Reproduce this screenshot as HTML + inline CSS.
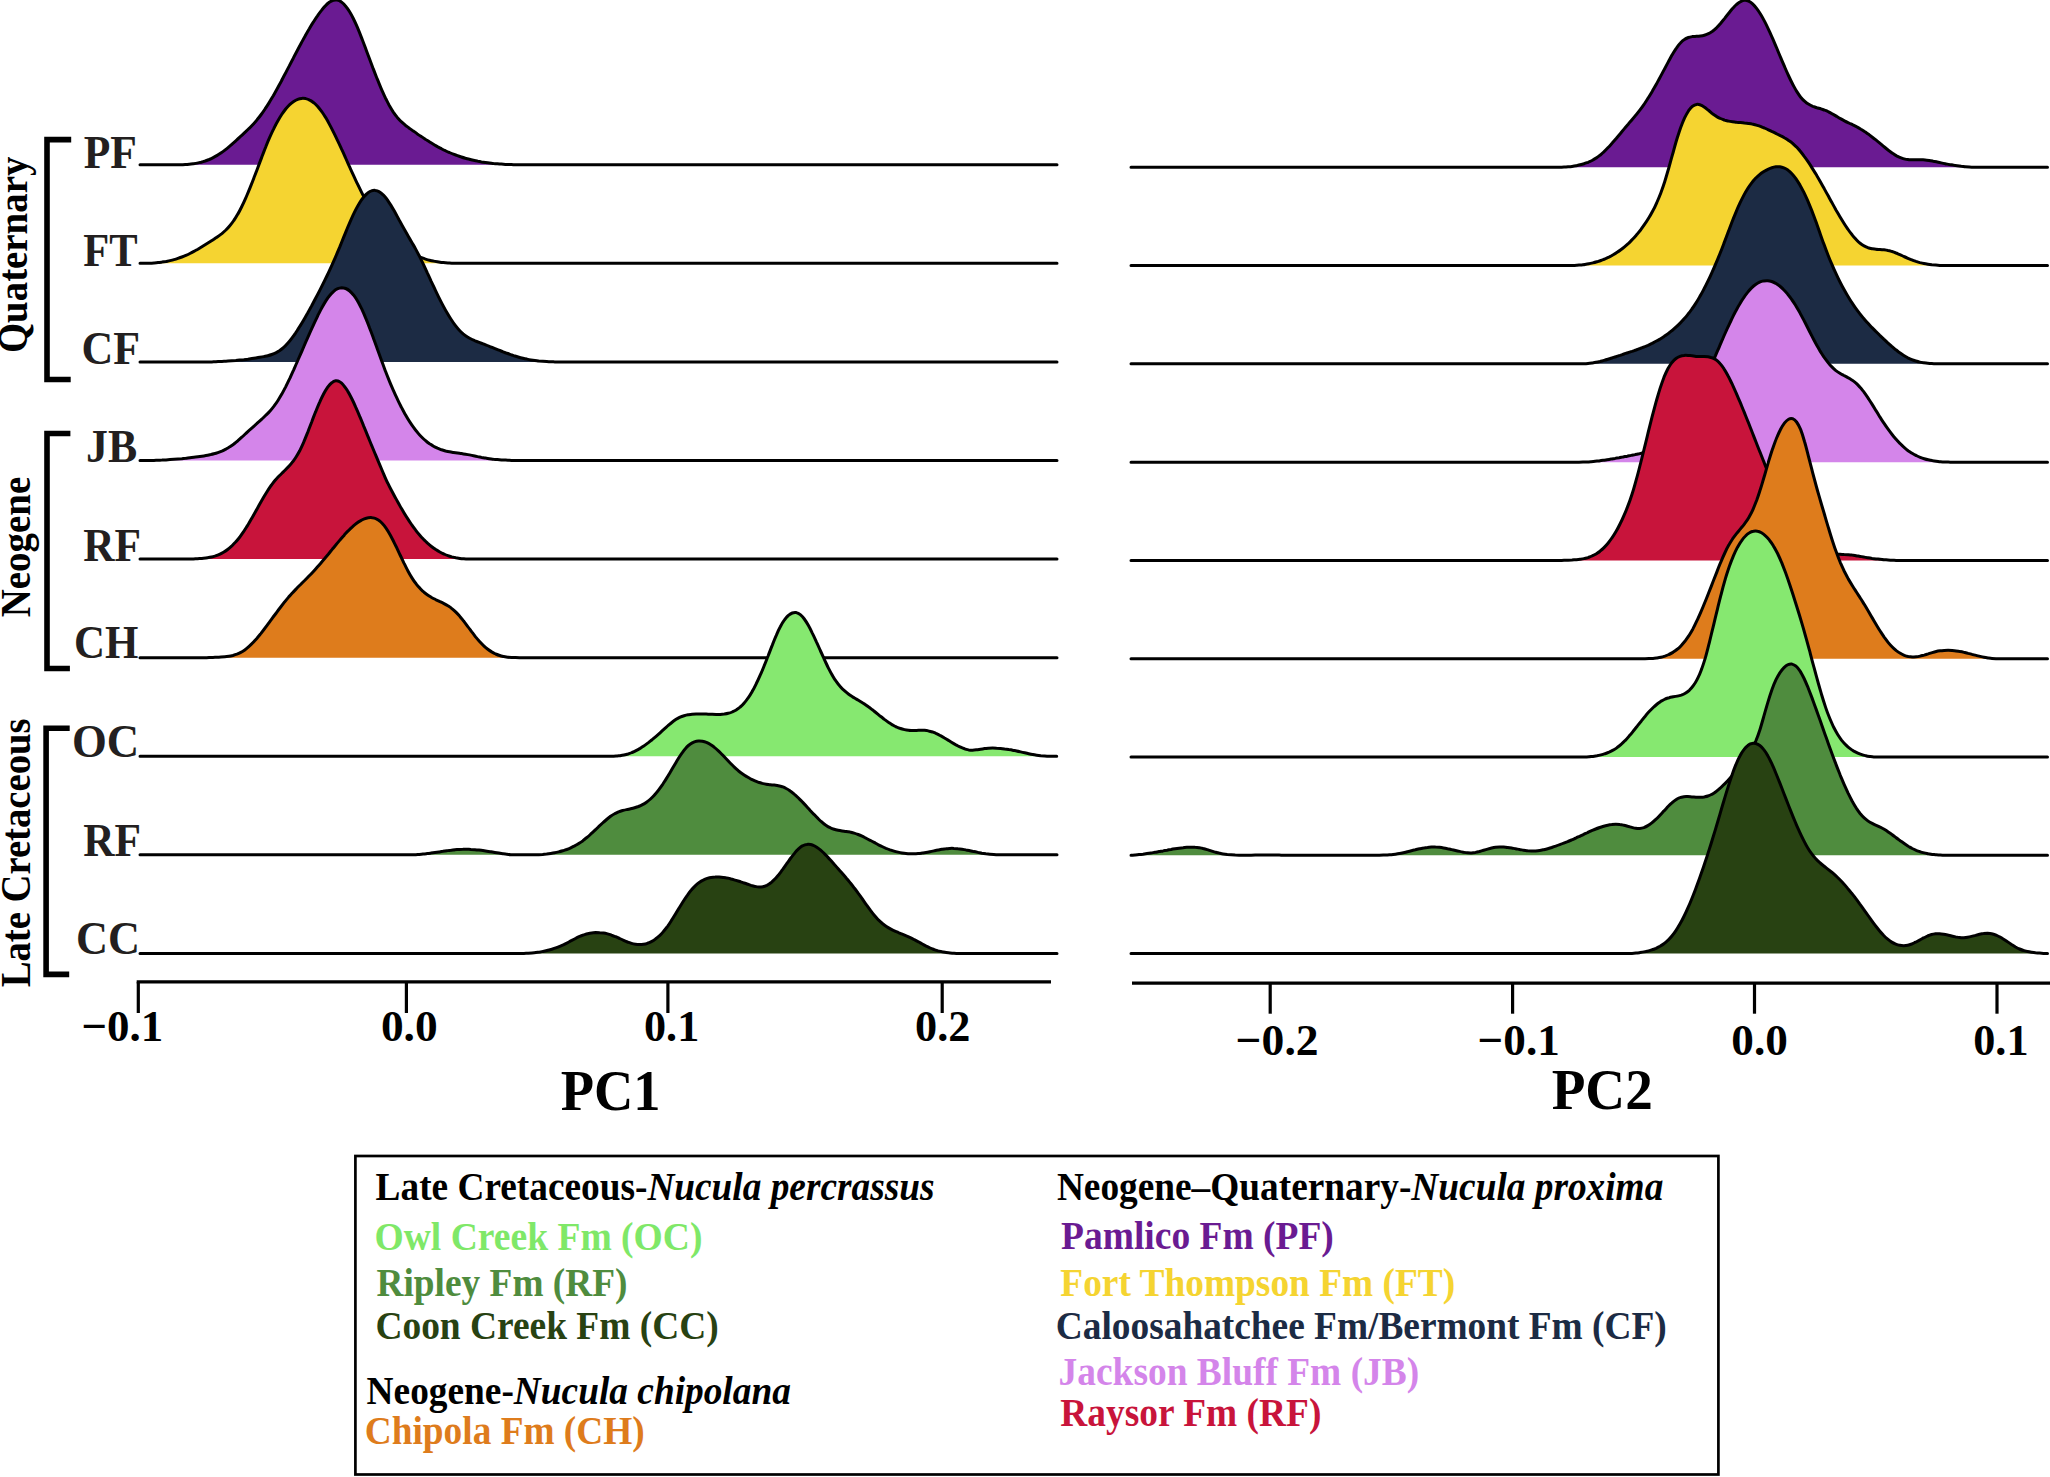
<!DOCTYPE html>
<html lang="en"><head><meta charset="utf-8"><title>Ridgeline plot PC1 / PC2</title>
<style>html,body{margin:0;padding:0;background:#fff}body{width:2050px;height:1477px;overflow:hidden}svg{display:block}</style>
</head><body>
<svg width="2050" height="1477" viewBox="0 0 2050 1477">
<rect width="2050" height="1477" fill="#fff"/>
<g stroke-linecap="round" stroke-linejoin="round">
<path d="M181.2 164.8C181.9 164.8 183.9 164.7 185.2 164.6C186.5 164.6 187.9 164.5 189.2 164.3C190.5 164.2 191.9 164 193.2 163.8C194.5 163.6 195.9 163.4 197.2 163.1C198.5 162.8 199.9 162.5 201.2 162.2C202.5 161.8 203.9 161.4 205.2 161C206.5 160.5 207.9 160 209.2 159.5C210.6 158.9 211.9 158.3 213.2 157.6C214.6 156.9 215.9 156.2 217.2 155.4C218.6 154.6 219.9 153.7 221.2 152.8C222.6 151.9 223.9 150.9 225.2 149.9C226.6 148.8 227.9 147.7 229.2 146.6C230.6 145.5 231.9 144.3 233.2 143.2C234.6 142 235.9 140.8 237.2 139.5C238.6 138.3 239.9 137.1 241.2 135.8C242.6 134.6 243.9 133.3 245.2 132.1C246.6 130.8 247.9 129.6 249.2 128.3C250.6 127 251.9 125.6 253.2 124.2C254.6 122.8 255.9 121.3 257.2 119.6C258.6 118 259.9 116.3 261.2 114.5C262.6 112.6 263.9 110.7 265.2 108.7C266.6 106.7 267.9 104.6 269.3 102.4C270.6 100.3 271.9 98 273.3 95.7C274.6 93.4 275.9 91 277.3 88.6C278.6 86.2 279.9 83.7 281.3 81.2C282.6 78.7 283.9 76.1 285.3 73.6C286.6 71 287.9 68.5 289.3 65.9C290.6 63.3 291.9 60.7 293.3 58.2C294.6 55.6 295.9 53.1 297.3 50.5C298.6 48 299.9 45.5 301.3 43C302.6 40.6 303.9 38.1 305.3 35.7C306.6 33.4 307.9 31 309.3 28.8C310.6 26.5 311.9 24.3 313.3 22.2C314.6 20.1 315.9 18 317.3 16.1C318.6 14.2 319.9 12.3 321.3 10.6C322.6 8.9 324 7.2 325.3 5.9C326.6 4.5 328 3.3 329.3 2.3C330.6 1.4 332 0.7 333.3 0.3C334.6 -0.1 336 -0.2 337.3 0.1C338.6 0.4 340 1 341.3 1.9C342.6 2.9 344 4.1 345.3 5.7C346.6 7.2 348 9.1 349.3 11.3C350.6 13.4 352 15.8 353.3 18.5C354.6 21.1 356 24.1 357.3 27.2C358.6 30.3 360 33.7 361.3 37.1C362.6 40.5 364 44 365.3 47.6C366.6 51.1 368 54.7 369.3 58.3C370.6 61.9 372 65.5 373.3 68.9C374.6 72.4 376 75.9 377.3 79.2C378.7 82.5 380 85.8 381.3 88.8C382.7 91.9 384 94.9 385.3 97.7C386.7 100.4 388 103.1 389.3 105.5C390.7 107.9 392 110.1 393.3 112.1C394.7 114.1 396 115.8 397.3 117.4C398.7 119 400 120.4 401.3 121.7C402.7 123 404 124.1 405.3 125.2C406.7 126.3 408 127.2 409.3 128.2C410.7 129.2 412 130.1 413.3 131.1C414.7 132 416 132.9 417.3 133.9C418.7 134.8 420 135.7 421.3 136.6C422.7 137.5 424 138.4 425.3 139.3C426.7 140.1 428 141 429.3 141.8C430.7 142.7 432 143.5 433.4 144.3C434.7 145.1 436 145.8 437.4 146.6C438.7 147.3 440 148 441.4 148.7C442.7 149.4 444 150.1 445.4 150.7C446.7 151.4 448 152 449.4 152.5C450.7 153.1 452 153.7 453.4 154.2C454.7 154.7 456 155.2 457.4 155.7C458.7 156.2 460 156.6 461.4 157C462.7 157.5 464 157.9 465.4 158.3C466.7 158.6 468 159 469.4 159.3C470.7 159.7 472 160 473.4 160.3C474.7 160.6 476 160.9 477.4 161.1C478.7 161.4 480 161.6 481.4 161.9C482.7 162.1 484 162.3 485.4 162.5C486.7 162.7 488 162.9 489.4 163C490.7 163.2 492.1 163.3 493.4 163.5C494.7 163.6 496.1 163.7 497.4 163.8C498.7 163.9 500.1 164 501.4 164.1C502.7 164.2 504.1 164.3 505.4 164.4C506.7 164.4 508.1 164.5 509.4 164.5C510.7 164.6 512.1 164.6 513.4 164.7C514.7 164.7 516.7 164.8 517.4 164.8Z" fill="#6a1b92" stroke="none"/>
<path d="M140 164.8L181.2 164.8C181.9 164.8 183.9 164.7 185.2 164.6C186.5 164.6 187.9 164.5 189.2 164.3C190.5 164.2 191.9 164 193.2 163.8C194.5 163.6 195.9 163.4 197.2 163.1C198.5 162.8 199.9 162.5 201.2 162.2C202.5 161.8 203.9 161.4 205.2 161C206.5 160.5 207.9 160 209.2 159.5C210.6 158.9 211.9 158.3 213.2 157.6C214.6 156.9 215.9 156.2 217.2 155.4C218.6 154.6 219.9 153.7 221.2 152.8C222.6 151.9 223.9 150.9 225.2 149.9C226.6 148.8 227.9 147.7 229.2 146.6C230.6 145.5 231.9 144.3 233.2 143.2C234.6 142 235.9 140.8 237.2 139.5C238.6 138.3 239.9 137.1 241.2 135.8C242.6 134.6 243.9 133.3 245.2 132.1C246.6 130.8 247.9 129.6 249.2 128.3C250.6 127 251.9 125.6 253.2 124.2C254.6 122.8 255.9 121.3 257.2 119.6C258.6 118 259.9 116.3 261.2 114.5C262.6 112.6 263.9 110.7 265.2 108.7C266.6 106.7 267.9 104.6 269.3 102.4C270.6 100.3 271.9 98 273.3 95.7C274.6 93.4 275.9 91 277.3 88.6C278.6 86.2 279.9 83.7 281.3 81.2C282.6 78.7 283.9 76.1 285.3 73.6C286.6 71 287.9 68.5 289.3 65.9C290.6 63.3 291.9 60.7 293.3 58.2C294.6 55.6 295.9 53.1 297.3 50.5C298.6 48 299.9 45.5 301.3 43C302.6 40.6 303.9 38.1 305.3 35.7C306.6 33.4 307.9 31 309.3 28.8C310.6 26.5 311.9 24.3 313.3 22.2C314.6 20.1 315.9 18 317.3 16.1C318.6 14.2 319.9 12.3 321.3 10.6C322.6 8.9 324 7.2 325.3 5.9C326.6 4.5 328 3.3 329.3 2.3C330.6 1.4 332 0.7 333.3 0.3C334.6 -0.1 336 -0.2 337.3 0.1C338.6 0.4 340 1 341.3 1.9C342.6 2.9 344 4.1 345.3 5.7C346.6 7.2 348 9.1 349.3 11.3C350.6 13.4 352 15.8 353.3 18.5C354.6 21.1 356 24.1 357.3 27.2C358.6 30.3 360 33.7 361.3 37.1C362.6 40.5 364 44 365.3 47.6C366.6 51.1 368 54.7 369.3 58.3C370.6 61.9 372 65.5 373.3 68.9C374.6 72.4 376 75.9 377.3 79.2C378.7 82.5 380 85.8 381.3 88.8C382.7 91.9 384 94.9 385.3 97.7C386.7 100.4 388 103.1 389.3 105.5C390.7 107.9 392 110.1 393.3 112.1C394.7 114.1 396 115.8 397.3 117.4C398.7 119 400 120.4 401.3 121.7C402.7 123 404 124.1 405.3 125.2C406.7 126.3 408 127.2 409.3 128.2C410.7 129.2 412 130.1 413.3 131.1C414.7 132 416 132.9 417.3 133.9C418.7 134.8 420 135.7 421.3 136.6C422.7 137.5 424 138.4 425.3 139.3C426.7 140.1 428 141 429.3 141.8C430.7 142.7 432 143.5 433.4 144.3C434.7 145.1 436 145.8 437.4 146.6C438.7 147.3 440 148 441.4 148.7C442.7 149.4 444 150.1 445.4 150.7C446.7 151.4 448 152 449.4 152.5C450.7 153.1 452 153.7 453.4 154.2C454.7 154.7 456 155.2 457.4 155.7C458.7 156.2 460 156.6 461.4 157C462.7 157.5 464 157.9 465.4 158.3C466.7 158.6 468 159 469.4 159.3C470.7 159.7 472 160 473.4 160.3C474.7 160.6 476 160.9 477.4 161.1C478.7 161.4 480 161.6 481.4 161.9C482.7 162.1 484 162.3 485.4 162.5C486.7 162.7 488 162.9 489.4 163C490.7 163.2 492.1 163.3 493.4 163.5C494.7 163.6 496.1 163.7 497.4 163.8C498.7 163.9 500.1 164 501.4 164.1C502.7 164.2 504.1 164.3 505.4 164.4C506.7 164.4 508.1 164.5 509.4 164.5C510.7 164.6 512.1 164.6 513.4 164.7C514.7 164.7 516.7 164.8 517.4 164.8L1057 164.8" fill="none" stroke="#000" stroke-width="3.0"/>
<path d="M150 263.2C150.7 263.2 152.7 263.1 154 263C155.3 262.9 156.7 262.8 158 262.6C159.3 262.5 160.6 262.3 162 262.1C163.3 261.9 164.6 261.7 166 261.5C167.3 261.2 168.6 261 170 260.6C171.3 260.3 172.6 260 174 259.6C175.3 259.3 176.6 258.9 177.9 258.4C179.3 258 180.6 257.5 181.9 257C183.3 256.5 184.6 256 185.9 255.4C187.3 254.8 188.6 254.2 189.9 253.5C191.3 252.8 192.6 252.1 193.9 251.4C195.2 250.7 196.6 249.9 197.9 249.2C199.2 248.4 200.6 247.6 201.9 246.8C203.2 246 204.6 245.1 205.9 244.3C207.2 243.5 208.6 242.6 209.9 241.8C211.2 240.9 212.5 240.1 213.9 239.2C215.2 238.3 216.5 237.5 217.9 236.5C219.2 235.6 220.5 234.6 221.9 233.6C223.2 232.5 224.5 231.3 225.9 230C227.2 228.7 228.5 227.3 229.8 225.7C231.2 224.1 232.5 222.4 233.8 220.5C235.2 218.6 236.5 216.4 237.8 214.1C239.2 211.8 240.5 209.2 241.8 206.5C243.2 203.8 244.5 200.9 245.8 197.9C247.1 194.8 248.5 191.6 249.8 188.4C251.1 185.1 252.5 181.7 253.8 178.2C255.1 174.8 256.5 171.3 257.8 167.7C259.1 164.2 260.5 160.6 261.8 157.1C263.1 153.6 264.4 150.1 265.8 146.8C267.1 143.5 268.4 140.3 269.8 137.2C271.1 134.2 272.4 131.3 273.8 128.6C275.1 125.9 276.4 123.4 277.8 121C279.1 118.7 280.4 116.5 281.7 114.5C283.1 112.5 284.4 110.7 285.7 109C287.1 107.4 288.4 105.9 289.7 104.7C291.1 103.4 292.4 102.3 293.7 101.4C295.1 100.5 296.4 99.8 297.7 99.3C299 98.8 300.4 98.5 301.7 98.4C303 98.3 304.4 98.4 305.7 98.6C307 98.9 308.4 99.4 309.7 100.1C311 100.7 312.3 101.6 313.7 102.7C315 103.8 316.3 105 317.7 106.5C319 108 320.3 109.7 321.7 111.5C323 113.4 324.3 115.4 325.7 117.6C327 119.8 328.3 122.2 329.6 124.6C331 127.1 332.3 129.7 333.6 132.3C335 135 336.3 137.8 337.6 140.6C339 143.4 340.3 146.3 341.6 149.2C343 152.1 344.3 155.1 345.6 158C346.9 161 348.3 164 349.6 166.9C350.9 169.8 352.3 172.8 353.6 175.7C354.9 178.6 356.3 181.4 357.6 184.2C358.9 186.9 360.3 189.7 361.6 192.3C362.9 194.9 364.2 197.5 365.6 200C366.9 202.5 368.2 204.9 369.6 207.2C370.9 209.5 372.2 211.7 373.6 213.9C374.9 216 376.2 218 377.6 220C378.9 221.9 380.2 223.8 381.5 225.6C382.9 227.4 384.2 229.1 385.5 230.7C386.9 232.3 388.2 233.8 389.5 235.3C390.9 236.7 392.2 238.1 393.5 239.4C394.9 240.7 396.2 242 397.5 243.1C398.8 244.3 400.2 245.4 401.5 246.5C402.8 247.5 404.2 248.5 405.5 249.4C406.8 250.3 408.2 251.2 409.5 251.9C410.8 252.7 412.2 253.5 413.5 254.2C414.8 254.9 416.1 255.5 417.5 256.1C418.8 256.7 420.1 257.2 421.5 257.7C422.8 258.2 424.1 258.7 425.5 259.1C426.8 259.5 428.1 259.9 429.5 260.2C430.8 260.6 432.1 260.9 433.4 261.1C434.8 261.4 436.1 261.6 437.4 261.8C438.8 262 440.1 262.2 441.4 262.4C442.8 262.5 444.1 262.7 445.4 262.8C446.8 262.9 448.1 263 449.4 263C450.7 263.1 452.1 263.2 453.4 263.2C454.7 263.2 456.7 263.2 457.4 263.2Z" fill="#f5d431" stroke="none"/>
<path d="M140 263.2L150 263.2C150.7 263.2 152.7 263.1 154 263C155.3 262.9 156.7 262.8 158 262.6C159.3 262.5 160.6 262.3 162 262.1C163.3 261.9 164.6 261.7 166 261.5C167.3 261.2 168.6 261 170 260.6C171.3 260.3 172.6 260 174 259.6C175.3 259.3 176.6 258.9 177.9 258.4C179.3 258 180.6 257.5 181.9 257C183.3 256.5 184.6 256 185.9 255.4C187.3 254.8 188.6 254.2 189.9 253.5C191.3 252.8 192.6 252.1 193.9 251.4C195.2 250.7 196.6 249.9 197.9 249.2C199.2 248.4 200.6 247.6 201.9 246.8C203.2 246 204.6 245.1 205.9 244.3C207.2 243.5 208.6 242.6 209.9 241.8C211.2 240.9 212.5 240.1 213.9 239.2C215.2 238.3 216.5 237.5 217.9 236.5C219.2 235.6 220.5 234.6 221.9 233.6C223.2 232.5 224.5 231.3 225.9 230C227.2 228.7 228.5 227.3 229.8 225.7C231.2 224.1 232.5 222.4 233.8 220.5C235.2 218.6 236.5 216.4 237.8 214.1C239.2 211.8 240.5 209.2 241.8 206.5C243.2 203.8 244.5 200.9 245.8 197.9C247.1 194.8 248.5 191.6 249.8 188.4C251.1 185.1 252.5 181.7 253.8 178.2C255.1 174.8 256.5 171.3 257.8 167.7C259.1 164.2 260.5 160.6 261.8 157.1C263.1 153.6 264.4 150.1 265.8 146.8C267.1 143.5 268.4 140.3 269.8 137.2C271.1 134.2 272.4 131.3 273.8 128.6C275.1 125.9 276.4 123.4 277.8 121C279.1 118.7 280.4 116.5 281.7 114.5C283.1 112.5 284.4 110.7 285.7 109C287.1 107.4 288.4 105.9 289.7 104.7C291.1 103.4 292.4 102.3 293.7 101.4C295.1 100.5 296.4 99.8 297.7 99.3C299 98.8 300.4 98.5 301.7 98.4C303 98.3 304.4 98.4 305.7 98.6C307 98.9 308.4 99.4 309.7 100.1C311 100.7 312.3 101.6 313.7 102.7C315 103.8 316.3 105 317.7 106.5C319 108 320.3 109.7 321.7 111.5C323 113.4 324.3 115.4 325.7 117.6C327 119.8 328.3 122.2 329.6 124.6C331 127.1 332.3 129.7 333.6 132.3C335 135 336.3 137.8 337.6 140.6C339 143.4 340.3 146.3 341.6 149.2C343 152.1 344.3 155.1 345.6 158C346.9 161 348.3 164 349.6 166.9C350.9 169.8 352.3 172.8 353.6 175.7C354.9 178.6 356.3 181.4 357.6 184.2C358.9 186.9 360.3 189.7 361.6 192.3C362.9 194.9 364.2 197.5 365.6 200C366.9 202.5 368.2 204.9 369.6 207.2C370.9 209.5 372.2 211.7 373.6 213.9C374.9 216 376.2 218 377.6 220C378.9 221.9 380.2 223.8 381.5 225.6C382.9 227.4 384.2 229.1 385.5 230.7C386.9 232.3 388.2 233.8 389.5 235.3C390.9 236.7 392.2 238.1 393.5 239.4C394.9 240.7 396.2 242 397.5 243.1C398.8 244.3 400.2 245.4 401.5 246.5C402.8 247.5 404.2 248.5 405.5 249.4C406.8 250.3 408.2 251.2 409.5 251.9C410.8 252.7 412.2 253.5 413.5 254.2C414.8 254.9 416.1 255.5 417.5 256.1C418.8 256.7 420.1 257.2 421.5 257.7C422.8 258.2 424.1 258.7 425.5 259.1C426.8 259.5 428.1 259.9 429.5 260.2C430.8 260.6 432.1 260.9 433.4 261.1C434.8 261.4 436.1 261.6 437.4 261.8C438.8 262 440.1 262.2 441.4 262.4C442.8 262.5 444.1 262.7 445.4 262.8C446.8 262.9 448.1 263 449.4 263C450.7 263.1 452.1 263.2 453.4 263.2C454.7 263.2 456.7 263.2 457.4 263.2L1057 263.2" fill="none" stroke="#000" stroke-width="3.0"/>
<path d="M212 361.9C212.7 361.9 214.7 361.7 216 361.7C217.3 361.6 218.6 361.6 220 361.5C221.3 361.4 222.6 361.4 224 361.3C225.3 361.2 226.6 361.2 227.9 361.1C229.3 361 230.6 360.9 231.9 360.8C233.3 360.7 234.6 360.6 235.9 360.5C237.2 360.3 238.6 360.2 239.9 360.1C241.2 360 242.6 359.8 243.9 359.7C245.2 359.5 246.5 359.3 247.9 359.2C249.2 359 250.5 358.8 251.9 358.6C253.2 358.4 254.5 358.2 255.8 358C257.2 357.8 258.5 357.6 259.8 357.3C261.2 357.1 262.5 356.9 263.8 356.6C265.1 356.3 266.5 356.1 267.8 355.7C269.1 355.4 270.5 355 271.8 354.5C273.1 354 274.4 353.5 275.8 352.8C277.1 352.2 278.4 351.4 279.8 350.5C281.1 349.5 282.4 348.5 283.7 347.3C285.1 346.1 286.4 344.7 287.7 343.2C289.1 341.7 290.4 340.1 291.7 338.3C293 336.6 294.4 334.7 295.7 332.8C297 330.8 298.4 328.8 299.7 326.6C301 324.5 302.4 322.3 303.7 320C305 317.7 306.3 315.3 307.7 313C309 310.6 310.3 308.1 311.7 305.7C313 303.2 314.3 300.7 315.6 298.2C317 295.7 318.3 293.2 319.6 290.6C321 288 322.3 285.4 323.6 282.7C324.9 280 326.3 277.3 327.6 274.5C328.9 271.7 330.3 268.9 331.6 265.9C332.9 263 334.2 260 335.6 256.9C336.9 253.8 338.2 250.6 339.6 247.4C340.9 244.2 342.2 240.8 343.5 237.6C344.9 234.3 346.2 231 347.5 227.8C348.9 224.7 350.2 221.5 351.5 218.6C352.8 215.7 354.2 212.8 355.5 210.2C356.8 207.6 358.2 205.2 359.5 203C360.8 200.9 362.1 199 363.5 197.3C364.8 195.7 366.1 194.3 367.5 193.2C368.8 192.1 370.1 191.3 371.4 190.9C372.8 190.4 374.1 190.2 375.4 190.4C376.8 190.5 378.1 191.1 379.4 191.9C380.7 192.6 382.1 193.8 383.4 195.1C384.7 196.5 386.1 198.1 387.4 199.9C388.7 201.8 390 203.9 391.4 206.1C392.7 208.2 394 210.6 395.4 213C396.7 215.4 398 217.9 399.3 220.3C400.7 222.7 402 225.2 403.3 227.6C404.7 230 406 232.3 407.3 234.6C408.6 237 410 239.2 411.3 241.5C412.6 243.8 414 246 415.3 248.4C416.6 250.9 417.9 253.3 419.3 255.9C420.6 258.6 421.9 261.3 423.3 264.1C424.6 266.9 425.9 269.7 427.2 272.6C428.6 275.5 429.9 278.4 431.2 281.3C432.6 284.2 433.9 287.1 435.2 289.9C436.5 292.7 437.9 295.4 439.2 298.1C440.5 300.8 441.9 303.4 443.2 305.9C444.5 308.4 445.8 310.8 447.2 313C448.5 315.3 449.8 317.5 451.2 319.5C452.5 321.5 453.8 323.5 455.1 325.2C456.5 327 457.8 328.6 459.1 330C460.5 331.5 461.8 332.7 463.1 333.9C464.4 335 465.8 335.9 467.1 336.8C468.4 337.6 469.8 338.3 471.1 339C472.4 339.7 473.8 340.2 475.1 340.8C476.4 341.3 477.7 341.8 479.1 342.3C480.4 342.8 481.7 343.3 483.1 343.8C484.4 344.3 485.7 344.9 487 345.4C488.4 345.9 489.7 346.5 491 347C492.4 347.5 493.7 348.1 495 348.6C496.3 349.2 497.7 349.7 499 350.2C500.3 350.7 501.7 351.3 503 351.8C504.3 352.3 505.6 352.8 507 353.3C508.3 353.7 509.6 354.2 511 354.7C512.3 355.1 513.6 355.6 514.9 356C516.3 356.4 517.6 356.8 518.9 357.2C520.3 357.6 521.6 357.9 522.9 358.2C524.2 358.6 525.6 358.9 526.9 359.1C528.2 359.4 529.6 359.7 530.9 359.9C532.2 360.1 533.5 360.3 534.9 360.5C536.2 360.7 537.5 360.8 538.9 361C540.2 361.1 541.5 361.2 542.8 361.3C544.2 361.4 545.5 361.5 546.8 361.6C548.2 361.7 549.5 361.7 550.8 361.8C552.1 361.8 554.1 361.9 554.8 361.9Z" fill="#1c2b44" stroke="none"/>
<path d="M140 361.9L212 361.9C212.7 361.9 214.7 361.7 216 361.7C217.3 361.6 218.6 361.6 220 361.5C221.3 361.4 222.6 361.4 224 361.3C225.3 361.2 226.6 361.2 227.9 361.1C229.3 361 230.6 360.9 231.9 360.8C233.3 360.7 234.6 360.6 235.9 360.5C237.2 360.3 238.6 360.2 239.9 360.1C241.2 360 242.6 359.8 243.9 359.7C245.2 359.5 246.5 359.3 247.9 359.2C249.2 359 250.5 358.8 251.9 358.6C253.2 358.4 254.5 358.2 255.8 358C257.2 357.8 258.5 357.6 259.8 357.3C261.2 357.1 262.5 356.9 263.8 356.6C265.1 356.3 266.5 356.1 267.8 355.7C269.1 355.4 270.5 355 271.8 354.5C273.1 354 274.4 353.5 275.8 352.8C277.1 352.2 278.4 351.4 279.8 350.5C281.1 349.5 282.4 348.5 283.7 347.3C285.1 346.1 286.4 344.7 287.7 343.2C289.1 341.7 290.4 340.1 291.7 338.3C293 336.6 294.4 334.7 295.7 332.8C297 330.8 298.4 328.8 299.7 326.6C301 324.5 302.4 322.3 303.7 320C305 317.7 306.3 315.3 307.7 313C309 310.6 310.3 308.1 311.7 305.7C313 303.2 314.3 300.7 315.6 298.2C317 295.7 318.3 293.2 319.6 290.6C321 288 322.3 285.4 323.6 282.7C324.9 280 326.3 277.3 327.6 274.5C328.9 271.7 330.3 268.9 331.6 265.9C332.9 263 334.2 260 335.6 256.9C336.9 253.8 338.2 250.6 339.6 247.4C340.9 244.2 342.2 240.8 343.5 237.6C344.9 234.3 346.2 231 347.5 227.8C348.9 224.7 350.2 221.5 351.5 218.6C352.8 215.7 354.2 212.8 355.5 210.2C356.8 207.6 358.2 205.2 359.5 203C360.8 200.9 362.1 199 363.5 197.3C364.8 195.7 366.1 194.3 367.5 193.2C368.8 192.1 370.1 191.3 371.4 190.9C372.8 190.4 374.1 190.2 375.4 190.4C376.8 190.5 378.1 191.1 379.4 191.9C380.7 192.6 382.1 193.8 383.4 195.1C384.7 196.5 386.1 198.1 387.4 199.9C388.7 201.8 390 203.9 391.4 206.1C392.7 208.2 394 210.6 395.4 213C396.7 215.4 398 217.9 399.3 220.3C400.7 222.7 402 225.2 403.3 227.6C404.7 230 406 232.3 407.3 234.6C408.6 237 410 239.2 411.3 241.5C412.6 243.8 414 246 415.3 248.4C416.6 250.9 417.9 253.3 419.3 255.9C420.6 258.6 421.9 261.3 423.3 264.1C424.6 266.9 425.9 269.7 427.2 272.6C428.6 275.5 429.9 278.4 431.2 281.3C432.6 284.2 433.9 287.1 435.2 289.9C436.5 292.7 437.9 295.4 439.2 298.1C440.5 300.8 441.9 303.4 443.2 305.9C444.5 308.4 445.8 310.8 447.2 313C448.5 315.3 449.8 317.5 451.2 319.5C452.5 321.5 453.8 323.5 455.1 325.2C456.5 327 457.8 328.6 459.1 330C460.5 331.5 461.8 332.7 463.1 333.9C464.4 335 465.8 335.9 467.1 336.8C468.4 337.6 469.8 338.3 471.1 339C472.4 339.7 473.8 340.2 475.1 340.8C476.4 341.3 477.7 341.8 479.1 342.3C480.4 342.8 481.7 343.3 483.1 343.8C484.4 344.3 485.7 344.9 487 345.4C488.4 345.9 489.7 346.5 491 347C492.4 347.5 493.7 348.1 495 348.6C496.3 349.2 497.7 349.7 499 350.2C500.3 350.7 501.7 351.3 503 351.8C504.3 352.3 505.6 352.8 507 353.3C508.3 353.7 509.6 354.2 511 354.7C512.3 355.1 513.6 355.6 514.9 356C516.3 356.4 517.6 356.8 518.9 357.2C520.3 357.6 521.6 357.9 522.9 358.2C524.2 358.6 525.6 358.9 526.9 359.1C528.2 359.4 529.6 359.7 530.9 359.9C532.2 360.1 533.5 360.3 534.9 360.5C536.2 360.7 537.5 360.8 538.9 361C540.2 361.1 541.5 361.2 542.8 361.3C544.2 361.4 545.5 361.5 546.8 361.6C548.2 361.7 549.5 361.7 550.8 361.8C552.1 361.8 554.1 361.9 554.8 361.9L1057 361.9" fill="none" stroke="#000" stroke-width="3.0"/>
<path d="M150 460.6C150.7 460.6 152.7 460.4 154 460.4C155.3 460.3 156.7 460.3 158 460.2C159.3 460.2 160.6 460.1 162 460.1C163.3 460 164.6 459.9 166 459.9C167.3 459.8 168.6 459.7 170 459.6C171.3 459.5 172.6 459.4 174 459.3C175.3 459.2 176.6 459.1 178 459C179.3 458.9 180.6 458.8 181.9 458.7C183.3 458.5 184.6 458.4 185.9 458.3C187.3 458.1 188.6 458 189.9 457.8C191.3 457.7 192.6 457.5 193.9 457.3C195.3 457.2 196.6 457 197.9 456.8C199.3 456.6 200.6 456.4 201.9 456.2C203.2 456 204.6 455.8 205.9 455.6C207.2 455.4 208.6 455.1 209.9 454.8C211.2 454.5 212.6 454.2 213.9 453.8C215.2 453.5 216.6 453.1 217.9 452.6C219.2 452.1 220.6 451.6 221.9 451.1C223.2 450.5 224.5 449.8 225.9 449.1C227.2 448.4 228.5 447.6 229.9 446.8C231.2 445.9 232.5 445 233.9 444C235.2 442.9 236.5 441.8 237.9 440.7C239.2 439.6 240.5 438.4 241.8 437.2C243.2 436 244.5 434.7 245.8 433.5C247.2 432.3 248.5 431.1 249.8 429.8C251.2 428.6 252.5 427.5 253.8 426.3C255.2 425.1 256.5 423.9 257.8 422.7C259.2 421.5 260.5 420.3 261.8 419.1C263.1 417.9 264.5 416.7 265.8 415.3C267.1 414 268.5 412.7 269.8 411.2C271.1 409.7 272.5 408.1 273.8 406.4C275.1 404.6 276.5 402.7 277.8 400.7C279.1 398.6 280.5 396.4 281.8 394.1C283.1 391.7 284.4 389.2 285.8 386.6C287.1 384 288.4 381.2 289.8 378.4C291.1 375.5 292.4 372.5 293.8 369.6C295.1 366.6 296.4 363.6 297.8 360.5C299.1 357.5 300.4 354.4 301.8 351.3C303.1 348.3 304.4 345.2 305.7 342.2C307.1 339.1 308.4 336.1 309.7 333.1C311.1 330.1 312.4 327.1 313.7 324.3C315.1 321.4 316.4 318.5 317.7 315.8C319.1 313.1 320.4 310.4 321.7 308C323.1 305.5 324.4 303.2 325.7 301.1C327 299 328.4 297.1 329.7 295.5C331 293.8 332.4 292.4 333.7 291.3C335 290.1 336.4 289.3 337.7 288.7C339 288.1 340.4 287.8 341.7 287.7C343 287.7 344.3 288 345.7 288.5C347 289 348.3 289.8 349.7 291C351 292.1 352.3 293.5 353.7 295.2C355 296.9 356.3 298.9 357.7 301.2C359 303.5 360.3 306.1 361.7 308.9C363 311.7 364.3 314.7 365.6 317.9C367 321.1 368.3 324.5 369.6 328C371 331.4 372.3 335.1 373.6 338.7C375 342.3 376.3 346 377.6 349.7C379 353.4 380.3 357.1 381.6 360.8C383 364.4 384.3 368 385.6 371.5C386.9 374.9 388.3 378.3 389.6 381.6C390.9 384.8 392.3 387.9 393.6 390.9C394.9 394 396.3 396.9 397.6 399.6C398.9 402.4 400.3 405.1 401.6 407.7C402.9 410.2 404.3 412.6 405.6 415C406.9 417.3 408.2 419.5 409.6 421.6C410.9 423.6 412.2 425.6 413.6 427.4C414.9 429.3 416.2 431 417.6 432.6C418.9 434.2 420.2 435.6 421.6 437C422.9 438.3 424.2 439.5 425.6 440.6C426.9 441.8 428.2 442.8 429.5 443.7C430.9 444.6 432.2 445.5 433.5 446.2C434.9 447 436.2 447.6 437.5 448.2C438.9 448.8 440.2 449.3 441.5 449.8C442.9 450.2 444.2 450.6 445.5 451C446.8 451.3 448.2 451.6 449.5 451.8C450.8 452.1 452.2 452.3 453.5 452.5C454.8 452.7 456.2 452.9 457.5 453.1C458.8 453.3 460.2 453.4 461.5 453.6C462.8 453.8 464.2 454 465.5 454.2C466.8 454.4 468.1 454.6 469.5 454.9C470.8 455.2 472.1 455.5 473.5 455.7C474.8 456 476.1 456.3 477.5 456.6C478.8 456.9 480.1 457.1 481.5 457.4C482.8 457.6 484.1 457.9 485.5 458.1C486.8 458.3 488.1 458.5 489.4 458.7C490.8 458.9 492.1 459 493.4 459.2C494.8 459.3 496.1 459.5 497.4 459.6C498.8 459.7 500.1 459.8 501.4 459.9C502.8 460 504.1 460.1 505.4 460.1C506.8 460.2 508.1 460.3 509.4 460.3C510.7 460.4 512.1 460.4 513.4 460.5C514.7 460.5 516.7 460.6 517.4 460.6Z" fill="#d485ea" stroke="none"/>
<path d="M140 460.6L150 460.6C150.7 460.6 152.7 460.4 154 460.4C155.3 460.3 156.7 460.3 158 460.2C159.3 460.2 160.6 460.1 162 460.1C163.3 460 164.6 459.9 166 459.9C167.3 459.8 168.6 459.7 170 459.6C171.3 459.5 172.6 459.4 174 459.3C175.3 459.2 176.6 459.1 178 459C179.3 458.9 180.6 458.8 181.9 458.7C183.3 458.5 184.6 458.4 185.9 458.3C187.3 458.1 188.6 458 189.9 457.8C191.3 457.7 192.6 457.5 193.9 457.3C195.3 457.2 196.6 457 197.9 456.8C199.3 456.6 200.6 456.4 201.9 456.2C203.2 456 204.6 455.8 205.9 455.6C207.2 455.4 208.6 455.1 209.9 454.8C211.2 454.5 212.6 454.2 213.9 453.8C215.2 453.5 216.6 453.1 217.9 452.6C219.2 452.1 220.6 451.6 221.9 451.1C223.2 450.5 224.5 449.8 225.9 449.1C227.2 448.4 228.5 447.6 229.9 446.8C231.2 445.9 232.5 445 233.9 444C235.2 442.9 236.5 441.8 237.9 440.7C239.2 439.6 240.5 438.4 241.8 437.2C243.2 436 244.5 434.7 245.8 433.5C247.2 432.3 248.5 431.1 249.8 429.8C251.2 428.6 252.5 427.5 253.8 426.3C255.2 425.1 256.5 423.9 257.8 422.7C259.2 421.5 260.5 420.3 261.8 419.1C263.1 417.9 264.5 416.7 265.8 415.3C267.1 414 268.5 412.7 269.8 411.2C271.1 409.7 272.5 408.1 273.8 406.4C275.1 404.6 276.5 402.7 277.8 400.7C279.1 398.6 280.5 396.4 281.8 394.1C283.1 391.7 284.4 389.2 285.8 386.6C287.1 384 288.4 381.2 289.8 378.4C291.1 375.5 292.4 372.5 293.8 369.6C295.1 366.6 296.4 363.6 297.8 360.5C299.1 357.5 300.4 354.4 301.8 351.3C303.1 348.3 304.4 345.2 305.7 342.2C307.1 339.1 308.4 336.1 309.7 333.1C311.1 330.1 312.4 327.1 313.7 324.3C315.1 321.4 316.4 318.5 317.7 315.8C319.1 313.1 320.4 310.4 321.7 308C323.1 305.5 324.4 303.2 325.7 301.1C327 299 328.4 297.1 329.7 295.5C331 293.8 332.4 292.4 333.7 291.3C335 290.1 336.4 289.3 337.7 288.7C339 288.1 340.4 287.8 341.7 287.7C343 287.7 344.3 288 345.7 288.5C347 289 348.3 289.8 349.7 291C351 292.1 352.3 293.5 353.7 295.2C355 296.9 356.3 298.9 357.7 301.2C359 303.5 360.3 306.1 361.7 308.9C363 311.7 364.3 314.7 365.6 317.9C367 321.1 368.3 324.5 369.6 328C371 331.4 372.3 335.1 373.6 338.7C375 342.3 376.3 346 377.6 349.7C379 353.4 380.3 357.1 381.6 360.8C383 364.4 384.3 368 385.6 371.5C386.9 374.9 388.3 378.3 389.6 381.6C390.9 384.8 392.3 387.9 393.6 390.9C394.9 394 396.3 396.9 397.6 399.6C398.9 402.4 400.3 405.1 401.6 407.7C402.9 410.2 404.3 412.6 405.6 415C406.9 417.3 408.2 419.5 409.6 421.6C410.9 423.6 412.2 425.6 413.6 427.4C414.9 429.3 416.2 431 417.6 432.6C418.9 434.2 420.2 435.6 421.6 437C422.9 438.3 424.2 439.5 425.6 440.6C426.9 441.8 428.2 442.8 429.5 443.7C430.9 444.6 432.2 445.5 433.5 446.2C434.9 447 436.2 447.6 437.5 448.2C438.9 448.8 440.2 449.3 441.5 449.8C442.9 450.2 444.2 450.6 445.5 451C446.8 451.3 448.2 451.6 449.5 451.8C450.8 452.1 452.2 452.3 453.5 452.5C454.8 452.7 456.2 452.9 457.5 453.1C458.8 453.3 460.2 453.4 461.5 453.6C462.8 453.8 464.2 454 465.5 454.2C466.8 454.4 468.1 454.6 469.5 454.9C470.8 455.2 472.1 455.5 473.5 455.7C474.8 456 476.1 456.3 477.5 456.6C478.8 456.9 480.1 457.1 481.5 457.4C482.8 457.6 484.1 457.9 485.5 458.1C486.8 458.3 488.1 458.5 489.4 458.7C490.8 458.9 492.1 459 493.4 459.2C494.8 459.3 496.1 459.5 497.4 459.6C498.8 459.7 500.1 459.8 501.4 459.9C502.8 460 504.1 460.1 505.4 460.1C506.8 460.2 508.1 460.3 509.4 460.3C510.7 460.4 512.1 460.4 513.4 460.5C514.7 460.5 516.7 460.6 517.4 460.6L1057 460.6" fill="none" stroke="#000" stroke-width="3.0"/>
<path d="M187.5 559.1C188.2 559.1 190.2 559 191.5 559C192.8 558.9 194.2 558.9 195.5 558.8C196.8 558.7 198.2 558.7 199.5 558.6C200.9 558.5 202.2 558.4 203.5 558.2C204.9 558.1 206.2 558 207.5 557.7C208.9 557.5 210.2 557.3 211.5 557C212.9 556.7 214.2 556.3 215.5 555.9C216.9 555.4 218.2 554.9 219.5 554.3C220.9 553.7 222.2 553 223.5 552.2C224.9 551.4 226.2 550.6 227.6 549.5C228.9 548.5 230.2 547.4 231.6 546.2C232.9 544.9 234.2 543.6 235.6 542.1C236.9 540.6 238.2 539 239.6 537.3C240.9 535.5 242.2 533.7 243.6 531.7C244.9 529.7 246.2 527.6 247.6 525.4C248.9 523.2 250.3 520.9 251.6 518.6C252.9 516.3 254.3 513.9 255.6 511.5C256.9 509.1 258.3 506.7 259.6 504.3C260.9 502 262.3 499.6 263.6 497.3C264.9 495.1 266.3 492.9 267.6 490.8C268.9 488.7 270.3 486.7 271.6 484.8C273 483 274.3 481.3 275.6 479.7C277 478.2 278.3 476.8 279.6 475.5C281 474.1 282.3 472.9 283.6 471.6C285 470.3 286.3 469.1 287.6 467.6C289 466.2 290.3 464.8 291.6 463.1C293 461.5 294.3 459.7 295.6 457.7C297 455.6 298.3 453.4 299.7 450.8C301 448.2 302.3 445.3 303.7 442.2C305 439.1 306.3 435.8 307.7 432.4C309 429 310.3 425.5 311.7 422C313 418.5 314.3 415 315.7 411.7C317 408.4 318.3 405.1 319.7 402.1C321 399.1 322.4 396.3 323.7 393.8C325 391.3 326.4 389.1 327.7 387.2C329 385.4 330.4 383.8 331.7 382.8C333 381.7 334.4 381 335.7 380.8C337 380.7 338.4 381 339.7 381.8C341 382.5 342.4 383.8 343.7 385.4C345 386.9 346.4 388.9 347.7 391.1C349.1 393.3 350.4 395.9 351.7 398.5C353.1 401.2 354.4 404.1 355.7 407.1C357.1 410.1 358.4 413.2 359.7 416.4C361.1 419.5 362.4 422.8 363.7 426.1C365.1 429.3 366.4 432.7 367.7 435.9C369.1 439.2 370.4 442.6 371.8 445.8C373.1 449 374.4 452.2 375.8 455.4C377.1 458.6 378.4 461.6 379.8 464.8C381.1 467.9 382.4 471.2 383.8 474.3C385.1 477.4 386.4 480.5 387.8 483.2C389.1 486 390.4 488.5 391.8 491C393.1 493.5 394.4 496 395.8 498.4C397.1 500.8 398.5 503.2 399.8 505.6C401.1 507.9 402.5 510.2 403.8 512.5C405.1 514.7 406.5 516.9 407.8 518.9C409.1 521 410.5 523 411.8 524.9C413.1 526.8 414.5 528.6 415.8 530.3C417.1 532.1 418.5 533.7 419.8 535.2C421.2 536.8 422.5 538.2 423.8 539.6C425.2 540.9 426.5 542.2 427.8 543.4C429.2 544.6 430.5 545.7 431.8 546.7C433.2 547.8 434.5 548.7 435.8 549.6C437.2 550.5 438.5 551.3 439.8 552C441.2 552.8 442.5 553.4 443.9 554C445.2 554.6 446.5 555.2 447.9 555.6C449.2 556.1 450.5 556.5 451.9 556.9C453.2 557.2 454.5 557.5 455.9 557.8C457.2 558 458.5 558.2 459.9 558.4C461.2 558.6 462.5 558.7 463.9 558.8C465.2 558.9 466.5 558.9 467.9 559C469.2 559 470.6 559 471.9 559.1C473.2 559.1 474.6 559.1 475.9 559.1C477.2 559.1 479.2 559.1 479.9 559.1Z" fill="#c8143b" stroke="none"/>
<path d="M140 559.1L187.5 559.1C188.2 559.1 190.2 559 191.5 559C192.8 558.9 194.2 558.9 195.5 558.8C196.8 558.7 198.2 558.7 199.5 558.6C200.9 558.5 202.2 558.4 203.5 558.2C204.9 558.1 206.2 558 207.5 557.7C208.9 557.5 210.2 557.3 211.5 557C212.9 556.7 214.2 556.3 215.5 555.9C216.9 555.4 218.2 554.9 219.5 554.3C220.9 553.7 222.2 553 223.5 552.2C224.9 551.4 226.2 550.6 227.6 549.5C228.9 548.5 230.2 547.4 231.6 546.2C232.9 544.9 234.2 543.6 235.6 542.1C236.9 540.6 238.2 539 239.6 537.3C240.9 535.5 242.2 533.7 243.6 531.7C244.9 529.7 246.2 527.6 247.6 525.4C248.9 523.2 250.3 520.9 251.6 518.6C252.9 516.3 254.3 513.9 255.6 511.5C256.9 509.1 258.3 506.7 259.6 504.3C260.9 502 262.3 499.6 263.6 497.3C264.9 495.1 266.3 492.9 267.6 490.8C268.9 488.7 270.3 486.7 271.6 484.8C273 483 274.3 481.3 275.6 479.7C277 478.2 278.3 476.8 279.6 475.5C281 474.1 282.3 472.9 283.6 471.6C285 470.3 286.3 469.1 287.6 467.6C289 466.2 290.3 464.8 291.6 463.1C293 461.5 294.3 459.7 295.6 457.7C297 455.6 298.3 453.4 299.7 450.8C301 448.2 302.3 445.3 303.7 442.2C305 439.1 306.3 435.8 307.7 432.4C309 429 310.3 425.5 311.7 422C313 418.5 314.3 415 315.7 411.7C317 408.4 318.3 405.1 319.7 402.1C321 399.1 322.4 396.3 323.7 393.8C325 391.3 326.4 389.1 327.7 387.2C329 385.4 330.4 383.8 331.7 382.8C333 381.7 334.4 381 335.7 380.8C337 380.7 338.4 381 339.7 381.8C341 382.5 342.4 383.8 343.7 385.4C345 386.9 346.4 388.9 347.7 391.1C349.1 393.3 350.4 395.9 351.7 398.5C353.1 401.2 354.4 404.1 355.7 407.1C357.1 410.1 358.4 413.2 359.7 416.4C361.1 419.5 362.4 422.8 363.7 426.1C365.1 429.3 366.4 432.7 367.7 435.9C369.1 439.2 370.4 442.6 371.8 445.8C373.1 449 374.4 452.2 375.8 455.4C377.1 458.6 378.4 461.6 379.8 464.8C381.1 467.9 382.4 471.2 383.8 474.3C385.1 477.4 386.4 480.5 387.8 483.2C389.1 486 390.4 488.5 391.8 491C393.1 493.5 394.4 496 395.8 498.4C397.1 500.8 398.5 503.2 399.8 505.6C401.1 507.9 402.5 510.2 403.8 512.5C405.1 514.7 406.5 516.9 407.8 518.9C409.1 521 410.5 523 411.8 524.9C413.1 526.8 414.5 528.6 415.8 530.3C417.1 532.1 418.5 533.7 419.8 535.2C421.2 536.8 422.5 538.2 423.8 539.6C425.2 540.9 426.5 542.2 427.8 543.4C429.2 544.6 430.5 545.7 431.8 546.7C433.2 547.8 434.5 548.7 435.8 549.6C437.2 550.5 438.5 551.3 439.8 552C441.2 552.8 442.5 553.4 443.9 554C445.2 554.6 446.5 555.2 447.9 555.6C449.2 556.1 450.5 556.5 451.9 556.9C453.2 557.2 454.5 557.5 455.9 557.8C457.2 558 458.5 558.2 459.9 558.4C461.2 558.6 462.5 558.7 463.9 558.8C465.2 558.9 466.5 558.9 467.9 559C469.2 559 470.6 559 471.9 559.1C473.2 559.1 474.6 559.1 475.9 559.1C477.2 559.1 479.2 559.1 479.9 559.1L1057 559.1" fill="none" stroke="#000" stroke-width="3.0"/>
<path d="M205 657.7C205.7 657.7 207.7 657.6 209 657.5C210.3 657.5 211.6 657.5 213 657.4C214.3 657.4 215.6 657.3 216.9 657.3C218.3 657.2 219.6 657.2 220.9 657.1C222.3 657 223.6 656.9 224.9 656.8C226.2 656.7 227.6 656.5 228.9 656.3C230.2 656.1 231.6 655.8 232.9 655.5C234.2 655.1 235.5 654.7 236.9 654.2C238.2 653.7 239.5 653.1 240.8 652.4C242.2 651.7 243.5 650.8 244.8 649.9C246.2 648.9 247.5 647.8 248.8 646.6C250.1 645.5 251.5 644.2 252.8 642.8C254.1 641.4 255.4 639.9 256.8 638.4C258.1 636.9 259.4 635.3 260.8 633.6C262.1 631.9 263.4 630.2 264.7 628.5C266.1 626.8 267.4 625 268.7 623.2C270 621.4 271.4 619.6 272.7 617.7C274 615.9 275.4 614.1 276.7 612.3C278 610.5 279.3 608.8 280.7 607C282 605.3 283.3 603.6 284.6 601.9C286 600.3 287.3 598.7 288.6 597.1C290 595.6 291.3 594.1 292.6 592.7C293.9 591.3 295.3 589.9 296.6 588.5C297.9 587.1 299.3 585.8 300.6 584.5C301.9 583.1 303.2 581.8 304.6 580.5C305.9 579.2 307.2 577.9 308.5 576.5C309.9 575.1 311.2 573.8 312.5 572.4C313.9 570.9 315.2 569.5 316.5 568C317.8 566.5 319.2 565 320.5 563.5C321.8 561.9 323.1 560.4 324.5 558.8C325.8 557.2 327.1 555.6 328.5 554C329.8 552.4 331.1 550.7 332.4 549.1C333.8 547.5 335.1 545.8 336.4 544.2C337.8 542.6 339.1 541 340.4 539.5C341.7 537.9 343.1 536.4 344.4 534.9C345.7 533.5 347 532 348.4 530.7C349.7 529.3 351 528 352.4 526.8C353.7 525.7 355 524.5 356.3 523.5C357.7 522.5 359 521.6 360.3 520.9C361.6 520.1 363 519.4 364.3 518.9C365.6 518.4 367 518 368.3 517.8C369.6 517.6 370.9 517.5 372.3 517.7C373.6 517.8 374.9 518.1 376.2 518.8C377.6 519.4 378.9 520.2 380.2 521.4C381.6 522.5 382.9 524 384.2 525.7C385.5 527.4 386.9 529.4 388.2 531.6C389.5 533.8 390.9 536.2 392.2 538.7C393.5 541.2 394.8 544 396.2 546.7C397.5 549.4 398.8 552.3 400.1 555C401.5 557.8 402.8 560.7 404.1 563.4C405.5 566.1 406.8 568.8 408.1 571.2C409.4 573.7 410.8 576 412.1 578.1C413.4 580.2 414.7 582.1 416.1 583.8C417.4 585.5 418.7 587 420.1 588.4C421.4 589.8 422.7 591.1 424 592.2C425.4 593.3 426.7 594.3 428 595.2C429.3 596.1 430.7 596.9 432 597.7C433.3 598.4 434.7 599.1 436 599.8C437.3 600.4 438.6 601 440 601.7C441.3 602.3 442.6 602.9 444 603.6C445.3 604.3 446.6 605 447.9 605.8C449.3 606.7 450.6 607.5 451.9 608.6C453.2 609.6 454.6 610.8 455.9 612.1C457.2 613.4 458.6 614.8 459.9 616.4C461.2 617.9 462.5 619.6 463.9 621.3C465.2 623 466.5 624.8 467.8 626.6C469.2 628.3 470.5 630.2 471.8 631.9C473.2 633.6 474.5 635.4 475.8 637.1C477.1 638.7 478.5 640.3 479.8 641.8C481.1 643.2 482.4 644.6 483.8 645.8C485.1 647 486.4 648.1 487.8 649.2C489.1 650.2 490.4 651.1 491.7 651.9C493.1 652.7 494.4 653.4 495.7 654C497.1 654.6 498.4 655.1 499.7 655.5C501 656 502.4 656.3 503.7 656.6C505 656.8 506.3 657 507.7 657.2C509 657.3 510.3 657.4 511.7 657.5C513 657.6 514.3 657.6 515.6 657.6C517 657.7 518.3 657.7 519.6 657.7C520.9 657.7 522.9 657.7 523.6 657.7Z" fill="#de7c1c" stroke="none"/>
<path d="M140 657.7L205 657.7C205.7 657.7 207.7 657.6 209 657.5C210.3 657.5 211.6 657.5 213 657.4C214.3 657.4 215.6 657.3 216.9 657.3C218.3 657.2 219.6 657.2 220.9 657.1C222.3 657 223.6 656.9 224.9 656.8C226.2 656.7 227.6 656.5 228.9 656.3C230.2 656.1 231.6 655.8 232.9 655.5C234.2 655.1 235.5 654.7 236.9 654.2C238.2 653.7 239.5 653.1 240.8 652.4C242.2 651.7 243.5 650.8 244.8 649.9C246.2 648.9 247.5 647.8 248.8 646.6C250.1 645.5 251.5 644.2 252.8 642.8C254.1 641.4 255.4 639.9 256.8 638.4C258.1 636.9 259.4 635.3 260.8 633.6C262.1 631.9 263.4 630.2 264.7 628.5C266.1 626.8 267.4 625 268.7 623.2C270 621.4 271.4 619.6 272.7 617.7C274 615.9 275.4 614.1 276.7 612.3C278 610.5 279.3 608.8 280.7 607C282 605.3 283.3 603.6 284.6 601.9C286 600.3 287.3 598.7 288.6 597.1C290 595.6 291.3 594.1 292.6 592.7C293.9 591.3 295.3 589.9 296.6 588.5C297.9 587.1 299.3 585.8 300.6 584.5C301.9 583.1 303.2 581.8 304.6 580.5C305.9 579.2 307.2 577.9 308.5 576.5C309.9 575.1 311.2 573.8 312.5 572.4C313.9 570.9 315.2 569.5 316.5 568C317.8 566.5 319.2 565 320.5 563.5C321.8 561.9 323.1 560.4 324.5 558.8C325.8 557.2 327.1 555.6 328.5 554C329.8 552.4 331.1 550.7 332.4 549.1C333.8 547.5 335.1 545.8 336.4 544.2C337.8 542.6 339.1 541 340.4 539.5C341.7 537.9 343.1 536.4 344.4 534.9C345.7 533.5 347 532 348.4 530.7C349.7 529.3 351 528 352.4 526.8C353.7 525.7 355 524.5 356.3 523.5C357.7 522.5 359 521.6 360.3 520.9C361.6 520.1 363 519.4 364.3 518.9C365.6 518.4 367 518 368.3 517.8C369.6 517.6 370.9 517.5 372.3 517.7C373.6 517.8 374.9 518.1 376.2 518.8C377.6 519.4 378.9 520.2 380.2 521.4C381.6 522.5 382.9 524 384.2 525.7C385.5 527.4 386.9 529.4 388.2 531.6C389.5 533.8 390.9 536.2 392.2 538.7C393.5 541.2 394.8 544 396.2 546.7C397.5 549.4 398.8 552.3 400.1 555C401.5 557.8 402.8 560.7 404.1 563.4C405.5 566.1 406.8 568.8 408.1 571.2C409.4 573.7 410.8 576 412.1 578.1C413.4 580.2 414.7 582.1 416.1 583.8C417.4 585.5 418.7 587 420.1 588.4C421.4 589.8 422.7 591.1 424 592.2C425.4 593.3 426.7 594.3 428 595.2C429.3 596.1 430.7 596.9 432 597.7C433.3 598.4 434.7 599.1 436 599.8C437.3 600.4 438.6 601 440 601.7C441.3 602.3 442.6 602.9 444 603.6C445.3 604.3 446.6 605 447.9 605.8C449.3 606.7 450.6 607.5 451.9 608.6C453.2 609.6 454.6 610.8 455.9 612.1C457.2 613.4 458.6 614.8 459.9 616.4C461.2 617.9 462.5 619.6 463.9 621.3C465.2 623 466.5 624.8 467.8 626.6C469.2 628.3 470.5 630.2 471.8 631.9C473.2 633.6 474.5 635.4 475.8 637.1C477.1 638.7 478.5 640.3 479.8 641.8C481.1 643.2 482.4 644.6 483.8 645.8C485.1 647 486.4 648.1 487.8 649.2C489.1 650.2 490.4 651.1 491.7 651.9C493.1 652.7 494.4 653.4 495.7 654C497.1 654.6 498.4 655.1 499.7 655.5C501 656 502.4 656.3 503.7 656.6C505 656.8 506.3 657 507.7 657.2C509 657.3 510.3 657.4 511.7 657.5C513 657.6 514.3 657.6 515.6 657.6C517 657.7 518.3 657.7 519.6 657.7C520.9 657.7 522.9 657.7 523.6 657.7L1057 657.7" fill="none" stroke="#000" stroke-width="3.0"/>
<path d="M604 756.3C604.7 756.3 606.7 756.3 608 756.3C609.3 756.3 610.7 756.3 612 756.2C613.3 756.2 614.7 756.1 616 756C617.4 756 618.7 755.8 620 755.7C621.4 755.5 622.7 755.3 624 755C625.4 754.7 626.7 754.4 628 754C629.4 753.5 630.7 753.1 632 752.5C633.4 751.9 634.7 751.3 636 750.6C637.4 749.9 638.7 749.2 640.1 748.4C641.4 747.6 642.7 746.7 644.1 745.8C645.4 744.9 646.7 743.9 648.1 742.9C649.4 741.9 650.7 740.8 652.1 739.7C653.4 738.6 654.7 737.5 656.1 736.3C657.4 735.2 658.8 734 660.1 732.8C661.4 731.6 662.8 730.3 664.1 729.1C665.4 727.9 666.8 726.7 668.1 725.5C669.4 724.4 670.8 723.2 672.1 722.2C673.4 721.2 674.8 720.2 676.1 719.3C677.4 718.5 678.8 717.8 680.1 717.1C681.5 716.5 682.8 716.1 684.1 715.7C685.5 715.3 686.8 715 688.1 714.8C689.5 714.6 690.8 714.4 692.1 714.3C693.5 714.2 694.8 714.1 696.1 714C697.5 714 698.8 714 700.1 714C701.5 714 702.8 714 704.2 714C705.5 714.1 706.8 714.1 708.2 714.2C709.5 714.2 710.8 714.3 712.2 714.3C713.5 714.4 714.8 714.4 716.2 714.4C717.5 714.4 718.8 714.4 720.2 714.4C721.5 714.3 722.9 714.2 724.2 714.1C725.5 713.9 726.9 713.7 728.2 713.3C729.5 713 730.9 712.6 732.2 712C733.5 711.4 734.9 710.8 736.2 710C737.5 709.1 738.9 708.2 740.2 707C741.5 705.9 742.9 704.6 744.2 703C745.6 701.5 746.9 699.8 748.2 697.8C749.6 695.9 750.9 693.7 752.2 691.4C753.6 689.1 754.9 686.5 756.2 683.8C757.6 681.1 758.9 678.2 760.2 675.2C761.6 672.2 762.9 669 764.2 665.7C765.6 662.4 766.9 658.9 768.3 655.5C769.6 652.1 770.9 648.5 772.3 645.1C773.6 641.7 774.9 638.3 776.3 635.3C777.6 632.2 778.9 629.3 780.3 626.8C781.6 624.3 782.9 622 784.3 620.2C785.6 618.3 786.9 616.7 788.3 615.5C789.6 614.3 791 613.5 792.3 613C793.6 612.5 795 612.4 796.3 612.6C797.6 612.9 799 613.6 800.3 614.6C801.6 615.7 803 617.2 804.3 619C805.6 620.8 807 623 808.3 625.3C809.7 627.7 811 630.4 812.3 633.1C813.7 635.8 815 638.7 816.3 641.6C817.7 644.5 819 647.5 820.3 650.5C821.7 653.5 823 656.5 824.3 659.4C825.7 662.3 827 665.2 828.3 667.8C829.7 670.5 831 673.1 832.4 675.4C833.7 677.7 835 679.8 836.4 681.6C837.7 683.5 839 685.2 840.4 686.7C841.7 688.2 843 689.5 844.4 690.7C845.7 691.9 847 693 848.4 694C849.7 695 851 695.8 852.4 696.7C853.7 697.6 855.1 698.3 856.4 699.1C857.7 699.9 859.1 700.7 860.4 701.5C861.7 702.3 863.1 703.1 864.4 703.9C865.7 704.8 867.1 705.8 868.4 706.8C869.7 707.7 871.1 708.8 872.4 709.8C873.8 710.9 875.1 712 876.4 713C877.8 714.1 879.1 715.2 880.4 716.3C881.8 717.3 883.1 718.4 884.4 719.4C885.8 720.4 887.1 721.4 888.4 722.3C889.8 723.2 891.1 724.1 892.4 724.9C893.8 725.6 895.1 726.4 896.5 727C897.8 727.6 899.1 728.1 900.5 728.5C901.8 729 903.1 729.3 904.5 729.6C905.8 729.9 907.1 730.1 908.5 730.2C909.8 730.4 911.1 730.4 912.5 730.5C913.8 730.5 915.1 730.5 916.5 730.4C917.8 730.4 919.2 730.3 920.5 730.3C921.8 730.3 923.2 730.2 924.5 730.3C925.8 730.4 927.2 730.6 928.5 730.9C929.8 731.1 931.2 731.5 932.5 732C933.8 732.5 935.2 733 936.5 733.7C937.8 734.3 939.2 735 940.5 735.7C941.9 736.4 943.2 737.2 944.5 738C945.9 738.8 947.2 739.6 948.5 740.4C949.9 741.2 951.2 742.1 952.5 742.9C953.9 743.6 955.2 744.4 956.5 745.2C957.9 745.9 959.2 746.6 960.6 747.2C961.9 747.8 963.2 748.4 964.6 748.8C965.9 749.3 967.2 749.6 968.6 749.9C969.9 750.1 971.2 750.2 972.6 750.2C973.9 750.2 975.2 750 976.6 749.8C977.9 749.7 979.2 749.4 980.6 749.2C981.9 749 983.3 748.8 984.6 748.6C985.9 748.4 987.3 748.3 988.6 748.2C989.9 748.1 991.3 748.1 992.6 748.1C993.9 748.1 995.3 748.1 996.6 748.2C997.9 748.2 999.3 748.3 1000.6 748.4C1001.9 748.5 1003.3 748.7 1004.6 748.9C1006 749 1007.3 749.2 1008.6 749.5C1010 749.7 1011.3 749.9 1012.6 750.2C1014 750.5 1015.3 750.7 1016.6 751C1018 751.3 1019.3 751.6 1020.6 751.9C1022 752.2 1023.3 752.5 1024.7 752.8C1026 753.1 1027.3 753.4 1028.7 753.7C1030 754 1031.3 754.3 1032.7 754.5C1034 754.8 1035.3 755 1036.7 755.2C1038 755.4 1039.3 755.6 1040.7 755.8C1042 755.9 1043.3 756 1044.7 756.1C1046 756.2 1047.4 756.3 1048.7 756.3C1050 756.3 1051.4 756.3 1052.7 756.3C1054 756.3 1056 756.3 1056.7 756.3Z" fill="#86e870" stroke="none"/>
<path d="M140 756.3L604 756.3C604.7 756.3 606.7 756.3 608 756.3C609.3 756.3 610.7 756.3 612 756.2C613.3 756.2 614.7 756.1 616 756C617.4 756 618.7 755.8 620 755.7C621.4 755.5 622.7 755.3 624 755C625.4 754.7 626.7 754.4 628 754C629.4 753.5 630.7 753.1 632 752.5C633.4 751.9 634.7 751.3 636 750.6C637.4 749.9 638.7 749.2 640.1 748.4C641.4 747.6 642.7 746.7 644.1 745.8C645.4 744.9 646.7 743.9 648.1 742.9C649.4 741.9 650.7 740.8 652.1 739.7C653.4 738.6 654.7 737.5 656.1 736.3C657.4 735.2 658.8 734 660.1 732.8C661.4 731.6 662.8 730.3 664.1 729.1C665.4 727.9 666.8 726.7 668.1 725.5C669.4 724.4 670.8 723.2 672.1 722.2C673.4 721.2 674.8 720.2 676.1 719.3C677.4 718.5 678.8 717.8 680.1 717.1C681.5 716.5 682.8 716.1 684.1 715.7C685.5 715.3 686.8 715 688.1 714.8C689.5 714.6 690.8 714.4 692.1 714.3C693.5 714.2 694.8 714.1 696.1 714C697.5 714 698.8 714 700.1 714C701.5 714 702.8 714 704.2 714C705.5 714.1 706.8 714.1 708.2 714.2C709.5 714.2 710.8 714.3 712.2 714.3C713.5 714.4 714.8 714.4 716.2 714.4C717.5 714.4 718.8 714.4 720.2 714.4C721.5 714.3 722.9 714.2 724.2 714.1C725.5 713.9 726.9 713.7 728.2 713.3C729.5 713 730.9 712.6 732.2 712C733.5 711.4 734.9 710.8 736.2 710C737.5 709.1 738.9 708.2 740.2 707C741.5 705.9 742.9 704.6 744.2 703C745.6 701.5 746.9 699.8 748.2 697.8C749.6 695.9 750.9 693.7 752.2 691.4C753.6 689.1 754.9 686.5 756.2 683.8C757.6 681.1 758.9 678.2 760.2 675.2C761.6 672.2 762.9 669 764.2 665.7C765.6 662.4 766.9 658.9 768.3 655.5C769.6 652.1 770.9 648.5 772.3 645.1C773.6 641.7 774.9 638.3 776.3 635.3C777.6 632.2 778.9 629.3 780.3 626.8C781.6 624.3 782.9 622 784.3 620.2C785.6 618.3 786.9 616.7 788.3 615.5C789.6 614.3 791 613.5 792.3 613C793.6 612.5 795 612.4 796.3 612.6C797.6 612.9 799 613.6 800.3 614.6C801.6 615.7 803 617.2 804.3 619C805.6 620.8 807 623 808.3 625.3C809.7 627.7 811 630.4 812.3 633.1C813.7 635.8 815 638.7 816.3 641.6C817.7 644.5 819 647.5 820.3 650.5C821.7 653.5 823 656.5 824.3 659.4C825.7 662.3 827 665.2 828.3 667.8C829.7 670.5 831 673.1 832.4 675.4C833.7 677.7 835 679.8 836.4 681.6C837.7 683.5 839 685.2 840.4 686.7C841.7 688.2 843 689.5 844.4 690.7C845.7 691.9 847 693 848.4 694C849.7 695 851 695.8 852.4 696.7C853.7 697.6 855.1 698.3 856.4 699.1C857.7 699.9 859.1 700.7 860.4 701.5C861.7 702.3 863.1 703.1 864.4 703.9C865.7 704.8 867.1 705.8 868.4 706.8C869.7 707.7 871.1 708.8 872.4 709.8C873.8 710.9 875.1 712 876.4 713C877.8 714.1 879.1 715.2 880.4 716.3C881.8 717.3 883.1 718.4 884.4 719.4C885.8 720.4 887.1 721.4 888.4 722.3C889.8 723.2 891.1 724.1 892.4 724.9C893.8 725.6 895.1 726.4 896.5 727C897.8 727.6 899.1 728.1 900.5 728.5C901.8 729 903.1 729.3 904.5 729.6C905.8 729.9 907.1 730.1 908.5 730.2C909.8 730.4 911.1 730.4 912.5 730.5C913.8 730.5 915.1 730.5 916.5 730.4C917.8 730.4 919.2 730.3 920.5 730.3C921.8 730.3 923.2 730.2 924.5 730.3C925.8 730.4 927.2 730.6 928.5 730.9C929.8 731.1 931.2 731.5 932.5 732C933.8 732.5 935.2 733 936.5 733.7C937.8 734.3 939.2 735 940.5 735.7C941.9 736.4 943.2 737.2 944.5 738C945.9 738.8 947.2 739.6 948.5 740.4C949.9 741.2 951.2 742.1 952.5 742.9C953.9 743.6 955.2 744.4 956.5 745.2C957.9 745.9 959.2 746.6 960.6 747.2C961.9 747.8 963.2 748.4 964.6 748.8C965.9 749.3 967.2 749.6 968.6 749.9C969.9 750.1 971.2 750.2 972.6 750.2C973.9 750.2 975.2 750 976.6 749.8C977.9 749.7 979.2 749.4 980.6 749.2C981.9 749 983.3 748.8 984.6 748.6C985.9 748.4 987.3 748.3 988.6 748.2C989.9 748.1 991.3 748.1 992.6 748.1C993.9 748.1 995.3 748.1 996.6 748.2C997.9 748.2 999.3 748.3 1000.6 748.4C1001.9 748.5 1003.3 748.7 1004.6 748.9C1006 749 1007.3 749.2 1008.6 749.5C1010 749.7 1011.3 749.9 1012.6 750.2C1014 750.5 1015.3 750.7 1016.6 751C1018 751.3 1019.3 751.6 1020.6 751.9C1022 752.2 1023.3 752.5 1024.7 752.8C1026 753.1 1027.3 753.4 1028.7 753.7C1030 754 1031.3 754.3 1032.7 754.5C1034 754.8 1035.3 755 1036.7 755.2C1038 755.4 1039.3 755.6 1040.7 755.8C1042 755.9 1043.3 756 1044.7 756.1C1046 756.2 1047.4 756.3 1048.7 756.3C1050 756.3 1051.4 756.3 1052.7 756.3C1054 756.3 1056 756.3 1056.7 756.3" fill="none" stroke="#000" stroke-width="3.0"/>
<path d="M415 854.8C415.7 854.8 417.7 854.6 419 854.5C420.3 854.4 421.7 854.3 423 854.1C424.3 854 425.6 853.8 427 853.6C428.3 853.5 429.6 853.3 431 853.1C432.3 852.9 433.6 852.7 435 852.5C436.3 852.3 437.6 852.1 439 851.9C440.3 851.7 441.6 851.4 442.9 851.3C444.3 851.1 445.6 850.9 446.9 850.7C448.3 850.5 449.6 850.3 450.9 850.2C452.3 850 453.6 849.9 454.9 849.7C456.2 849.6 457.6 849.5 458.9 849.4C460.2 849.3 461.6 849.3 462.9 849.3C464.2 849.2 465.6 849.2 466.9 849.2C468.2 849.3 469.6 849.3 470.9 849.4C472.2 849.5 473.5 849.6 474.9 849.7C476.2 849.8 477.5 850 478.9 850.1C480.2 850.3 481.5 850.5 482.9 850.6C484.2 850.8 485.5 851 486.9 851.2C488.2 851.4 489.5 851.6 490.8 851.8C492.2 852.1 493.5 852.3 494.8 852.5C496.2 852.7 497.5 852.9 498.8 853.1C500.2 853.3 501.5 853.5 502.8 853.7C504.2 853.9 505.5 854.1 506.8 854.2C508.1 854.4 509.5 854.6 510.8 854.7C512.1 854.8 513.5 854.8 514.8 854.8C516.1 854.8 517.5 854.8 518.8 854.8C520.1 854.8 521.4 854.8 522.8 854.8C524.1 854.8 525.4 854.8 526.8 854.8C528.1 854.8 529.4 854.8 530.8 854.8C532.1 854.8 533.4 854.8 534.8 854.8C536.1 854.8 537.4 854.8 538.7 854.7C540.1 854.6 541.4 854.5 542.7 854.4C544.1 854.2 545.4 854.1 546.7 854C548.1 853.8 549.4 853.6 550.7 853.4C552.1 853.2 553.4 853 554.7 852.7C556 852.5 557.4 852.2 558.7 851.9C560 851.6 561.4 851.2 562.7 850.8C564 850.4 565.4 849.9 566.7 849.5C568 849 569.4 848.4 570.7 847.8C572 847.2 573.3 846.6 574.7 845.9C576 845.2 577.3 844.4 578.7 843.6C580 842.7 581.3 841.8 582.7 840.9C584 839.9 585.3 838.9 586.6 837.7C588 836.6 589.3 835.5 590.6 834.2C592 833 593.3 831.8 594.6 830.5C596 829.3 597.3 828 598.6 826.7C600 825.4 601.3 824.2 602.6 823C603.9 821.8 605.3 820.6 606.6 819.5C607.9 818.4 609.3 817.3 610.6 816.3C611.9 815.4 613.3 814.5 614.6 813.8C615.9 813 617.3 812.4 618.6 811.8C619.9 811.3 621.2 810.9 622.6 810.5C623.9 810.2 625.2 809.9 626.6 809.6C627.9 809.3 629.2 809.1 630.6 808.8C631.9 808.5 633.2 808.2 634.6 807.8C635.9 807.4 637.2 807 638.5 806.5C639.9 805.9 641.2 805.3 642.5 804.6C643.9 803.9 645.2 803.1 646.5 802.2C647.9 801.2 649.2 800.2 650.5 799C651.8 797.8 653.2 796.5 654.5 795C655.8 793.5 657.2 791.9 658.5 790.1C659.8 788.4 661.2 786.5 662.5 784.6C663.8 782.6 665.2 780.5 666.5 778.4C667.8 776.3 669.1 774.1 670.5 771.8C671.8 769.6 673.1 767.3 674.5 765C675.8 762.8 677.1 760.5 678.5 758.3C679.8 756.2 681.1 754.1 682.5 752.3C683.8 750.5 685.1 748.8 686.4 747.4C687.8 746 689.1 744.9 690.4 744C691.8 743 693.1 742.4 694.4 741.9C695.8 741.4 697.1 741.1 698.4 741C699.8 740.9 701.1 741 702.4 741.2C703.7 741.5 705.1 741.9 706.4 742.4C707.7 743 709.1 743.7 710.4 744.5C711.7 745.4 713.1 746.3 714.4 747.4C715.7 748.4 717 749.6 718.4 750.9C719.7 752.1 721 753.5 722.4 754.8C723.7 756.2 725 757.6 726.4 759C727.7 760.4 729 761.8 730.4 763.2C731.7 764.5 733 765.9 734.3 767.1C735.7 768.4 737 769.6 738.3 770.7C739.7 771.8 741 772.8 742.3 773.7C743.7 774.7 745 775.6 746.3 776.4C747.7 777.2 749 778 750.3 778.7C751.6 779.4 753 780 754.3 780.6C755.6 781.2 757 781.7 758.3 782.2C759.6 782.6 761 783 762.3 783.4C763.6 783.7 765 784 766.3 784.2C767.6 784.4 768.9 784.5 770.3 784.7C771.6 784.9 772.9 785 774.3 785.1C775.6 785.3 776.9 785.4 778.3 785.7C779.6 786 780.9 786.3 782.2 786.7C783.6 787.2 784.9 787.8 786.2 788.5C787.6 789.2 788.9 790 790.2 791C791.6 791.9 792.9 793 794.2 794.1C795.6 795.2 796.9 796.5 798.2 797.8C799.5 799.1 800.9 800.4 802.2 801.8C803.5 803.2 804.9 804.6 806.2 806C807.5 807.5 808.9 808.9 810.2 810.4C811.5 811.8 812.9 813.3 814.2 814.6C815.5 816 816.8 817.4 818.2 818.7C819.5 820 820.8 821.2 822.2 822.3C823.5 823.5 824.8 824.5 826.2 825.4C827.5 826.3 828.8 827.1 830.2 827.7C831.5 828.4 832.8 828.9 834.1 829.3C835.5 829.7 836.8 830 838.1 830.3C839.5 830.6 840.8 830.8 842.1 831C843.5 831.2 844.8 831.3 846.1 831.5C847.4 831.7 848.8 831.9 850.1 832.1C851.4 832.4 852.8 832.7 854.1 833.1C855.4 833.5 856.8 834 858.1 834.5C859.4 835 860.8 835.6 862.1 836.2C863.4 836.8 864.7 837.5 866.1 838.2C867.4 838.9 868.7 839.6 870.1 840.3C871.4 841 872.7 841.7 874.1 842.4C875.4 843.1 876.7 843.9 878.1 844.6C879.4 845.2 880.7 845.9 882 846.5C883.4 847.2 884.7 847.8 886 848.3C887.4 848.8 888.7 849.3 890 849.8C891.4 850.3 892.7 850.7 894 851.1C895.4 851.5 896.7 851.8 898 852.1C899.3 852.4 900.7 852.7 902 852.9C903.3 853.1 904.7 853.3 906 853.4C907.3 853.6 908.7 853.7 910 853.7C911.3 853.8 912.6 853.8 914 853.8C915.3 853.7 916.6 853.7 918 853.6C919.3 853.5 920.6 853.3 922 853.1C923.3 853 924.6 852.7 926 852.5C927.3 852.3 928.6 852 929.9 851.7C931.3 851.5 932.6 851.2 933.9 850.9C935.3 850.6 936.6 850.3 937.9 850.1C939.3 849.8 940.6 849.5 941.9 849.3C943.3 849.1 944.6 848.9 945.9 848.8C947.2 848.6 948.6 848.5 949.9 848.4C951.2 848.3 952.6 848.3 953.9 848.4C955.2 848.4 956.6 848.5 957.9 848.7C959.2 848.8 960.6 849 961.9 849.2C963.2 849.4 964.5 849.6 965.9 849.9C967.2 850.1 968.5 850.4 969.9 850.7C971.2 851 972.5 851.3 973.9 851.6C975.2 851.8 976.5 852.1 977.8 852.4C979.2 852.7 980.5 852.9 981.8 853.2C983.2 853.4 984.5 853.6 985.8 853.8C987.2 853.9 988.5 854.1 989.8 854.2C991.2 854.3 992.5 854.4 993.8 854.5C995.1 854.6 996.5 854.7 997.8 854.7C999.1 854.8 1001.1 854.8 1001.8 854.8Z" fill="#4f8c3e" stroke="none"/>
<path d="M140 854.8L415 854.8C415.7 854.8 417.7 854.6 419 854.5C420.3 854.4 421.7 854.3 423 854.1C424.3 854 425.6 853.8 427 853.6C428.3 853.5 429.6 853.3 431 853.1C432.3 852.9 433.6 852.7 435 852.5C436.3 852.3 437.6 852.1 439 851.9C440.3 851.7 441.6 851.4 442.9 851.3C444.3 851.1 445.6 850.9 446.9 850.7C448.3 850.5 449.6 850.3 450.9 850.2C452.3 850 453.6 849.9 454.9 849.7C456.2 849.6 457.6 849.5 458.9 849.4C460.2 849.3 461.6 849.3 462.9 849.3C464.2 849.2 465.6 849.2 466.9 849.2C468.2 849.3 469.6 849.3 470.9 849.4C472.2 849.5 473.5 849.6 474.9 849.7C476.2 849.8 477.5 850 478.9 850.1C480.2 850.3 481.5 850.5 482.9 850.6C484.2 850.8 485.5 851 486.9 851.2C488.2 851.4 489.5 851.6 490.8 851.8C492.2 852.1 493.5 852.3 494.8 852.5C496.2 852.7 497.5 852.9 498.8 853.1C500.2 853.3 501.5 853.5 502.8 853.7C504.2 853.9 505.5 854.1 506.8 854.2C508.1 854.4 509.5 854.6 510.8 854.7C512.1 854.8 513.5 854.8 514.8 854.8C516.1 854.8 517.5 854.8 518.8 854.8C520.1 854.8 521.4 854.8 522.8 854.8C524.1 854.8 525.4 854.8 526.8 854.8C528.1 854.8 529.4 854.8 530.8 854.8C532.1 854.8 533.4 854.8 534.8 854.8C536.1 854.8 537.4 854.8 538.7 854.7C540.1 854.6 541.4 854.5 542.7 854.4C544.1 854.2 545.4 854.1 546.7 854C548.1 853.8 549.4 853.6 550.7 853.4C552.1 853.2 553.4 853 554.7 852.7C556 852.5 557.4 852.2 558.7 851.9C560 851.6 561.4 851.2 562.7 850.8C564 850.4 565.4 849.9 566.7 849.5C568 849 569.4 848.4 570.7 847.8C572 847.2 573.3 846.6 574.7 845.9C576 845.2 577.3 844.4 578.7 843.6C580 842.7 581.3 841.8 582.7 840.9C584 839.9 585.3 838.9 586.6 837.7C588 836.6 589.3 835.5 590.6 834.2C592 833 593.3 831.8 594.6 830.5C596 829.3 597.3 828 598.6 826.7C600 825.4 601.3 824.2 602.6 823C603.9 821.8 605.3 820.6 606.6 819.5C607.9 818.4 609.3 817.3 610.6 816.3C611.9 815.4 613.3 814.5 614.6 813.8C615.9 813 617.3 812.4 618.6 811.8C619.9 811.3 621.2 810.9 622.6 810.5C623.9 810.2 625.2 809.9 626.6 809.6C627.9 809.3 629.2 809.1 630.6 808.8C631.9 808.5 633.2 808.2 634.6 807.8C635.9 807.4 637.2 807 638.5 806.5C639.9 805.9 641.2 805.3 642.5 804.6C643.9 803.9 645.2 803.1 646.5 802.2C647.9 801.2 649.2 800.2 650.5 799C651.8 797.8 653.2 796.5 654.5 795C655.8 793.5 657.2 791.9 658.5 790.1C659.8 788.4 661.2 786.5 662.5 784.6C663.8 782.6 665.2 780.5 666.5 778.4C667.8 776.3 669.1 774.1 670.5 771.8C671.8 769.6 673.1 767.3 674.5 765C675.8 762.8 677.1 760.5 678.5 758.3C679.8 756.2 681.1 754.1 682.5 752.3C683.8 750.5 685.1 748.8 686.4 747.4C687.8 746 689.1 744.9 690.4 744C691.8 743 693.1 742.4 694.4 741.9C695.8 741.4 697.1 741.1 698.4 741C699.8 740.9 701.1 741 702.4 741.2C703.7 741.5 705.1 741.9 706.4 742.4C707.7 743 709.1 743.7 710.4 744.5C711.7 745.4 713.1 746.3 714.4 747.4C715.7 748.4 717 749.6 718.4 750.9C719.7 752.1 721 753.5 722.4 754.8C723.7 756.2 725 757.6 726.4 759C727.7 760.4 729 761.8 730.4 763.2C731.7 764.5 733 765.9 734.3 767.1C735.7 768.4 737 769.6 738.3 770.7C739.7 771.8 741 772.8 742.3 773.7C743.7 774.7 745 775.6 746.3 776.4C747.7 777.2 749 778 750.3 778.7C751.6 779.4 753 780 754.3 780.6C755.6 781.2 757 781.7 758.3 782.2C759.6 782.6 761 783 762.3 783.4C763.6 783.7 765 784 766.3 784.2C767.6 784.4 768.9 784.5 770.3 784.7C771.6 784.9 772.9 785 774.3 785.1C775.6 785.3 776.9 785.4 778.3 785.7C779.6 786 780.9 786.3 782.2 786.7C783.6 787.2 784.9 787.8 786.2 788.5C787.6 789.2 788.9 790 790.2 791C791.6 791.9 792.9 793 794.2 794.1C795.6 795.2 796.9 796.5 798.2 797.8C799.5 799.1 800.9 800.4 802.2 801.8C803.5 803.2 804.9 804.6 806.2 806C807.5 807.5 808.9 808.9 810.2 810.4C811.5 811.8 812.9 813.3 814.2 814.6C815.5 816 816.8 817.4 818.2 818.7C819.5 820 820.8 821.2 822.2 822.3C823.5 823.5 824.8 824.5 826.2 825.4C827.5 826.3 828.8 827.1 830.2 827.7C831.5 828.4 832.8 828.9 834.1 829.3C835.5 829.7 836.8 830 838.1 830.3C839.5 830.6 840.8 830.8 842.1 831C843.5 831.2 844.8 831.3 846.1 831.5C847.4 831.7 848.8 831.9 850.1 832.1C851.4 832.4 852.8 832.7 854.1 833.1C855.4 833.5 856.8 834 858.1 834.5C859.4 835 860.8 835.6 862.1 836.2C863.4 836.8 864.7 837.5 866.1 838.2C867.4 838.9 868.7 839.6 870.1 840.3C871.4 841 872.7 841.7 874.1 842.4C875.4 843.1 876.7 843.9 878.1 844.6C879.4 845.2 880.7 845.9 882 846.5C883.4 847.2 884.7 847.8 886 848.3C887.4 848.8 888.7 849.3 890 849.8C891.4 850.3 892.7 850.7 894 851.1C895.4 851.5 896.7 851.8 898 852.1C899.3 852.4 900.7 852.7 902 852.9C903.3 853.1 904.7 853.3 906 853.4C907.3 853.6 908.7 853.7 910 853.7C911.3 853.8 912.6 853.8 914 853.8C915.3 853.7 916.6 853.7 918 853.6C919.3 853.5 920.6 853.3 922 853.1C923.3 853 924.6 852.7 926 852.5C927.3 852.3 928.6 852 929.9 851.7C931.3 851.5 932.6 851.2 933.9 850.9C935.3 850.6 936.6 850.3 937.9 850.1C939.3 849.8 940.6 849.5 941.9 849.3C943.3 849.1 944.6 848.9 945.9 848.8C947.2 848.6 948.6 848.5 949.9 848.4C951.2 848.3 952.6 848.3 953.9 848.4C955.2 848.4 956.6 848.5 957.9 848.7C959.2 848.8 960.6 849 961.9 849.2C963.2 849.4 964.5 849.6 965.9 849.9C967.2 850.1 968.5 850.4 969.9 850.7C971.2 851 972.5 851.3 973.9 851.6C975.2 851.8 976.5 852.1 977.8 852.4C979.2 852.7 980.5 852.9 981.8 853.2C983.2 853.4 984.5 853.6 985.8 853.8C987.2 853.9 988.5 854.1 989.8 854.2C991.2 854.3 992.5 854.4 993.8 854.5C995.1 854.6 996.5 854.7 997.8 854.7C999.1 854.8 1001.1 854.8 1001.8 854.8L1057 854.8" fill="none" stroke="#000" stroke-width="3.0"/>
<path d="M520 953.4C520.7 953.4 522.7 953.4 524 953.4C525.3 953.3 526.6 953.3 528 953.2C529.3 953.1 530.6 953 531.9 952.9C533.3 952.8 534.6 952.7 535.9 952.5C537.3 952.4 538.6 952.2 539.9 952C541.2 951.7 542.6 951.5 543.9 951.2C545.2 951 546.6 950.7 547.9 950.3C549.2 950 550.5 949.6 551.9 949.2C553.2 948.8 554.5 948.4 555.8 947.9C557.2 947.4 558.5 946.9 559.8 946.3C561.2 945.8 562.5 945.2 563.8 944.6C565.1 943.9 566.5 943.2 567.8 942.6C569.1 941.9 570.4 941.1 571.8 940.4C573.1 939.7 574.4 939 575.8 938.3C577.1 937.6 578.4 937 579.7 936.4C581.1 935.9 582.4 935.4 583.7 934.9C585.1 934.5 586.4 934.1 587.7 933.8C589 933.5 590.4 933.2 591.7 933C593 932.8 594.3 932.7 595.7 932.6C597 932.6 598.3 932.6 599.7 932.7C601 932.7 602.3 932.9 603.6 933.1C605 933.3 606.3 933.6 607.6 933.9C608.9 934.3 610.3 934.7 611.6 935.2C612.9 935.6 614.3 936.2 615.6 936.7C616.9 937.3 618.2 937.9 619.6 938.5C620.9 939.1 622.2 939.7 623.6 940.3C624.9 940.9 626.2 941.5 627.5 942C628.9 942.5 630.2 943 631.5 943.4C632.8 943.8 634.2 944.1 635.5 944.3C636.8 944.5 638.2 944.6 639.5 944.6C640.8 944.6 642.1 944.5 643.5 944.3C644.8 944.1 646.1 943.8 647.4 943.3C648.8 942.9 650.1 942.3 651.4 941.6C652.8 940.9 654.1 940.1 655.4 939.1C656.7 938.2 658.1 937.1 659.4 935.8C660.7 934.6 662.1 933.2 663.4 931.6C664.7 930.1 666 928.4 667.4 926.6C668.7 924.8 670 922.8 671.3 920.7C672.7 918.7 674 916.5 675.3 914.3C676.7 912.2 678 909.9 679.3 907.7C680.6 905.6 682 903.4 683.3 901.3C684.6 899.2 685.9 897.2 687.3 895.3C688.6 893.4 689.9 891.6 691.3 890C692.6 888.4 693.9 887 695.2 885.8C696.6 884.5 697.9 883.4 699.2 882.5C700.6 881.5 701.9 880.7 703.2 880.1C704.5 879.4 705.9 878.8 707.2 878.4C708.5 878 709.8 877.6 711.2 877.4C712.5 877.2 713.8 877 715.2 877C716.5 876.9 717.8 876.9 719.1 877C720.5 877.1 721.8 877.2 723.1 877.4C724.4 877.6 725.8 877.8 727.1 878.1C728.4 878.3 729.8 878.6 731.1 879C732.4 879.3 733.7 879.7 735.1 880.1C736.4 880.5 737.7 880.9 739 881.3C740.4 881.7 741.7 882.2 743 882.6C744.4 883.1 745.7 883.6 747 884C748.3 884.5 749.7 884.9 751 885.4C752.3 885.8 753.7 886.2 755 886.4C756.3 886.7 757.6 887 759 887C760.3 887 761.6 887 762.9 886.7C764.3 886.5 765.6 886 766.9 885.4C768.3 884.7 769.6 883.8 770.9 882.8C772.2 881.7 773.6 880.5 774.9 879.1C776.2 877.7 777.5 876.1 778.9 874.5C780.2 872.8 781.5 871 782.9 869.2C784.2 867.3 785.5 865.4 786.8 863.5C788.2 861.7 789.5 859.7 790.8 858C792.2 856.2 793.5 854.4 794.8 852.9C796.1 851.3 797.5 849.9 798.8 848.7C800.1 847.5 801.4 846.4 802.8 845.7C804.1 845 805.4 844.5 806.8 844.4C808.1 844.2 809.4 844.3 810.7 844.5C812.1 844.8 813.4 845.4 814.7 846C816 846.7 817.4 847.6 818.7 848.6C820 849.6 821.4 850.8 822.7 852C824 853.2 825.3 854.6 826.7 856C828 857.4 829.3 858.9 830.7 860.3C832 861.8 833.3 863.3 834.6 864.8C836 866.3 837.3 867.8 838.6 869.3C839.9 870.8 841.3 872.3 842.6 873.8C843.9 875.3 845.3 876.9 846.6 878.5C847.9 880 849.2 881.6 850.6 883.3C851.9 884.9 853.2 886.6 854.5 888.3C855.9 890 857.2 891.8 858.5 893.6C859.9 895.4 861.2 897.3 862.5 899.2C863.8 901.1 865.2 903 866.5 904.9C867.8 906.7 869.2 908.6 870.5 910.4C871.8 912.1 873.1 913.9 874.5 915.5C875.8 917 877.1 918.5 878.4 919.9C879.8 921.2 881.1 922.4 882.4 923.5C883.8 924.6 885.1 925.6 886.4 926.5C887.7 927.4 889.1 928.2 890.4 928.9C891.7 929.6 893 930.3 894.4 930.9C895.7 931.5 897 932 898.4 932.6C899.7 933.1 901 933.6 902.3 934.2C903.7 934.7 905 935.3 906.3 935.9C907.7 936.5 909 937.1 910.3 937.7C911.6 938.3 913 939 914.3 939.7C915.6 940.3 916.9 941.1 918.3 941.8C919.6 942.5 920.9 943.3 922.3 944C923.6 944.7 924.9 945.4 926.2 946.1C927.6 946.8 928.9 947.4 930.2 948C931.5 948.6 932.9 949.1 934.2 949.6C935.5 950.1 936.9 950.5 938.2 950.9C939.5 951.2 940.8 951.5 942.2 951.8C943.5 952 944.8 952.3 946.2 952.4C947.5 952.6 948.8 952.8 950.1 952.9C951.5 953.1 952.8 953.2 954.1 953.2C955.4 953.3 957.4 953.4 958.1 953.4Z" fill="#284212" stroke="none"/>
<path d="M140 953.4L520 953.4C520.7 953.4 522.7 953.4 524 953.4C525.3 953.3 526.6 953.3 528 953.2C529.3 953.1 530.6 953 531.9 952.9C533.3 952.8 534.6 952.7 535.9 952.5C537.3 952.4 538.6 952.2 539.9 952C541.2 951.7 542.6 951.5 543.9 951.2C545.2 951 546.6 950.7 547.9 950.3C549.2 950 550.5 949.6 551.9 949.2C553.2 948.8 554.5 948.4 555.8 947.9C557.2 947.4 558.5 946.9 559.8 946.3C561.2 945.8 562.5 945.2 563.8 944.6C565.1 943.9 566.5 943.2 567.8 942.6C569.1 941.9 570.4 941.1 571.8 940.4C573.1 939.7 574.4 939 575.8 938.3C577.1 937.6 578.4 937 579.7 936.4C581.1 935.9 582.4 935.4 583.7 934.9C585.1 934.5 586.4 934.1 587.7 933.8C589 933.5 590.4 933.2 591.7 933C593 932.8 594.3 932.7 595.7 932.6C597 932.6 598.3 932.6 599.7 932.7C601 932.7 602.3 932.9 603.6 933.1C605 933.3 606.3 933.6 607.6 933.9C608.9 934.3 610.3 934.7 611.6 935.2C612.9 935.6 614.3 936.2 615.6 936.7C616.9 937.3 618.2 937.9 619.6 938.5C620.9 939.1 622.2 939.7 623.6 940.3C624.9 940.9 626.2 941.5 627.5 942C628.9 942.5 630.2 943 631.5 943.4C632.8 943.8 634.2 944.1 635.5 944.3C636.8 944.5 638.2 944.6 639.5 944.6C640.8 944.6 642.1 944.5 643.5 944.3C644.8 944.1 646.1 943.8 647.4 943.3C648.8 942.9 650.1 942.3 651.4 941.6C652.8 940.9 654.1 940.1 655.4 939.1C656.7 938.2 658.1 937.1 659.4 935.8C660.7 934.6 662.1 933.2 663.4 931.6C664.7 930.1 666 928.4 667.4 926.6C668.7 924.8 670 922.8 671.3 920.7C672.7 918.7 674 916.5 675.3 914.3C676.7 912.2 678 909.9 679.3 907.7C680.6 905.6 682 903.4 683.3 901.3C684.6 899.2 685.9 897.2 687.3 895.3C688.6 893.4 689.9 891.6 691.3 890C692.6 888.4 693.9 887 695.2 885.8C696.6 884.5 697.9 883.4 699.2 882.5C700.6 881.5 701.9 880.7 703.2 880.1C704.5 879.4 705.9 878.8 707.2 878.4C708.5 878 709.8 877.6 711.2 877.4C712.5 877.2 713.8 877 715.2 877C716.5 876.9 717.8 876.9 719.1 877C720.5 877.1 721.8 877.2 723.1 877.4C724.4 877.6 725.8 877.8 727.1 878.1C728.4 878.3 729.8 878.6 731.1 879C732.4 879.3 733.7 879.7 735.1 880.1C736.4 880.5 737.7 880.9 739 881.3C740.4 881.7 741.7 882.2 743 882.6C744.4 883.1 745.7 883.6 747 884C748.3 884.5 749.7 884.9 751 885.4C752.3 885.8 753.7 886.2 755 886.4C756.3 886.7 757.6 887 759 887C760.3 887 761.6 887 762.9 886.7C764.3 886.5 765.6 886 766.9 885.4C768.3 884.7 769.6 883.8 770.9 882.8C772.2 881.7 773.6 880.5 774.9 879.1C776.2 877.7 777.5 876.1 778.9 874.5C780.2 872.8 781.5 871 782.9 869.2C784.2 867.3 785.5 865.4 786.8 863.5C788.2 861.7 789.5 859.7 790.8 858C792.2 856.2 793.5 854.4 794.8 852.9C796.1 851.3 797.5 849.9 798.8 848.7C800.1 847.5 801.4 846.4 802.8 845.7C804.1 845 805.4 844.5 806.8 844.4C808.1 844.2 809.4 844.3 810.7 844.5C812.1 844.8 813.4 845.4 814.7 846C816 846.7 817.4 847.6 818.7 848.6C820 849.6 821.4 850.8 822.7 852C824 853.2 825.3 854.6 826.7 856C828 857.4 829.3 858.9 830.7 860.3C832 861.8 833.3 863.3 834.6 864.8C836 866.3 837.3 867.8 838.6 869.3C839.9 870.8 841.3 872.3 842.6 873.8C843.9 875.3 845.3 876.9 846.6 878.5C847.9 880 849.2 881.6 850.6 883.3C851.9 884.9 853.2 886.6 854.5 888.3C855.9 890 857.2 891.8 858.5 893.6C859.9 895.4 861.2 897.3 862.5 899.2C863.8 901.1 865.2 903 866.5 904.9C867.8 906.7 869.2 908.6 870.5 910.4C871.8 912.1 873.1 913.9 874.5 915.5C875.8 917 877.1 918.5 878.4 919.9C879.8 921.2 881.1 922.4 882.4 923.5C883.8 924.6 885.1 925.6 886.4 926.5C887.7 927.4 889.1 928.2 890.4 928.9C891.7 929.6 893 930.3 894.4 930.9C895.7 931.5 897 932 898.4 932.6C899.7 933.1 901 933.6 902.3 934.2C903.7 934.7 905 935.3 906.3 935.9C907.7 936.5 909 937.1 910.3 937.7C911.6 938.3 913 939 914.3 939.7C915.6 940.3 916.9 941.1 918.3 941.8C919.6 942.5 920.9 943.3 922.3 944C923.6 944.7 924.9 945.4 926.2 946.1C927.6 946.8 928.9 947.4 930.2 948C931.5 948.6 932.9 949.1 934.2 949.6C935.5 950.1 936.9 950.5 938.2 950.9C939.5 951.2 940.8 951.5 942.2 951.8C943.5 952 944.8 952.3 946.2 952.4C947.5 952.6 948.8 952.8 950.1 952.9C951.5 953.1 952.8 953.2 954.1 953.2C955.4 953.3 957.4 953.4 958.1 953.4L1057 953.4" fill="none" stroke="#000" stroke-width="3.0"/>
<path d="M1560 167.3C1560.7 167.3 1562.7 167.2 1564 167.1C1565.3 167.1 1566.7 167 1568 166.8C1569.4 166.7 1570.7 166.6 1572 166.4C1573.4 166.2 1574.7 166 1576 165.7C1577.4 165.4 1578.7 165.2 1580.1 164.8C1581.4 164.5 1582.7 164.1 1584.1 163.7C1585.4 163.3 1586.7 162.8 1588.1 162.3C1589.4 161.7 1590.8 161.2 1592.1 160.5C1593.4 159.8 1594.8 159 1596.1 158.1C1597.4 157.3 1598.8 156.3 1600.1 155.2C1601.5 154.1 1602.8 152.8 1604.1 151.6C1605.5 150.3 1606.8 148.9 1608.1 147.5C1609.5 146.1 1610.8 144.6 1612.2 143.1C1613.5 141.6 1614.8 140.1 1616.2 138.5C1617.5 136.9 1618.8 135.3 1620.2 133.7C1621.5 132.1 1622.9 130.5 1624.2 128.9C1625.5 127.3 1626.9 125.7 1628.2 124.2C1629.5 122.6 1630.9 121.1 1632.2 119.5C1633.6 117.9 1634.9 116.4 1636.2 114.7C1637.6 113.1 1638.9 111.4 1640.2 109.7C1641.6 107.9 1642.9 106 1644.3 104C1645.6 102.1 1646.9 100 1648.3 97.8C1649.6 95.7 1650.9 93.5 1652.3 91.2C1653.6 88.9 1655 86.6 1656.3 84.2C1657.6 81.8 1659 79.4 1660.3 76.9C1661.6 74.4 1663 71.9 1664.3 69.4C1665.7 66.9 1667 64.3 1668.3 61.9C1669.7 59.4 1671 56.9 1672.3 54.6C1673.7 52.3 1675 50 1676.4 48.1C1677.7 46.2 1679 44.4 1680.4 43C1681.7 41.6 1683 40.4 1684.4 39.5C1685.7 38.6 1687.1 38 1688.4 37.5C1689.7 37 1691.1 36.8 1692.4 36.6C1693.7 36.4 1695.1 36.4 1696.4 36.3C1697.8 36.2 1699.1 36.1 1700.4 35.9C1701.8 35.8 1703.1 35.6 1704.4 35.2C1705.8 34.8 1707.1 34.4 1708.5 33.7C1709.8 33.1 1711.1 32.2 1712.5 31.3C1713.8 30.3 1715.1 29.1 1716.5 27.8C1717.8 26.5 1719.2 25 1720.5 23.5C1721.8 21.9 1723.2 20.2 1724.5 18.6C1725.8 16.9 1727.2 15.1 1728.5 13.5C1729.9 11.8 1731.2 10.1 1732.5 8.6C1733.9 7.1 1735.2 5.7 1736.5 4.5C1737.9 3.3 1739.2 2.3 1740.6 1.6C1741.9 0.9 1743.2 0.4 1744.6 0.3C1745.9 0.2 1747.2 0.5 1748.6 1.1C1749.9 1.7 1751.3 2.6 1752.6 3.8C1753.9 5 1755.3 6.6 1756.6 8.3C1757.9 10 1759.3 12.1 1760.6 14.2C1762 16.4 1763.3 18.9 1764.6 21.4C1766 24 1767.3 26.8 1768.6 29.6C1770 32.5 1771.3 35.5 1772.7 38.6C1774 41.6 1775.3 44.8 1776.7 48C1778 51.2 1779.3 54.4 1780.7 57.6C1782 60.8 1783.4 64 1784.7 67C1786 70.1 1787.4 73.2 1788.7 76C1790 78.9 1791.4 81.7 1792.7 84.3C1794.1 86.8 1795.4 89.3 1796.7 91.4C1798.1 93.6 1799.4 95.6 1800.7 97.2C1802.1 98.9 1803.4 100.2 1804.8 101.4C1806.1 102.6 1807.4 103.5 1808.8 104.3C1810.1 105.1 1811.4 105.7 1812.8 106.3C1814.1 106.8 1815.5 107.2 1816.8 107.7C1818.1 108.1 1819.5 108.4 1820.8 108.8C1822.1 109.3 1823.5 109.7 1824.8 110.2C1826.2 110.7 1827.5 111.3 1828.8 112C1830.2 112.6 1831.5 113.4 1832.8 114.2C1834.2 114.9 1835.5 115.7 1836.9 116.5C1838.2 117.3 1839.5 118.1 1840.9 118.9C1842.2 119.7 1843.5 120.4 1844.9 121.1C1846.2 121.8 1847.6 122.4 1848.9 123C1850.2 123.7 1851.6 124.2 1852.9 124.9C1854.2 125.5 1855.6 126.2 1856.9 126.9C1858.3 127.6 1859.6 128.4 1860.9 129.2C1862.3 130 1863.6 130.9 1864.9 131.8C1866.3 132.7 1867.6 133.7 1869 134.6C1870.3 135.6 1871.6 136.6 1873 137.7C1874.3 138.7 1875.6 139.8 1877 140.9C1878.3 141.9 1879.7 143 1881 144.1C1882.3 145.2 1883.7 146.4 1885 147.5C1886.3 148.6 1887.7 149.7 1889 150.7C1890.4 151.7 1891.7 152.7 1893 153.6C1894.4 154.5 1895.7 155.4 1897 156.1C1898.4 156.8 1899.7 157.4 1901.1 157.9C1902.4 158.4 1903.7 158.8 1905.1 159.1C1906.4 159.4 1907.7 159.5 1909.1 159.7C1910.4 159.8 1911.8 159.8 1913.1 159.8C1914.4 159.9 1915.8 159.8 1917.1 159.8C1918.4 159.8 1919.8 159.7 1921.1 159.7C1922.5 159.8 1923.8 159.8 1925.1 159.9C1926.5 160 1927.8 160.2 1929.1 160.4C1930.5 160.6 1931.8 160.9 1933.2 161.2C1934.5 161.4 1935.8 161.7 1937.2 162C1938.5 162.3 1939.8 162.6 1941.2 162.9C1942.5 163.2 1943.9 163.5 1945.2 163.7C1946.5 164 1947.9 164.2 1949.2 164.5C1950.5 164.7 1951.9 164.9 1953.2 165.1C1954.6 165.4 1955.9 165.6 1957.2 165.7C1958.6 165.9 1959.9 166.1 1961.2 166.3C1962.6 166.4 1963.9 166.6 1965.3 166.7C1966.6 166.8 1967.9 166.9 1969.3 167C1970.6 167.1 1971.9 167.2 1973.3 167.2C1974.6 167.3 1976 167.3 1977.3 167.3C1978.6 167.3 1980.6 167.3 1981.3 167.3Z" fill="#6a1b92" stroke="none"/>
<path d="M1131 167.3L1560 167.3C1560.7 167.3 1562.7 167.2 1564 167.1C1565.3 167.1 1566.7 167 1568 166.8C1569.4 166.7 1570.7 166.6 1572 166.4C1573.4 166.2 1574.7 166 1576 165.7C1577.4 165.4 1578.7 165.2 1580.1 164.8C1581.4 164.5 1582.7 164.1 1584.1 163.7C1585.4 163.3 1586.7 162.8 1588.1 162.3C1589.4 161.7 1590.8 161.2 1592.1 160.5C1593.4 159.8 1594.8 159 1596.1 158.1C1597.4 157.3 1598.8 156.3 1600.1 155.2C1601.5 154.1 1602.8 152.8 1604.1 151.6C1605.5 150.3 1606.8 148.9 1608.1 147.5C1609.5 146.1 1610.8 144.6 1612.2 143.1C1613.5 141.6 1614.8 140.1 1616.2 138.5C1617.5 136.9 1618.8 135.3 1620.2 133.7C1621.5 132.1 1622.9 130.5 1624.2 128.9C1625.5 127.3 1626.9 125.7 1628.2 124.2C1629.5 122.6 1630.9 121.1 1632.2 119.5C1633.6 117.9 1634.9 116.4 1636.2 114.7C1637.6 113.1 1638.9 111.4 1640.2 109.7C1641.6 107.9 1642.9 106 1644.3 104C1645.6 102.1 1646.9 100 1648.3 97.8C1649.6 95.7 1650.9 93.5 1652.3 91.2C1653.6 88.9 1655 86.6 1656.3 84.2C1657.6 81.8 1659 79.4 1660.3 76.9C1661.6 74.4 1663 71.9 1664.3 69.4C1665.7 66.9 1667 64.3 1668.3 61.9C1669.7 59.4 1671 56.9 1672.3 54.6C1673.7 52.3 1675 50 1676.4 48.1C1677.7 46.2 1679 44.4 1680.4 43C1681.7 41.6 1683 40.4 1684.4 39.5C1685.7 38.6 1687.1 38 1688.4 37.5C1689.7 37 1691.1 36.8 1692.4 36.6C1693.7 36.4 1695.1 36.4 1696.4 36.3C1697.8 36.2 1699.1 36.1 1700.4 35.9C1701.8 35.8 1703.1 35.6 1704.4 35.2C1705.8 34.8 1707.1 34.4 1708.5 33.7C1709.8 33.1 1711.1 32.2 1712.5 31.3C1713.8 30.3 1715.1 29.1 1716.5 27.8C1717.8 26.5 1719.2 25 1720.5 23.5C1721.8 21.9 1723.2 20.2 1724.5 18.6C1725.8 16.9 1727.2 15.1 1728.5 13.5C1729.9 11.8 1731.2 10.1 1732.5 8.6C1733.9 7.1 1735.2 5.7 1736.5 4.5C1737.9 3.3 1739.2 2.3 1740.6 1.6C1741.9 0.9 1743.2 0.4 1744.6 0.3C1745.9 0.2 1747.2 0.5 1748.6 1.1C1749.9 1.7 1751.3 2.6 1752.6 3.8C1753.9 5 1755.3 6.6 1756.6 8.3C1757.9 10 1759.3 12.1 1760.6 14.2C1762 16.4 1763.3 18.9 1764.6 21.4C1766 24 1767.3 26.8 1768.6 29.6C1770 32.5 1771.3 35.5 1772.7 38.6C1774 41.6 1775.3 44.8 1776.7 48C1778 51.2 1779.3 54.4 1780.7 57.6C1782 60.8 1783.4 64 1784.7 67C1786 70.1 1787.4 73.2 1788.7 76C1790 78.9 1791.4 81.7 1792.7 84.3C1794.1 86.8 1795.4 89.3 1796.7 91.4C1798.1 93.6 1799.4 95.6 1800.7 97.2C1802.1 98.9 1803.4 100.2 1804.8 101.4C1806.1 102.6 1807.4 103.5 1808.8 104.3C1810.1 105.1 1811.4 105.7 1812.8 106.3C1814.1 106.8 1815.5 107.2 1816.8 107.7C1818.1 108.1 1819.5 108.4 1820.8 108.8C1822.1 109.3 1823.5 109.7 1824.8 110.2C1826.2 110.7 1827.5 111.3 1828.8 112C1830.2 112.6 1831.5 113.4 1832.8 114.2C1834.2 114.9 1835.5 115.7 1836.9 116.5C1838.2 117.3 1839.5 118.1 1840.9 118.9C1842.2 119.7 1843.5 120.4 1844.9 121.1C1846.2 121.8 1847.6 122.4 1848.9 123C1850.2 123.7 1851.6 124.2 1852.9 124.9C1854.2 125.5 1855.6 126.2 1856.9 126.9C1858.3 127.6 1859.6 128.4 1860.9 129.2C1862.3 130 1863.6 130.9 1864.9 131.8C1866.3 132.7 1867.6 133.7 1869 134.6C1870.3 135.6 1871.6 136.6 1873 137.7C1874.3 138.7 1875.6 139.8 1877 140.9C1878.3 141.9 1879.7 143 1881 144.1C1882.3 145.2 1883.7 146.4 1885 147.5C1886.3 148.6 1887.7 149.7 1889 150.7C1890.4 151.7 1891.7 152.7 1893 153.6C1894.4 154.5 1895.7 155.4 1897 156.1C1898.4 156.8 1899.7 157.4 1901.1 157.9C1902.4 158.4 1903.7 158.8 1905.1 159.1C1906.4 159.4 1907.7 159.5 1909.1 159.7C1910.4 159.8 1911.8 159.8 1913.1 159.8C1914.4 159.9 1915.8 159.8 1917.1 159.8C1918.4 159.8 1919.8 159.7 1921.1 159.7C1922.5 159.8 1923.8 159.8 1925.1 159.9C1926.5 160 1927.8 160.2 1929.1 160.4C1930.5 160.6 1931.8 160.9 1933.2 161.2C1934.5 161.4 1935.8 161.7 1937.2 162C1938.5 162.3 1939.8 162.6 1941.2 162.9C1942.5 163.2 1943.9 163.5 1945.2 163.7C1946.5 164 1947.9 164.2 1949.2 164.5C1950.5 164.7 1951.9 164.9 1953.2 165.1C1954.6 165.4 1955.9 165.6 1957.2 165.7C1958.6 165.9 1959.9 166.1 1961.2 166.3C1962.6 166.4 1963.9 166.6 1965.3 166.7C1966.6 166.8 1967.9 166.9 1969.3 167C1970.6 167.1 1971.9 167.2 1973.3 167.2C1974.6 167.3 1976 167.3 1977.3 167.3C1978.6 167.3 1980.6 167.3 1981.3 167.3L2047.5 167.3" fill="none" stroke="#000" stroke-width="3.0"/>
<path d="M1565 265.5C1565.7 265.5 1567.7 265.5 1569 265.5C1570.3 265.5 1571.6 265.5 1573 265.4C1574.3 265.4 1575.6 265.3 1577 265.2C1578.3 265.1 1579.6 265 1580.9 264.9C1582.3 264.7 1583.6 264.6 1584.9 264.4C1586.3 264.2 1587.6 264 1588.9 263.7C1590.3 263.5 1591.6 263.2 1592.9 262.9C1594.2 262.6 1595.6 262.2 1596.9 261.8C1598.2 261.4 1599.6 261 1600.9 260.5C1602.2 260.1 1603.5 259.5 1604.9 259C1606.2 258.4 1607.5 257.8 1608.9 257.2C1610.2 256.5 1611.5 255.8 1612.8 255C1614.2 254.3 1615.5 253.5 1616.8 252.6C1618.2 251.7 1619.5 250.8 1620.8 249.8C1622.2 248.8 1623.5 247.7 1624.8 246.6C1626.1 245.5 1627.5 244.3 1628.8 243.1C1630.1 241.8 1631.5 240.5 1632.8 239.1C1634.1 237.7 1635.4 236.2 1636.8 234.6C1638.1 233 1639.4 231.4 1640.8 229.7C1642.1 227.9 1643.4 226.1 1644.7 224.2C1646.1 222.2 1647.4 220.2 1648.7 218C1650.1 215.8 1651.4 213.5 1652.7 211C1654.1 208.5 1655.4 205.8 1656.7 202.8C1658 199.9 1659.4 196.8 1660.7 193.3C1662 189.7 1663.4 185.9 1664.7 181.8C1666 177.6 1667.3 172.9 1668.7 168.3C1670 163.7 1671.3 158.7 1672.7 153.9C1674 149.2 1675.3 144.4 1676.6 140C1678 135.6 1679.3 131.4 1680.6 127.7C1682 124 1683.3 120.7 1684.6 117.9C1686 115.1 1687.3 112.7 1688.6 110.7C1689.9 108.8 1691.3 107.3 1692.6 106.2C1693.9 105.2 1695.3 104.6 1696.6 104.4C1697.9 104.2 1699.2 104.5 1700.6 105C1701.9 105.4 1703.2 106.3 1704.6 107.2C1705.9 108.1 1707.2 109.3 1708.5 110.3C1709.9 111.4 1711.2 112.6 1712.5 113.7C1713.9 114.7 1715.2 115.6 1716.5 116.4C1717.8 117.3 1719.2 117.9 1720.5 118.5C1721.8 119.1 1723.2 119.6 1724.5 120.1C1725.8 120.5 1727.2 120.8 1728.5 121.1C1729.8 121.4 1731.1 121.6 1732.5 121.8C1733.8 122 1735.1 122.1 1736.5 122.3C1737.8 122.4 1739.1 122.5 1740.4 122.6C1741.8 122.7 1743.1 122.8 1744.4 123C1745.8 123.1 1747.1 123.2 1748.4 123.4C1749.7 123.6 1751.1 123.8 1752.4 124.1C1753.7 124.4 1755.1 124.7 1756.4 125.1C1757.7 125.5 1759.1 125.9 1760.4 126.4C1761.7 126.9 1763 127.5 1764.4 128C1765.7 128.6 1767 129.2 1768.4 129.8C1769.7 130.4 1771 131 1772.3 131.7C1773.7 132.3 1775 132.9 1776.3 133.6C1777.7 134.2 1779 134.9 1780.3 135.6C1781.6 136.2 1783 136.9 1784.3 137.7C1785.6 138.4 1787 139.2 1788.3 140.2C1789.6 141.1 1791 142 1792.3 143.1C1793.6 144.3 1794.9 145.5 1796.3 146.8C1797.6 148.2 1798.9 149.7 1800.3 151.2C1801.6 152.8 1802.9 154.5 1804.2 156.3C1805.6 158.1 1806.9 160 1808.2 161.9C1809.6 163.9 1810.9 166 1812.2 168.1C1813.5 170.2 1814.9 172.4 1816.2 174.6C1817.5 176.8 1818.9 179.1 1820.2 181.5C1821.5 183.8 1822.8 186.2 1824.2 188.6C1825.5 191 1826.8 193.4 1828.2 195.8C1829.5 198.2 1830.8 200.7 1832.2 203.1C1833.5 205.5 1834.8 207.8 1836.1 210.2C1837.5 212.5 1838.8 214.8 1840.1 217C1841.5 219.3 1842.8 221.4 1844.1 223.5C1845.4 225.6 1846.8 227.6 1848.1 229.5C1849.4 231.4 1850.8 233.2 1852.1 234.8C1853.4 236.5 1854.7 238 1856.1 239.4C1857.4 240.8 1858.7 242.1 1860.1 243.2C1861.4 244.2 1862.7 245.1 1864.1 245.9C1865.4 246.6 1866.7 247.2 1868 247.7C1869.4 248.1 1870.7 248.4 1872 248.7C1873.4 248.9 1874.7 249.1 1876 249.2C1877.3 249.4 1878.7 249.4 1880 249.5C1881.3 249.6 1882.7 249.7 1884 249.8C1885.3 250 1886.6 250.2 1888 250.5C1889.3 250.7 1890.6 251.1 1892 251.5C1893.3 251.9 1894.6 252.4 1896 253C1897.3 253.5 1898.6 254.1 1899.9 254.6C1901.3 255.2 1902.6 255.9 1903.9 256.5C1905.3 257.1 1906.6 257.7 1907.9 258.3C1909.2 258.9 1910.6 259.4 1911.9 259.9C1913.2 260.5 1914.6 260.9 1915.9 261.4C1917.2 261.8 1918.5 262.2 1919.9 262.6C1921.2 262.9 1922.5 263.2 1923.9 263.5C1925.2 263.8 1926.5 264 1927.9 264.2C1929.2 264.4 1930.5 264.6 1931.8 264.8C1933.2 264.9 1934.5 265 1935.8 265.1C1937.2 265.2 1938.5 265.3 1939.8 265.4C1941.1 265.4 1943.1 265.5 1943.8 265.5Z" fill="#f5d431" stroke="none"/>
<path d="M1131 265.5L1565 265.5C1565.7 265.5 1567.7 265.5 1569 265.5C1570.3 265.5 1571.6 265.5 1573 265.4C1574.3 265.4 1575.6 265.3 1577 265.2C1578.3 265.1 1579.6 265 1580.9 264.9C1582.3 264.7 1583.6 264.6 1584.9 264.4C1586.3 264.2 1587.6 264 1588.9 263.7C1590.3 263.5 1591.6 263.2 1592.9 262.9C1594.2 262.6 1595.6 262.2 1596.9 261.8C1598.2 261.4 1599.6 261 1600.9 260.5C1602.2 260.1 1603.5 259.5 1604.9 259C1606.2 258.4 1607.5 257.8 1608.9 257.2C1610.2 256.5 1611.5 255.8 1612.8 255C1614.2 254.3 1615.5 253.5 1616.8 252.6C1618.2 251.7 1619.5 250.8 1620.8 249.8C1622.2 248.8 1623.5 247.7 1624.8 246.6C1626.1 245.5 1627.5 244.3 1628.8 243.1C1630.1 241.8 1631.5 240.5 1632.8 239.1C1634.1 237.7 1635.4 236.2 1636.8 234.6C1638.1 233 1639.4 231.4 1640.8 229.7C1642.1 227.9 1643.4 226.1 1644.7 224.2C1646.1 222.2 1647.4 220.2 1648.7 218C1650.1 215.8 1651.4 213.5 1652.7 211C1654.1 208.5 1655.4 205.8 1656.7 202.8C1658 199.9 1659.4 196.8 1660.7 193.3C1662 189.7 1663.4 185.9 1664.7 181.8C1666 177.6 1667.3 172.9 1668.7 168.3C1670 163.7 1671.3 158.7 1672.7 153.9C1674 149.2 1675.3 144.4 1676.6 140C1678 135.6 1679.3 131.4 1680.6 127.7C1682 124 1683.3 120.7 1684.6 117.9C1686 115.1 1687.3 112.7 1688.6 110.7C1689.9 108.8 1691.3 107.3 1692.6 106.2C1693.9 105.2 1695.3 104.6 1696.6 104.4C1697.9 104.2 1699.2 104.5 1700.6 105C1701.9 105.4 1703.2 106.3 1704.6 107.2C1705.9 108.1 1707.2 109.3 1708.5 110.3C1709.9 111.4 1711.2 112.6 1712.5 113.7C1713.9 114.7 1715.2 115.6 1716.5 116.4C1717.8 117.3 1719.2 117.9 1720.5 118.5C1721.8 119.1 1723.2 119.6 1724.5 120.1C1725.8 120.5 1727.2 120.8 1728.5 121.1C1729.8 121.4 1731.1 121.6 1732.5 121.8C1733.8 122 1735.1 122.1 1736.5 122.3C1737.8 122.4 1739.1 122.5 1740.4 122.6C1741.8 122.7 1743.1 122.8 1744.4 123C1745.8 123.1 1747.1 123.2 1748.4 123.4C1749.7 123.6 1751.1 123.8 1752.4 124.1C1753.7 124.4 1755.1 124.7 1756.4 125.1C1757.7 125.5 1759.1 125.9 1760.4 126.4C1761.7 126.9 1763 127.5 1764.4 128C1765.7 128.6 1767 129.2 1768.4 129.8C1769.7 130.4 1771 131 1772.3 131.7C1773.7 132.3 1775 132.9 1776.3 133.6C1777.7 134.2 1779 134.9 1780.3 135.6C1781.6 136.2 1783 136.9 1784.3 137.7C1785.6 138.4 1787 139.2 1788.3 140.2C1789.6 141.1 1791 142 1792.3 143.1C1793.6 144.3 1794.9 145.5 1796.3 146.8C1797.6 148.2 1798.9 149.7 1800.3 151.2C1801.6 152.8 1802.9 154.5 1804.2 156.3C1805.6 158.1 1806.9 160 1808.2 161.9C1809.6 163.9 1810.9 166 1812.2 168.1C1813.5 170.2 1814.9 172.4 1816.2 174.6C1817.5 176.8 1818.9 179.1 1820.2 181.5C1821.5 183.8 1822.8 186.2 1824.2 188.6C1825.5 191 1826.8 193.4 1828.2 195.8C1829.5 198.2 1830.8 200.7 1832.2 203.1C1833.5 205.5 1834.8 207.8 1836.1 210.2C1837.5 212.5 1838.8 214.8 1840.1 217C1841.5 219.3 1842.8 221.4 1844.1 223.5C1845.4 225.6 1846.8 227.6 1848.1 229.5C1849.4 231.4 1850.8 233.2 1852.1 234.8C1853.4 236.5 1854.7 238 1856.1 239.4C1857.4 240.8 1858.7 242.1 1860.1 243.2C1861.4 244.2 1862.7 245.1 1864.1 245.9C1865.4 246.6 1866.7 247.2 1868 247.7C1869.4 248.1 1870.7 248.4 1872 248.7C1873.4 248.9 1874.7 249.1 1876 249.2C1877.3 249.4 1878.7 249.4 1880 249.5C1881.3 249.6 1882.7 249.7 1884 249.8C1885.3 250 1886.6 250.2 1888 250.5C1889.3 250.7 1890.6 251.1 1892 251.5C1893.3 251.9 1894.6 252.4 1896 253C1897.3 253.5 1898.6 254.1 1899.9 254.6C1901.3 255.2 1902.6 255.9 1903.9 256.5C1905.3 257.1 1906.6 257.7 1907.9 258.3C1909.2 258.9 1910.6 259.4 1911.9 259.9C1913.2 260.5 1914.6 260.9 1915.9 261.4C1917.2 261.8 1918.5 262.2 1919.9 262.6C1921.2 262.9 1922.5 263.2 1923.9 263.5C1925.2 263.8 1926.5 264 1927.9 264.2C1929.2 264.4 1930.5 264.6 1931.8 264.8C1933.2 264.9 1934.5 265 1935.8 265.1C1937.2 265.2 1938.5 265.3 1939.8 265.4C1941.1 265.4 1943.1 265.5 1943.8 265.5L2047.5 265.5" fill="none" stroke="#000" stroke-width="3.0"/>
<path d="M1580 363.8C1580.7 363.8 1582.7 363.8 1584 363.8C1585.3 363.8 1586.7 363.7 1588 363.5C1589.3 363.4 1590.7 363.2 1592 363C1593.3 362.8 1594.7 362.6 1596 362.3C1597.3 362.1 1598.7 361.8 1600 361.5C1601.3 361.1 1602.7 360.8 1604 360.4C1605.3 360.1 1606.7 359.7 1608 359.3C1609.3 358.9 1610.6 358.4 1612 358C1613.3 357.6 1614.6 357.1 1616 356.7C1617.3 356.3 1618.6 355.8 1620 355.4C1621.3 354.9 1622.6 354.5 1624 354C1625.3 353.6 1626.6 353.1 1628 352.7C1629.3 352.3 1630.6 351.8 1632 351.4C1633.3 350.9 1634.6 350.5 1636 350C1637.3 349.5 1638.6 349 1640 348.5C1641.3 348 1642.6 347.5 1644 347C1645.3 346.4 1646.6 345.8 1648 345.3C1649.3 344.7 1650.6 344 1652 343.4C1653.3 342.7 1654.6 342.1 1656 341.3C1657.3 340.6 1658.6 339.9 1660 339.1C1661.3 338.3 1662.6 337.4 1664 336.6C1665.3 335.7 1666.6 334.7 1668 333.8C1669.3 332.8 1670.6 331.8 1671.9 330.7C1673.3 329.6 1674.6 328.4 1675.9 327.2C1677.3 326 1678.6 324.7 1679.9 323.4C1681.3 322 1682.6 320.6 1683.9 319.1C1685.3 317.6 1686.6 316 1687.9 314.3C1689.3 312.7 1690.6 310.9 1691.9 309C1693.3 307.1 1694.6 305.2 1695.9 303.1C1697.3 301 1698.6 298.8 1699.9 296.4C1701.3 294.1 1702.6 291.7 1703.9 289.1C1705.3 286.6 1706.6 283.9 1707.9 281.2C1709.3 278.4 1710.6 275.6 1711.9 272.6C1713.3 269.6 1714.6 266.6 1715.9 263.4C1717.3 260.3 1718.6 257 1719.9 253.7C1721.3 250.3 1722.6 246.9 1723.9 243.4C1725.3 239.9 1726.6 236.3 1727.9 232.8C1729.3 229.2 1730.6 225.7 1731.9 222.2C1733.2 218.8 1734.6 215.4 1735.9 212.3C1737.2 209.1 1738.6 206 1739.9 203.2C1741.2 200.3 1742.6 197.6 1743.9 195.1C1745.2 192.7 1746.6 190.4 1747.9 188.3C1749.2 186.2 1750.6 184.3 1751.9 182.6C1753.2 180.9 1754.6 179.4 1755.9 178C1757.2 176.7 1758.6 175.5 1759.9 174.4C1761.2 173.3 1762.6 172.4 1763.9 171.5C1765.2 170.7 1766.6 169.9 1767.9 169.3C1769.2 168.7 1770.6 168.1 1771.9 167.7C1773.2 167.3 1774.6 167 1775.9 166.8C1777.2 166.7 1778.6 166.7 1779.9 166.8C1781.2 167 1782.6 167.4 1783.9 167.9C1785.2 168.4 1786.6 169.2 1787.9 170.1C1789.2 171.1 1790.6 172.3 1791.9 173.7C1793.2 175.1 1794.5 176.7 1795.9 178.6C1797.2 180.5 1798.5 182.6 1799.9 184.9C1801.2 187.2 1802.5 189.7 1803.9 192.4C1805.2 195.1 1806.5 198 1807.9 201.1C1809.2 204.2 1810.5 207.5 1811.9 210.9C1813.2 214.3 1814.5 218 1815.9 221.6C1817.2 225.3 1818.5 229.2 1819.9 232.9C1821.2 236.7 1822.5 240.5 1823.9 244.1C1825.2 247.8 1826.5 251.3 1827.9 254.7C1829.2 258.1 1830.5 261.3 1831.9 264.4C1833.2 267.6 1834.5 270.5 1835.9 273.4C1837.2 276.3 1838.5 279 1839.9 281.7C1841.2 284.3 1842.5 286.8 1843.9 289.3C1845.2 291.7 1846.5 294 1847.9 296.2C1849.2 298.4 1850.5 300.6 1851.9 302.6C1853.2 304.6 1854.5 306.6 1855.8 308.4C1857.2 310.3 1858.5 312 1859.8 313.7C1861.2 315.4 1862.5 317 1863.8 318.6C1865.2 320.2 1866.5 321.7 1867.8 323.1C1869.2 324.6 1870.5 326 1871.8 327.4C1873.2 328.8 1874.5 330.1 1875.8 331.4C1877.2 332.7 1878.5 334 1879.8 335.3C1881.2 336.6 1882.5 337.8 1883.8 339.1C1885.2 340.3 1886.5 341.6 1887.8 342.8C1889.2 344 1890.5 345.2 1891.8 346.4C1893.2 347.6 1894.5 348.7 1895.8 349.8C1897.2 350.8 1898.5 351.9 1899.8 352.8C1901.2 353.8 1902.5 354.7 1903.8 355.5C1905.2 356.4 1906.5 357.1 1907.8 357.8C1909.2 358.5 1910.5 359.1 1911.8 359.6C1913.2 360.2 1914.5 360.6 1915.8 361C1917.1 361.4 1918.5 361.8 1919.8 362.1C1921.1 362.4 1922.5 362.6 1923.8 362.8C1925.1 363 1926.5 363.2 1927.8 363.3C1929.1 363.4 1930.5 363.5 1931.8 363.6C1933.1 363.7 1934.5 363.7 1935.8 363.8C1937.1 363.8 1938.5 363.8 1939.8 363.8C1941.1 363.8 1943.1 363.8 1943.8 363.8Z" fill="#1c2b44" stroke="none"/>
<path d="M1131 363.8L1580 363.8C1580.7 363.8 1582.7 363.8 1584 363.8C1585.3 363.8 1586.7 363.7 1588 363.5C1589.3 363.4 1590.7 363.2 1592 363C1593.3 362.8 1594.7 362.6 1596 362.3C1597.3 362.1 1598.7 361.8 1600 361.5C1601.3 361.1 1602.7 360.8 1604 360.4C1605.3 360.1 1606.7 359.7 1608 359.3C1609.3 358.9 1610.6 358.4 1612 358C1613.3 357.6 1614.6 357.1 1616 356.7C1617.3 356.3 1618.6 355.8 1620 355.4C1621.3 354.9 1622.6 354.5 1624 354C1625.3 353.6 1626.6 353.1 1628 352.7C1629.3 352.3 1630.6 351.8 1632 351.4C1633.3 350.9 1634.6 350.5 1636 350C1637.3 349.5 1638.6 349 1640 348.5C1641.3 348 1642.6 347.5 1644 347C1645.3 346.4 1646.6 345.8 1648 345.3C1649.3 344.7 1650.6 344 1652 343.4C1653.3 342.7 1654.6 342.1 1656 341.3C1657.3 340.6 1658.6 339.9 1660 339.1C1661.3 338.3 1662.6 337.4 1664 336.6C1665.3 335.7 1666.6 334.7 1668 333.8C1669.3 332.8 1670.6 331.8 1671.9 330.7C1673.3 329.6 1674.6 328.4 1675.9 327.2C1677.3 326 1678.6 324.7 1679.9 323.4C1681.3 322 1682.6 320.6 1683.9 319.1C1685.3 317.6 1686.6 316 1687.9 314.3C1689.3 312.7 1690.6 310.9 1691.9 309C1693.3 307.1 1694.6 305.2 1695.9 303.1C1697.3 301 1698.6 298.8 1699.9 296.4C1701.3 294.1 1702.6 291.7 1703.9 289.1C1705.3 286.6 1706.6 283.9 1707.9 281.2C1709.3 278.4 1710.6 275.6 1711.9 272.6C1713.3 269.6 1714.6 266.6 1715.9 263.4C1717.3 260.3 1718.6 257 1719.9 253.7C1721.3 250.3 1722.6 246.9 1723.9 243.4C1725.3 239.9 1726.6 236.3 1727.9 232.8C1729.3 229.2 1730.6 225.7 1731.9 222.2C1733.2 218.8 1734.6 215.4 1735.9 212.3C1737.2 209.1 1738.6 206 1739.9 203.2C1741.2 200.3 1742.6 197.6 1743.9 195.1C1745.2 192.7 1746.6 190.4 1747.9 188.3C1749.2 186.2 1750.6 184.3 1751.9 182.6C1753.2 180.9 1754.6 179.4 1755.9 178C1757.2 176.7 1758.6 175.5 1759.9 174.4C1761.2 173.3 1762.6 172.4 1763.9 171.5C1765.2 170.7 1766.6 169.9 1767.9 169.3C1769.2 168.7 1770.6 168.1 1771.9 167.7C1773.2 167.3 1774.6 167 1775.9 166.8C1777.2 166.7 1778.6 166.7 1779.9 166.8C1781.2 167 1782.6 167.4 1783.9 167.9C1785.2 168.4 1786.6 169.2 1787.9 170.1C1789.2 171.1 1790.6 172.3 1791.9 173.7C1793.2 175.1 1794.5 176.7 1795.9 178.6C1797.2 180.5 1798.5 182.6 1799.9 184.9C1801.2 187.2 1802.5 189.7 1803.9 192.4C1805.2 195.1 1806.5 198 1807.9 201.1C1809.2 204.2 1810.5 207.5 1811.9 210.9C1813.2 214.3 1814.5 218 1815.9 221.6C1817.2 225.3 1818.5 229.2 1819.9 232.9C1821.2 236.7 1822.5 240.5 1823.9 244.1C1825.2 247.8 1826.5 251.3 1827.9 254.7C1829.2 258.1 1830.5 261.3 1831.9 264.4C1833.2 267.6 1834.5 270.5 1835.9 273.4C1837.2 276.3 1838.5 279 1839.9 281.7C1841.2 284.3 1842.5 286.8 1843.9 289.3C1845.2 291.7 1846.5 294 1847.9 296.2C1849.2 298.4 1850.5 300.6 1851.9 302.6C1853.2 304.6 1854.5 306.6 1855.8 308.4C1857.2 310.3 1858.5 312 1859.8 313.7C1861.2 315.4 1862.5 317 1863.8 318.6C1865.2 320.2 1866.5 321.7 1867.8 323.1C1869.2 324.6 1870.5 326 1871.8 327.4C1873.2 328.8 1874.5 330.1 1875.8 331.4C1877.2 332.7 1878.5 334 1879.8 335.3C1881.2 336.6 1882.5 337.8 1883.8 339.1C1885.2 340.3 1886.5 341.6 1887.8 342.8C1889.2 344 1890.5 345.2 1891.8 346.4C1893.2 347.6 1894.5 348.7 1895.8 349.8C1897.2 350.8 1898.5 351.9 1899.8 352.8C1901.2 353.8 1902.5 354.7 1903.8 355.5C1905.2 356.4 1906.5 357.1 1907.8 357.8C1909.2 358.5 1910.5 359.1 1911.8 359.6C1913.2 360.2 1914.5 360.6 1915.8 361C1917.1 361.4 1918.5 361.8 1919.8 362.1C1921.1 362.4 1922.5 362.6 1923.8 362.8C1925.1 363 1926.5 363.2 1927.8 363.3C1929.1 363.4 1930.5 363.5 1931.8 363.6C1933.1 363.7 1934.5 363.7 1935.8 363.8C1937.1 363.8 1938.5 363.8 1939.8 363.8C1941.1 363.8 1943.1 363.8 1943.8 363.8L2047.5 363.8" fill="none" stroke="#000" stroke-width="3.0"/>
<path d="M1575 462.2C1575.7 462.2 1577.7 462.2 1579 462.2C1580.4 462.2 1581.7 462.2 1583 462.1C1584.4 462.1 1585.7 462 1587 461.9C1588.4 461.9 1589.7 461.8 1591.1 461.7C1592.4 461.6 1593.7 461.5 1595.1 461.3C1596.4 461.2 1597.7 461 1599.1 460.9C1600.4 460.7 1601.8 460.5 1603.1 460.3C1604.4 460.2 1605.8 459.9 1607.1 459.7C1608.4 459.5 1609.8 459.3 1611.1 459.1C1612.5 458.9 1613.8 458.6 1615.1 458.4C1616.5 458.1 1617.8 457.9 1619.2 457.7C1620.5 457.4 1621.8 457.2 1623.2 456.9C1624.5 456.7 1625.8 456.4 1627.2 456.2C1628.5 455.9 1629.9 455.7 1631.2 455.4C1632.5 455.1 1633.9 454.9 1635.2 454.6C1636.5 454.4 1637.9 454.1 1639.2 453.8C1640.6 453.4 1641.9 453.1 1643.2 452.7C1644.6 452.4 1645.9 452 1647.2 451.5C1648.6 451.1 1649.9 450.6 1651.3 450C1652.6 449.5 1653.9 448.9 1655.3 448.2C1656.6 447.5 1657.9 446.8 1659.3 446C1660.6 445.2 1662 444.3 1663.3 443.3C1664.6 442.3 1666 441.3 1667.3 440.1C1668.7 439 1670 437.7 1671.3 436.4C1672.7 435 1674 433.5 1675.3 432C1676.7 430.4 1678 428.7 1679.4 426.9C1680.7 425.1 1682 423.1 1683.4 421C1684.7 419 1686 416.8 1687.4 414.5C1688.7 412.2 1690.1 409.8 1691.4 407.3C1692.7 404.9 1694.1 402.3 1695.4 399.6C1696.7 397 1698.1 394.3 1699.4 391.5C1700.8 388.7 1702.1 385.8 1703.4 382.9C1704.8 380 1706.1 377 1707.5 374C1708.8 371 1710.1 368 1711.5 364.9C1712.8 361.8 1714.1 358.7 1715.5 355.6C1716.8 352.5 1718.2 349.4 1719.5 346.3C1720.8 343.2 1722.2 340.1 1723.5 337C1724.8 334 1726.2 331 1727.5 328C1728.9 325.1 1730.2 322.2 1731.5 319.5C1732.9 316.7 1734.2 314 1735.5 311.5C1736.9 309 1738.2 306.5 1739.6 304.3C1740.9 302 1742.2 299.8 1743.6 297.9C1744.9 295.9 1746.3 294 1747.6 292.4C1748.9 290.7 1750.3 289.2 1751.6 287.9C1752.9 286.6 1754.3 285.4 1755.6 284.5C1757 283.5 1758.3 282.8 1759.6 282.2C1761 281.6 1762.3 281.2 1763.6 280.9C1765 280.7 1766.3 280.6 1767.7 280.7C1769 280.8 1770.3 281.1 1771.7 281.5C1773 282 1774.3 282.6 1775.7 283.3C1777 284.1 1778.4 285 1779.7 286C1781 287.1 1782.4 288.3 1783.7 289.7C1785 291 1786.4 292.5 1787.7 294.2C1789.1 295.8 1790.4 297.6 1791.7 299.5C1793.1 301.4 1794.4 303.5 1795.8 305.7C1797.1 307.9 1798.4 310.2 1799.8 312.6C1801.1 315 1802.4 317.6 1803.8 320.1C1805.1 322.7 1806.5 325.4 1807.8 328C1809.1 330.6 1810.5 333.3 1811.8 335.9C1813.1 338.4 1814.5 341 1815.8 343.5C1817.2 345.9 1818.5 348.3 1819.8 350.6C1821.2 352.8 1822.5 354.9 1823.8 356.9C1825.2 358.8 1826.5 360.6 1827.9 362.3C1829.2 364 1830.5 365.5 1831.9 366.9C1833.2 368.2 1834.6 369.5 1835.9 370.6C1837.2 371.6 1838.6 372.5 1839.9 373.3C1841.2 374.2 1842.6 374.8 1843.9 375.5C1845.3 376.2 1846.6 376.8 1847.9 377.6C1849.3 378.3 1850.6 379.1 1851.9 380.1C1853.3 381 1854.6 382 1856 383.2C1857.3 384.4 1858.6 385.8 1860 387.3C1861.3 388.7 1862.6 390.4 1864 392.1C1865.3 393.9 1866.7 395.9 1868 397.9C1869.3 399.9 1870.7 402 1872 404.1C1873.4 406.3 1874.7 408.5 1876 410.7C1877.4 412.8 1878.7 415 1880 417.2C1881.4 419.3 1882.7 421.4 1884.1 423.4C1885.4 425.4 1886.7 427.3 1888.1 429.2C1889.4 431 1890.7 432.8 1892.1 434.5C1893.4 436.2 1894.8 437.8 1896.1 439.3C1897.4 440.8 1898.8 442.3 1900.1 443.6C1901.4 445 1902.8 446.3 1904.1 447.4C1905.5 448.6 1906.8 449.7 1908.1 450.7C1909.5 451.6 1910.8 452.5 1912.1 453.3C1913.5 454.2 1914.8 454.9 1916.2 455.5C1917.5 456.2 1918.8 456.8 1920.2 457.3C1921.5 457.8 1922.9 458.3 1924.2 458.7C1925.5 459.1 1926.9 459.5 1928.2 459.8C1929.5 460.1 1930.9 460.4 1932.2 460.6C1933.6 460.9 1934.9 461.1 1936.2 461.2C1937.6 461.4 1938.9 461.5 1940.2 461.7C1941.6 461.8 1942.9 461.9 1944.3 461.9C1945.6 462 1946.9 462.1 1948.3 462.1C1949.6 462.1 1950.9 462.2 1952.3 462.2C1953.6 462.2 1955.6 462.2 1956.3 462.2Z" fill="#d485ea" stroke="none"/>
<path d="M1131 462.2L1575 462.2C1575.7 462.2 1577.7 462.2 1579 462.2C1580.4 462.2 1581.7 462.2 1583 462.1C1584.4 462.1 1585.7 462 1587 461.9C1588.4 461.9 1589.7 461.8 1591.1 461.7C1592.4 461.6 1593.7 461.5 1595.1 461.3C1596.4 461.2 1597.7 461 1599.1 460.9C1600.4 460.7 1601.8 460.5 1603.1 460.3C1604.4 460.2 1605.8 459.9 1607.1 459.7C1608.4 459.5 1609.8 459.3 1611.1 459.1C1612.5 458.9 1613.8 458.6 1615.1 458.4C1616.5 458.1 1617.8 457.9 1619.2 457.7C1620.5 457.4 1621.8 457.2 1623.2 456.9C1624.5 456.7 1625.8 456.4 1627.2 456.2C1628.5 455.9 1629.9 455.7 1631.2 455.4C1632.5 455.1 1633.9 454.9 1635.2 454.6C1636.5 454.4 1637.9 454.1 1639.2 453.8C1640.6 453.4 1641.9 453.1 1643.2 452.7C1644.6 452.4 1645.9 452 1647.2 451.5C1648.6 451.1 1649.9 450.6 1651.3 450C1652.6 449.5 1653.9 448.9 1655.3 448.2C1656.6 447.5 1657.9 446.8 1659.3 446C1660.6 445.2 1662 444.3 1663.3 443.3C1664.6 442.3 1666 441.3 1667.3 440.1C1668.7 439 1670 437.7 1671.3 436.4C1672.7 435 1674 433.5 1675.3 432C1676.7 430.4 1678 428.7 1679.4 426.9C1680.7 425.1 1682 423.1 1683.4 421C1684.7 419 1686 416.8 1687.4 414.5C1688.7 412.2 1690.1 409.8 1691.4 407.3C1692.7 404.9 1694.1 402.3 1695.4 399.6C1696.7 397 1698.1 394.3 1699.4 391.5C1700.8 388.7 1702.1 385.8 1703.4 382.9C1704.8 380 1706.1 377 1707.5 374C1708.8 371 1710.1 368 1711.5 364.9C1712.8 361.8 1714.1 358.7 1715.5 355.6C1716.8 352.5 1718.2 349.4 1719.5 346.3C1720.8 343.2 1722.2 340.1 1723.5 337C1724.8 334 1726.2 331 1727.5 328C1728.9 325.1 1730.2 322.2 1731.5 319.5C1732.9 316.7 1734.2 314 1735.5 311.5C1736.9 309 1738.2 306.5 1739.6 304.3C1740.9 302 1742.2 299.8 1743.6 297.9C1744.9 295.9 1746.3 294 1747.6 292.4C1748.9 290.7 1750.3 289.2 1751.6 287.9C1752.9 286.6 1754.3 285.4 1755.6 284.5C1757 283.5 1758.3 282.8 1759.6 282.2C1761 281.6 1762.3 281.2 1763.6 280.9C1765 280.7 1766.3 280.6 1767.7 280.7C1769 280.8 1770.3 281.1 1771.7 281.5C1773 282 1774.3 282.6 1775.7 283.3C1777 284.1 1778.4 285 1779.7 286C1781 287.1 1782.4 288.3 1783.7 289.7C1785 291 1786.4 292.5 1787.7 294.2C1789.1 295.8 1790.4 297.6 1791.7 299.5C1793.1 301.4 1794.4 303.5 1795.8 305.7C1797.1 307.9 1798.4 310.2 1799.8 312.6C1801.1 315 1802.4 317.6 1803.8 320.1C1805.1 322.7 1806.5 325.4 1807.8 328C1809.1 330.6 1810.5 333.3 1811.8 335.9C1813.1 338.4 1814.5 341 1815.8 343.5C1817.2 345.9 1818.5 348.3 1819.8 350.6C1821.2 352.8 1822.5 354.9 1823.8 356.9C1825.2 358.8 1826.5 360.6 1827.9 362.3C1829.2 364 1830.5 365.5 1831.9 366.9C1833.2 368.2 1834.6 369.5 1835.9 370.6C1837.2 371.6 1838.6 372.5 1839.9 373.3C1841.2 374.2 1842.6 374.8 1843.9 375.5C1845.3 376.2 1846.6 376.8 1847.9 377.6C1849.3 378.3 1850.6 379.1 1851.9 380.1C1853.3 381 1854.6 382 1856 383.2C1857.3 384.4 1858.6 385.8 1860 387.3C1861.3 388.7 1862.6 390.4 1864 392.1C1865.3 393.9 1866.7 395.9 1868 397.9C1869.3 399.9 1870.7 402 1872 404.1C1873.4 406.3 1874.7 408.5 1876 410.7C1877.4 412.8 1878.7 415 1880 417.2C1881.4 419.3 1882.7 421.4 1884.1 423.4C1885.4 425.4 1886.7 427.3 1888.1 429.2C1889.4 431 1890.7 432.8 1892.1 434.5C1893.4 436.2 1894.8 437.8 1896.1 439.3C1897.4 440.8 1898.8 442.3 1900.1 443.6C1901.4 445 1902.8 446.3 1904.1 447.4C1905.5 448.6 1906.8 449.7 1908.1 450.7C1909.5 451.6 1910.8 452.5 1912.1 453.3C1913.5 454.2 1914.8 454.9 1916.2 455.5C1917.5 456.2 1918.8 456.8 1920.2 457.3C1921.5 457.8 1922.9 458.3 1924.2 458.7C1925.5 459.1 1926.9 459.5 1928.2 459.8C1929.5 460.1 1930.9 460.4 1932.2 460.6C1933.6 460.9 1934.9 461.1 1936.2 461.2C1937.6 461.4 1938.9 461.5 1940.2 461.7C1941.6 461.8 1942.9 461.9 1944.3 461.9C1945.6 462 1946.9 462.1 1948.3 462.1C1949.6 462.1 1950.9 462.2 1952.3 462.2C1953.6 462.2 1955.6 462.2 1956.3 462.2L2047.5 462.2" fill="none" stroke="#000" stroke-width="3.0"/>
<path d="M1560 560.5C1560.7 560.5 1562.7 560.4 1564 560.3C1565.3 560.3 1566.7 560.2 1568 560.2C1569.3 560.1 1570.7 560 1572 560C1573.3 559.9 1574.7 559.8 1576 559.7C1577.3 559.6 1578.7 559.5 1580 559.3C1581.3 559.1 1582.7 558.9 1584 558.6C1585.3 558.3 1586.7 558 1588 557.6C1589.3 557.1 1590.7 556.6 1592 556C1593.3 555.4 1594.7 554.8 1596 554C1597.3 553.1 1598.7 552.2 1600 551.2C1601.3 550.1 1602.7 548.9 1604 547.6C1605.3 546.3 1606.7 544.8 1608 543.2C1609.3 541.6 1610.7 539.8 1612 537.8C1613.3 535.9 1614.7 533.8 1616 531.5C1617.4 529.2 1618.7 526.7 1620 524C1621.4 521.3 1622.7 518.5 1624 515.4C1625.4 512.3 1626.7 509.2 1628 505.6C1629.4 502.1 1630.7 498.3 1632 494.2C1633.4 490 1634.7 485.4 1636 480.6C1637.4 475.8 1638.7 470.7 1640 465.5C1641.4 460.3 1642.7 454.9 1644 449.5C1645.4 444.1 1646.7 438.6 1648 433.2C1649.4 427.8 1650.7 422.4 1652 417.2C1653.4 412 1654.7 406.9 1656 402.1C1657.4 397.4 1658.7 392.7 1660 388.6C1661.4 384.4 1662.7 380.6 1664 377.2C1665.4 373.9 1666.7 371 1668 368.5C1669.4 366.1 1670.7 364.1 1672 362.4C1673.4 360.8 1674.7 359.5 1676 358.5C1677.4 357.5 1678.7 356.8 1680 356.3C1681.4 355.8 1682.7 355.5 1684 355.4C1685.4 355.2 1686.7 355.3 1688 355.4C1689.4 355.5 1690.7 355.7 1692 355.8C1693.4 356 1694.7 356.3 1696 356.4C1697.4 356.5 1698.7 356.6 1700 356.6C1701.4 356.6 1702.7 356.6 1704 356.6C1705.4 356.6 1706.7 356.7 1708 356.8C1709.4 357 1710.7 357.3 1712 357.8C1713.4 358.2 1714.7 358.9 1716 359.8C1717.4 360.7 1718.7 361.9 1720 363.4C1721.4 364.9 1722.7 366.7 1724 368.8C1725.4 370.9 1726.7 373.3 1728 375.8C1729.4 378.3 1730.7 381.1 1732.1 383.9C1733.4 386.8 1734.7 389.8 1736.1 392.8C1737.4 395.9 1738.7 399 1740.1 402.2C1741.4 405.3 1742.7 408.6 1744.1 411.9C1745.4 415.1 1746.7 418.5 1748.1 421.8C1749.4 425.2 1750.7 428.6 1752.1 432C1753.4 435.3 1754.7 438.8 1756.1 442.2C1757.4 445.6 1758.7 449 1760.1 452.3C1761.4 455.7 1762.7 459.1 1764.1 462.4C1765.4 465.8 1766.7 469.1 1768.1 472.3C1769.4 475.5 1770.7 478.7 1772.1 481.9C1773.4 485 1774.7 488.1 1776.1 491.1C1777.4 494 1778.7 497 1780.1 499.8C1781.4 502.6 1782.7 505.3 1784.1 508C1785.4 510.6 1786.7 513.1 1788.1 515.5C1789.4 518 1790.7 520.3 1792.1 522.5C1793.4 524.7 1794.7 526.8 1796.1 528.8C1797.4 530.7 1798.7 532.6 1800.1 534.3C1801.4 536 1802.7 537.5 1804.1 539C1805.4 540.4 1806.7 541.7 1808.1 543C1809.4 544.2 1810.7 545.2 1812.1 546.2C1813.4 547.2 1814.7 548 1816.1 548.8C1817.4 549.6 1818.7 550.2 1820.1 550.8C1821.4 551.4 1822.7 551.9 1824.1 552.3C1825.4 552.7 1826.7 553 1828.1 553.3C1829.4 553.5 1830.7 553.7 1832.1 553.8C1833.4 554 1834.7 554.1 1836.1 554.2C1837.4 554.2 1838.7 554.3 1840.1 554.3C1841.4 554.4 1842.7 554.4 1844.1 554.5C1845.4 554.5 1846.8 554.6 1848.1 554.7C1849.4 554.8 1850.8 554.9 1852.1 555.1C1853.4 555.2 1854.8 555.5 1856.1 555.7C1857.4 555.9 1858.8 556.2 1860.1 556.4C1861.4 556.7 1862.8 556.9 1864.1 557.1C1865.4 557.4 1866.8 557.6 1868.1 557.8C1869.4 558 1870.8 558.2 1872.1 558.4C1873.4 558.5 1874.8 558.7 1876.1 558.9C1877.4 559 1878.8 559.2 1880.1 559.3C1881.4 559.4 1882.8 559.6 1884.1 559.7C1885.4 559.8 1886.8 559.9 1888.1 560C1889.4 560.1 1890.8 560.2 1892.1 560.2C1893.4 560.3 1894.8 560.3 1896.1 560.4C1897.4 560.4 1899.4 560.5 1900.1 560.5Z" fill="#c8143b" stroke="none"/>
<path d="M1131 560.5L1560 560.5C1560.7 560.5 1562.7 560.4 1564 560.3C1565.3 560.3 1566.7 560.2 1568 560.2C1569.3 560.1 1570.7 560 1572 560C1573.3 559.9 1574.7 559.8 1576 559.7C1577.3 559.6 1578.7 559.5 1580 559.3C1581.3 559.1 1582.7 558.9 1584 558.6C1585.3 558.3 1586.7 558 1588 557.6C1589.3 557.1 1590.7 556.6 1592 556C1593.3 555.4 1594.7 554.8 1596 554C1597.3 553.1 1598.7 552.2 1600 551.2C1601.3 550.1 1602.7 548.9 1604 547.6C1605.3 546.3 1606.7 544.8 1608 543.2C1609.3 541.6 1610.7 539.8 1612 537.8C1613.3 535.9 1614.7 533.8 1616 531.5C1617.4 529.2 1618.7 526.7 1620 524C1621.4 521.3 1622.7 518.5 1624 515.4C1625.4 512.3 1626.7 509.2 1628 505.6C1629.4 502.1 1630.7 498.3 1632 494.2C1633.4 490 1634.7 485.4 1636 480.6C1637.4 475.8 1638.7 470.7 1640 465.5C1641.4 460.3 1642.7 454.9 1644 449.5C1645.4 444.1 1646.7 438.6 1648 433.2C1649.4 427.8 1650.7 422.4 1652 417.2C1653.4 412 1654.7 406.9 1656 402.1C1657.4 397.4 1658.7 392.7 1660 388.6C1661.4 384.4 1662.7 380.6 1664 377.2C1665.4 373.9 1666.7 371 1668 368.5C1669.4 366.1 1670.7 364.1 1672 362.4C1673.4 360.8 1674.7 359.5 1676 358.5C1677.4 357.5 1678.7 356.8 1680 356.3C1681.4 355.8 1682.7 355.5 1684 355.4C1685.4 355.2 1686.7 355.3 1688 355.4C1689.4 355.5 1690.7 355.7 1692 355.8C1693.4 356 1694.7 356.3 1696 356.4C1697.4 356.5 1698.7 356.6 1700 356.6C1701.4 356.6 1702.7 356.6 1704 356.6C1705.4 356.6 1706.7 356.7 1708 356.8C1709.4 357 1710.7 357.3 1712 357.8C1713.4 358.2 1714.7 358.9 1716 359.8C1717.4 360.7 1718.7 361.9 1720 363.4C1721.4 364.9 1722.7 366.7 1724 368.8C1725.4 370.9 1726.7 373.3 1728 375.8C1729.4 378.3 1730.7 381.1 1732.1 383.9C1733.4 386.8 1734.7 389.8 1736.1 392.8C1737.4 395.9 1738.7 399 1740.1 402.2C1741.4 405.3 1742.7 408.6 1744.1 411.9C1745.4 415.1 1746.7 418.5 1748.1 421.8C1749.4 425.2 1750.7 428.6 1752.1 432C1753.4 435.3 1754.7 438.8 1756.1 442.2C1757.4 445.6 1758.7 449 1760.1 452.3C1761.4 455.7 1762.7 459.1 1764.1 462.4C1765.4 465.8 1766.7 469.1 1768.1 472.3C1769.4 475.5 1770.7 478.7 1772.1 481.9C1773.4 485 1774.7 488.1 1776.1 491.1C1777.4 494 1778.7 497 1780.1 499.8C1781.4 502.6 1782.7 505.3 1784.1 508C1785.4 510.6 1786.7 513.1 1788.1 515.5C1789.4 518 1790.7 520.3 1792.1 522.5C1793.4 524.7 1794.7 526.8 1796.1 528.8C1797.4 530.7 1798.7 532.6 1800.1 534.3C1801.4 536 1802.7 537.5 1804.1 539C1805.4 540.4 1806.7 541.7 1808.1 543C1809.4 544.2 1810.7 545.2 1812.1 546.2C1813.4 547.2 1814.7 548 1816.1 548.8C1817.4 549.6 1818.7 550.2 1820.1 550.8C1821.4 551.4 1822.7 551.9 1824.1 552.3C1825.4 552.7 1826.7 553 1828.1 553.3C1829.4 553.5 1830.7 553.7 1832.1 553.8C1833.4 554 1834.7 554.1 1836.1 554.2C1837.4 554.2 1838.7 554.3 1840.1 554.3C1841.4 554.4 1842.7 554.4 1844.1 554.5C1845.4 554.5 1846.8 554.6 1848.1 554.7C1849.4 554.8 1850.8 554.9 1852.1 555.1C1853.4 555.2 1854.8 555.5 1856.1 555.7C1857.4 555.9 1858.8 556.2 1860.1 556.4C1861.4 556.7 1862.8 556.9 1864.1 557.1C1865.4 557.4 1866.8 557.6 1868.1 557.8C1869.4 558 1870.8 558.2 1872.1 558.4C1873.4 558.5 1874.8 558.7 1876.1 558.9C1877.4 559 1878.8 559.2 1880.1 559.3C1881.4 559.4 1882.8 559.6 1884.1 559.7C1885.4 559.8 1886.8 559.9 1888.1 560C1889.4 560.1 1890.8 560.2 1892.1 560.2C1893.4 560.3 1894.8 560.3 1896.1 560.4C1897.4 560.4 1899.4 560.5 1900.1 560.5L2047.5 560.5" fill="none" stroke="#000" stroke-width="3.0"/>
<path d="M1641 658.7C1641.7 658.7 1643.7 658.7 1645 658.7C1646.3 658.7 1647.6 658.7 1649 658.6C1650.3 658.6 1651.6 658.5 1653 658.4C1654.3 658.3 1655.6 658.1 1657 657.9C1658.3 657.7 1659.6 657.5 1660.9 657.2C1662.3 656.9 1663.6 656.5 1664.9 656.1C1666.3 655.6 1667.6 655.1 1668.9 654.5C1670.3 653.9 1671.6 653.2 1672.9 652.4C1674.2 651.5 1675.6 650.6 1676.9 649.5C1678.2 648.5 1679.6 647.3 1680.9 645.9C1682.2 644.5 1683.5 643 1684.9 641.3C1686.2 639.6 1687.5 637.8 1688.9 635.7C1690.2 633.6 1691.5 631.4 1692.9 628.9C1694.2 626.4 1695.5 623.7 1696.8 620.9C1698.2 618.1 1699.5 615.1 1700.8 612.1C1702.2 609 1703.5 605.8 1704.8 602.5C1706.2 599.3 1707.5 595.9 1708.8 592.5C1710.1 589.2 1711.5 585.7 1712.8 582.3C1714.1 578.9 1715.5 575.4 1716.8 572.1C1718.1 568.7 1719.4 565.3 1720.8 562.2C1722.1 559 1723.4 555.9 1724.8 553C1726.1 550.2 1727.4 547.5 1728.8 545.1C1730.1 542.7 1731.4 540.7 1732.7 538.7C1734.1 536.8 1735.4 535.1 1736.7 533.4C1738.1 531.7 1739.4 530.2 1740.7 528.6C1742.1 526.9 1743.4 525.4 1744.7 523.6C1746 521.8 1747.4 519.9 1748.7 517.7C1750 515.4 1751.4 513 1752.7 510.1C1754 507.2 1755.3 503.8 1756.7 500.2C1758 496.6 1759.3 492.5 1760.7 488.3C1762 484.1 1763.3 479.5 1764.7 475C1766 470.5 1767.3 465.7 1768.6 461.4C1770 457 1771.3 452.6 1772.6 448.8C1774 444.9 1775.3 441.2 1776.6 438C1778 434.8 1779.3 431.8 1780.6 429.3C1781.9 426.8 1783.3 424.6 1784.6 422.9C1785.9 421.2 1787.3 419.9 1788.6 419.2C1789.9 418.5 1791.2 418.3 1792.6 418.7C1793.9 419.2 1795.2 420.2 1796.6 422C1797.9 423.8 1799.2 426.2 1800.6 429.4C1801.9 432.7 1803.2 436.9 1804.5 441.5C1805.9 446 1807.2 451.5 1808.5 456.6C1809.9 461.7 1811.2 467 1812.5 472.1C1813.9 477.2 1815.2 482.2 1816.5 487C1817.8 491.8 1819.2 496.4 1820.5 501C1821.8 505.6 1823.2 510 1824.5 514.5C1825.8 519 1827.1 523.6 1828.5 528C1829.8 532.4 1831.1 536.8 1832.5 540.9C1833.8 545 1835.1 548.9 1836.5 552.5C1837.8 556.2 1839.1 559.6 1840.4 562.8C1841.8 565.9 1843.1 568.8 1844.4 571.5C1845.8 574.2 1847.1 576.7 1848.4 579.1C1849.8 581.4 1851.1 583.6 1852.4 585.8C1853.7 587.9 1855.1 590 1856.4 592C1857.7 594.1 1859.1 596.1 1860.4 598.2C1861.7 600.2 1863 602.3 1864.4 604.5C1865.7 606.7 1867 609 1868.4 611.2C1869.7 613.5 1871 615.8 1872.4 618.1C1873.7 620.3 1875 622.6 1876.3 624.8C1877.7 627.1 1879 629.3 1880.3 631.3C1881.7 633.4 1883 635.4 1884.3 637.3C1885.7 639.2 1887 641 1888.3 642.6C1889.6 644.2 1891 645.7 1892.3 647C1893.6 648.3 1895 649.5 1896.3 650.6C1897.6 651.6 1898.9 652.5 1900.3 653.3C1901.6 654.1 1902.9 654.7 1904.3 655.3C1905.6 655.8 1906.9 656.2 1908.3 656.5C1909.6 656.7 1910.9 656.9 1912.2 657C1913.6 657 1914.9 656.9 1916.2 656.8C1917.6 656.7 1918.9 656.4 1920.2 656.1C1921.6 655.8 1922.9 655.4 1924.2 655.1C1925.5 654.7 1926.9 654.3 1928.2 653.9C1929.5 653.4 1930.9 653 1932.2 652.6C1933.5 652.2 1934.8 651.8 1936.2 651.5C1937.5 651.2 1938.8 651 1940.2 650.8C1941.5 650.6 1942.8 650.5 1944.2 650.4C1945.5 650.3 1946.8 650.3 1948.1 650.3C1949.5 650.3 1950.8 650.4 1952.1 650.5C1953.5 650.6 1954.8 650.7 1956.1 650.9C1957.5 651.1 1958.8 651.3 1960.1 651.6C1961.4 651.8 1962.8 652.1 1964.1 652.4C1965.4 652.7 1966.8 653 1968.1 653.4C1969.4 653.7 1970.7 654 1972.1 654.4C1973.4 654.7 1974.7 655.1 1976.1 655.4C1977.4 655.7 1978.7 656.1 1980.1 656.4C1981.4 656.7 1982.7 657 1984 657.2C1985.4 657.5 1986.7 657.7 1988 657.9C1989.4 658.1 1990.7 658.3 1992 658.4C1993.4 658.5 1994.7 658.6 1996 658.7C1997.3 658.7 1999.3 658.7 2000 658.7Z" fill="#de7c1c" stroke="none"/>
<path d="M1131 658.7L1641 658.7C1641.7 658.7 1643.7 658.7 1645 658.7C1646.3 658.7 1647.6 658.7 1649 658.6C1650.3 658.6 1651.6 658.5 1653 658.4C1654.3 658.3 1655.6 658.1 1657 657.9C1658.3 657.7 1659.6 657.5 1660.9 657.2C1662.3 656.9 1663.6 656.5 1664.9 656.1C1666.3 655.6 1667.6 655.1 1668.9 654.5C1670.3 653.9 1671.6 653.2 1672.9 652.4C1674.2 651.5 1675.6 650.6 1676.9 649.5C1678.2 648.5 1679.6 647.3 1680.9 645.9C1682.2 644.5 1683.5 643 1684.9 641.3C1686.2 639.6 1687.5 637.8 1688.9 635.7C1690.2 633.6 1691.5 631.4 1692.9 628.9C1694.2 626.4 1695.5 623.7 1696.8 620.9C1698.2 618.1 1699.5 615.1 1700.8 612.1C1702.2 609 1703.5 605.8 1704.8 602.5C1706.2 599.3 1707.5 595.9 1708.8 592.5C1710.1 589.2 1711.5 585.7 1712.8 582.3C1714.1 578.9 1715.5 575.4 1716.8 572.1C1718.1 568.7 1719.4 565.3 1720.8 562.2C1722.1 559 1723.4 555.9 1724.8 553C1726.1 550.2 1727.4 547.5 1728.8 545.1C1730.1 542.7 1731.4 540.7 1732.7 538.7C1734.1 536.8 1735.4 535.1 1736.7 533.4C1738.1 531.7 1739.4 530.2 1740.7 528.6C1742.1 526.9 1743.4 525.4 1744.7 523.6C1746 521.8 1747.4 519.9 1748.7 517.7C1750 515.4 1751.4 513 1752.7 510.1C1754 507.2 1755.3 503.8 1756.7 500.2C1758 496.6 1759.3 492.5 1760.7 488.3C1762 484.1 1763.3 479.5 1764.7 475C1766 470.5 1767.3 465.7 1768.6 461.4C1770 457 1771.3 452.6 1772.6 448.8C1774 444.9 1775.3 441.2 1776.6 438C1778 434.8 1779.3 431.8 1780.6 429.3C1781.9 426.8 1783.3 424.6 1784.6 422.9C1785.9 421.2 1787.3 419.9 1788.6 419.2C1789.9 418.5 1791.2 418.3 1792.6 418.7C1793.9 419.2 1795.2 420.2 1796.6 422C1797.9 423.8 1799.2 426.2 1800.6 429.4C1801.9 432.7 1803.2 436.9 1804.5 441.5C1805.9 446 1807.2 451.5 1808.5 456.6C1809.9 461.7 1811.2 467 1812.5 472.1C1813.9 477.2 1815.2 482.2 1816.5 487C1817.8 491.8 1819.2 496.4 1820.5 501C1821.8 505.6 1823.2 510 1824.5 514.5C1825.8 519 1827.1 523.6 1828.5 528C1829.8 532.4 1831.1 536.8 1832.5 540.9C1833.8 545 1835.1 548.9 1836.5 552.5C1837.8 556.2 1839.1 559.6 1840.4 562.8C1841.8 565.9 1843.1 568.8 1844.4 571.5C1845.8 574.2 1847.1 576.7 1848.4 579.1C1849.8 581.4 1851.1 583.6 1852.4 585.8C1853.7 587.9 1855.1 590 1856.4 592C1857.7 594.1 1859.1 596.1 1860.4 598.2C1861.7 600.2 1863 602.3 1864.4 604.5C1865.7 606.7 1867 609 1868.4 611.2C1869.7 613.5 1871 615.8 1872.4 618.1C1873.7 620.3 1875 622.6 1876.3 624.8C1877.7 627.1 1879 629.3 1880.3 631.3C1881.7 633.4 1883 635.4 1884.3 637.3C1885.7 639.2 1887 641 1888.3 642.6C1889.6 644.2 1891 645.7 1892.3 647C1893.6 648.3 1895 649.5 1896.3 650.6C1897.6 651.6 1898.9 652.5 1900.3 653.3C1901.6 654.1 1902.9 654.7 1904.3 655.3C1905.6 655.8 1906.9 656.2 1908.3 656.5C1909.6 656.7 1910.9 656.9 1912.2 657C1913.6 657 1914.9 656.9 1916.2 656.8C1917.6 656.7 1918.9 656.4 1920.2 656.1C1921.6 655.8 1922.9 655.4 1924.2 655.1C1925.5 654.7 1926.9 654.3 1928.2 653.9C1929.5 653.4 1930.9 653 1932.2 652.6C1933.5 652.2 1934.8 651.8 1936.2 651.5C1937.5 651.2 1938.8 651 1940.2 650.8C1941.5 650.6 1942.8 650.5 1944.2 650.4C1945.5 650.3 1946.8 650.3 1948.1 650.3C1949.5 650.3 1950.8 650.4 1952.1 650.5C1953.5 650.6 1954.8 650.7 1956.1 650.9C1957.5 651.1 1958.8 651.3 1960.1 651.6C1961.4 651.8 1962.8 652.1 1964.1 652.4C1965.4 652.7 1966.8 653 1968.1 653.4C1969.4 653.7 1970.7 654 1972.1 654.4C1973.4 654.7 1974.7 655.1 1976.1 655.4C1977.4 655.7 1978.7 656.1 1980.1 656.4C1981.4 656.7 1982.7 657 1984 657.2C1985.4 657.5 1986.7 657.7 1988 657.9C1989.4 658.1 1990.7 658.3 1992 658.4C1993.4 658.5 1994.7 658.6 1996 658.7C1997.3 658.7 1999.3 658.7 2000 658.7L2047.5 658.7" fill="none" stroke="#000" stroke-width="3.0"/>
<path d="M1585 757C1585.7 757 1587.7 756.9 1589 756.8C1590.3 756.7 1591.7 756.5 1593 756.4C1594.4 756.2 1595.7 756 1597 755.8C1598.4 755.5 1599.7 755.2 1601 754.9C1602.4 754.6 1603.7 754.2 1605.1 753.7C1606.4 753.3 1607.7 752.8 1609.1 752.2C1610.4 751.6 1611.7 750.9 1613.1 750.2C1614.4 749.4 1615.8 748.6 1617.1 747.6C1618.4 746.7 1619.8 745.6 1621.1 744.4C1622.4 743.3 1623.8 742 1625.1 740.6C1626.5 739.2 1627.8 737.7 1629.1 736.1C1630.5 734.6 1631.8 733 1633.1 731.3C1634.5 729.6 1635.8 727.9 1637.2 726.2C1638.5 724.5 1639.8 722.8 1641.2 721.2C1642.5 719.5 1643.8 717.8 1645.2 716.2C1646.5 714.6 1647.8 713.1 1649.2 711.6C1650.5 710.2 1651.9 708.8 1653.2 707.5C1654.5 706.3 1655.9 705.1 1657.2 704C1658.5 702.9 1659.9 702 1661.2 701.1C1662.6 700.3 1663.9 699.6 1665.2 699C1666.6 698.4 1667.9 698 1669.2 697.7C1670.6 697.3 1671.9 697.1 1673.3 696.8C1674.6 696.6 1675.9 696.4 1677.3 696.1C1678.6 695.8 1679.9 695.5 1681.3 695.1C1682.6 694.6 1684 694 1685.3 693.2C1686.6 692.4 1688 691.5 1689.3 690.3C1690.6 689 1692 687.6 1693.3 685.7C1694.7 683.8 1696 681.7 1697.3 679.1C1698.7 676.4 1700 673.5 1701.3 669.9C1702.7 666.3 1704 662.2 1705.4 657.6C1706.7 653 1708 647.7 1709.4 642.4C1710.7 637.1 1712 631.4 1713.4 625.9C1714.7 620.4 1716 614.7 1717.4 609.3C1718.7 603.8 1720.1 598.4 1721.4 593.3C1722.7 588.2 1724.1 583.2 1725.4 578.7C1726.7 574.2 1728.1 570.1 1729.4 566.3C1730.8 562.5 1732.1 559 1733.4 555.9C1734.8 552.7 1736.1 549.9 1737.4 547.4C1738.8 544.9 1740.1 542.7 1741.5 540.8C1742.8 538.9 1744.1 537.3 1745.5 536C1746.8 534.6 1748.1 533.6 1749.5 532.8C1750.8 532 1752.2 531.5 1753.5 531.3C1754.8 531 1756.2 531 1757.5 531.3C1758.8 531.5 1760.2 532.1 1761.5 532.8C1762.9 533.6 1764.2 534.6 1765.5 535.8C1766.9 537 1768.2 538.5 1769.5 540.2C1770.9 541.9 1772.2 543.9 1773.5 546.1C1774.9 548.3 1776.2 550.8 1777.6 553.5C1778.9 556.2 1780.2 559.2 1781.6 562.4C1782.9 565.7 1784.2 569.2 1785.6 572.8C1786.9 576.4 1788.3 580.3 1789.6 584.3C1790.9 588.2 1792.3 592.4 1793.6 596.5C1794.9 600.7 1796.3 604.9 1797.6 609.2C1799 613.5 1800.3 617.9 1801.6 622.4C1803 627 1804.3 631.6 1805.6 636.4C1807 641.2 1808.3 646.2 1809.7 651.2C1811 656.2 1812.3 661.3 1813.7 666.3C1815 671.2 1816.3 676.2 1817.7 681C1819 685.8 1820.4 690.5 1821.7 695C1823 699.4 1824.4 703.7 1825.7 707.6C1827 711.5 1828.4 715.1 1829.7 718.3C1831.1 721.6 1832.4 724.6 1833.7 727.3C1835.1 730 1836.4 732.4 1837.7 734.5C1839.1 736.7 1840.4 738.6 1841.7 740.4C1843.1 742.1 1844.4 743.6 1845.8 744.9C1847.1 746.2 1848.4 747.4 1849.8 748.4C1851.1 749.4 1852.4 750.3 1853.8 751.1C1855.1 751.8 1856.5 752.5 1857.8 753.1C1859.1 753.7 1860.5 754.2 1861.8 754.6C1863.1 755.1 1864.5 755.4 1865.8 755.7C1867.2 756.1 1868.5 756.3 1869.8 756.5C1871.2 756.7 1872.5 756.9 1873.8 757C1875.2 757 1876.5 757 1877.9 757C1879.2 757 1880.5 757 1881.9 757C1883.2 757 1884.5 757 1885.9 757C1887.2 757 1888.6 757 1889.9 757C1891.2 757 1893.2 757 1893.9 757Z" fill="#86e870" stroke="none"/>
<path d="M1131 757L1585 757C1585.7 757 1587.7 756.9 1589 756.8C1590.3 756.7 1591.7 756.5 1593 756.4C1594.4 756.2 1595.7 756 1597 755.8C1598.4 755.5 1599.7 755.2 1601 754.9C1602.4 754.6 1603.7 754.2 1605.1 753.7C1606.4 753.3 1607.7 752.8 1609.1 752.2C1610.4 751.6 1611.7 750.9 1613.1 750.2C1614.4 749.4 1615.8 748.6 1617.1 747.6C1618.4 746.7 1619.8 745.6 1621.1 744.4C1622.4 743.3 1623.8 742 1625.1 740.6C1626.5 739.2 1627.8 737.7 1629.1 736.1C1630.5 734.6 1631.8 733 1633.1 731.3C1634.5 729.6 1635.8 727.9 1637.2 726.2C1638.5 724.5 1639.8 722.8 1641.2 721.2C1642.5 719.5 1643.8 717.8 1645.2 716.2C1646.5 714.6 1647.8 713.1 1649.2 711.6C1650.5 710.2 1651.9 708.8 1653.2 707.5C1654.5 706.3 1655.9 705.1 1657.2 704C1658.5 702.9 1659.9 702 1661.2 701.1C1662.6 700.3 1663.9 699.6 1665.2 699C1666.6 698.4 1667.9 698 1669.2 697.7C1670.6 697.3 1671.9 697.1 1673.3 696.8C1674.6 696.6 1675.9 696.4 1677.3 696.1C1678.6 695.8 1679.9 695.5 1681.3 695.1C1682.6 694.6 1684 694 1685.3 693.2C1686.6 692.4 1688 691.5 1689.3 690.3C1690.6 689 1692 687.6 1693.3 685.7C1694.7 683.8 1696 681.7 1697.3 679.1C1698.7 676.4 1700 673.5 1701.3 669.9C1702.7 666.3 1704 662.2 1705.4 657.6C1706.7 653 1708 647.7 1709.4 642.4C1710.7 637.1 1712 631.4 1713.4 625.9C1714.7 620.4 1716 614.7 1717.4 609.3C1718.7 603.8 1720.1 598.4 1721.4 593.3C1722.7 588.2 1724.1 583.2 1725.4 578.7C1726.7 574.2 1728.1 570.1 1729.4 566.3C1730.8 562.5 1732.1 559 1733.4 555.9C1734.8 552.7 1736.1 549.9 1737.4 547.4C1738.8 544.9 1740.1 542.7 1741.5 540.8C1742.8 538.9 1744.1 537.3 1745.5 536C1746.8 534.6 1748.1 533.6 1749.5 532.8C1750.8 532 1752.2 531.5 1753.5 531.3C1754.8 531 1756.2 531 1757.5 531.3C1758.8 531.5 1760.2 532.1 1761.5 532.8C1762.9 533.6 1764.2 534.6 1765.5 535.8C1766.9 537 1768.2 538.5 1769.5 540.2C1770.9 541.9 1772.2 543.9 1773.5 546.1C1774.9 548.3 1776.2 550.8 1777.6 553.5C1778.9 556.2 1780.2 559.2 1781.6 562.4C1782.9 565.7 1784.2 569.2 1785.6 572.8C1786.9 576.4 1788.3 580.3 1789.6 584.3C1790.9 588.2 1792.3 592.4 1793.6 596.5C1794.9 600.7 1796.3 604.9 1797.6 609.2C1799 613.5 1800.3 617.9 1801.6 622.4C1803 627 1804.3 631.6 1805.6 636.4C1807 641.2 1808.3 646.2 1809.7 651.2C1811 656.2 1812.3 661.3 1813.7 666.3C1815 671.2 1816.3 676.2 1817.7 681C1819 685.8 1820.4 690.5 1821.7 695C1823 699.4 1824.4 703.7 1825.7 707.6C1827 711.5 1828.4 715.1 1829.7 718.3C1831.1 721.6 1832.4 724.6 1833.7 727.3C1835.1 730 1836.4 732.4 1837.7 734.5C1839.1 736.7 1840.4 738.6 1841.7 740.4C1843.1 742.1 1844.4 743.6 1845.8 744.9C1847.1 746.2 1848.4 747.4 1849.8 748.4C1851.1 749.4 1852.4 750.3 1853.8 751.1C1855.1 751.8 1856.5 752.5 1857.8 753.1C1859.1 753.7 1860.5 754.2 1861.8 754.6C1863.1 755.1 1864.5 755.4 1865.8 755.7C1867.2 756.1 1868.5 756.3 1869.8 756.5C1871.2 756.7 1872.5 756.9 1873.8 757C1875.2 757 1876.5 757 1877.9 757C1879.2 757 1880.5 757 1881.9 757C1883.2 757 1884.5 757 1885.9 757C1887.2 757 1888.6 757 1889.9 757C1891.2 757 1893.2 757 1893.9 757L2047.5 757" fill="none" stroke="#000" stroke-width="3.0"/>
<path d="M1131 855.2C1131.7 855.2 1133.7 855.1 1135 855C1136.3 854.9 1137.7 854.8 1139 854.6C1140.3 854.5 1141.7 854.3 1143 854.2C1144.4 854 1145.7 853.8 1147 853.6C1148.4 853.4 1149.7 853.2 1151 853C1152.4 852.8 1153.7 852.5 1155 852.3C1156.4 852.1 1157.7 851.8 1159 851.6C1160.4 851.4 1161.7 851.1 1163.1 850.9C1164.4 850.6 1165.7 850.4 1167.1 850.2C1168.4 849.9 1169.7 849.7 1171.1 849.5C1172.4 849.2 1173.7 849 1175.1 848.8C1176.4 848.6 1177.7 848.4 1179.1 848.2C1180.4 848 1181.7 847.8 1183.1 847.7C1184.4 847.5 1185.8 847.4 1187.1 847.3C1188.4 847.2 1189.8 847.2 1191.1 847.2C1192.4 847.2 1193.8 847.2 1195.1 847.3C1196.4 847.3 1197.8 847.5 1199.1 847.7C1200.4 847.9 1201.8 848.1 1203.1 848.5C1204.4 848.8 1205.8 849.2 1207.1 849.6C1208.5 850 1209.8 850.5 1211.1 850.9C1212.5 851.3 1213.8 851.8 1215.1 852.1C1216.5 852.5 1217.8 852.9 1219.1 853.1C1220.5 853.4 1221.8 853.7 1223.1 853.9C1224.5 854.1 1225.8 854.3 1227.2 854.5C1228.5 854.6 1229.8 854.7 1231.2 854.8C1232.5 854.9 1233.8 855 1235.2 855.1C1236.5 855.1 1237.8 855.1 1239.2 855.2C1240.5 855.2 1241.8 855.2 1243.2 855.2C1244.5 855.2 1245.8 855.2 1247.2 855.2C1248.5 855.2 1249.9 855.2 1251.2 855.2C1252.5 855.2 1253.9 855.2 1255.2 855.1C1256.5 855.1 1257.9 855.1 1259.2 855.1C1260.5 855.1 1261.9 855.1 1263.2 855.1C1264.5 855.1 1265.9 855.1 1267.2 855.1C1268.5 855.1 1269.9 855.1 1271.2 855.1C1272.6 855.1 1273.9 855.1 1275.2 855.1C1276.6 855.1 1277.9 855.1 1279.2 855.1C1280.6 855.1 1281.9 855.2 1283.2 855.2C1284.6 855.2 1285.9 855.2 1287.2 855.2C1288.6 855.2 1289.9 855.2 1291.3 855.2C1292.6 855.2 1293.9 855.2 1295.3 855.2C1296.6 855.2 1297.9 855.2 1299.3 855.2C1300.6 855.2 1301.9 855.2 1303.3 855.2C1304.6 855.2 1305.9 855.2 1307.3 855.2C1308.6 855.2 1309.9 855.2 1311.3 855.2C1312.6 855.2 1314 855.2 1315.3 855.2C1316.6 855.2 1318 855.2 1319.3 855.2C1320.6 855.2 1322 855.2 1323.3 855.2C1324.6 855.2 1326 855.2 1327.3 855.2C1328.6 855.2 1330 855.2 1331.3 855.2C1332.7 855.2 1334 855.2 1335.3 855.2C1336.7 855.2 1338 855.2 1339.3 855.2C1340.7 855.2 1342 855.2 1343.3 855.2C1344.7 855.2 1346 855.2 1347.3 855.2C1348.7 855.2 1350 855.2 1351.3 855.2C1352.7 855.2 1354 855.2 1355.4 855.2C1356.7 855.2 1358 855.2 1359.4 855.2C1360.7 855.2 1362 855.2 1363.4 855.2C1364.7 855.2 1366 855.2 1367.4 855.2C1368.7 855.2 1370 855.2 1371.4 855.2C1372.7 855.2 1374 855.2 1375.4 855.2C1376.7 855.2 1378.1 855.2 1379.4 855.2C1380.7 855.2 1382.1 855.2 1383.4 855.1C1384.7 855.1 1386.1 855 1387.4 855C1388.7 854.9 1390.1 854.8 1391.4 854.7C1392.7 854.6 1394.1 854.4 1395.4 854.2C1396.8 854 1398.1 853.8 1399.4 853.5C1400.8 853.3 1402.1 853 1403.4 852.7C1404.8 852.4 1406.1 852.1 1407.4 851.7C1408.8 851.4 1410.1 851.1 1411.4 850.7C1412.8 850.4 1414.1 850.1 1415.4 849.8C1416.8 849.4 1418.1 849.1 1419.5 848.8C1420.8 848.6 1422.1 848.3 1423.5 848.1C1424.8 847.8 1426.1 847.6 1427.5 847.5C1428.8 847.3 1430.1 847.2 1431.5 847.1C1432.8 847 1434.1 847 1435.5 847.1C1436.8 847.1 1438.2 847.2 1439.5 847.3C1440.8 847.5 1442.2 847.7 1443.5 847.9C1444.8 848.1 1446.2 848.4 1447.5 848.7C1448.8 848.9 1450.2 849.3 1451.5 849.6C1452.8 849.9 1454.2 850.2 1455.5 850.5C1456.8 850.8 1458.2 851.1 1459.5 851.4C1460.9 851.7 1462.2 852 1463.5 852.3C1464.9 852.5 1466.2 852.7 1467.5 852.8C1468.9 852.9 1470.2 853 1471.5 852.9C1472.9 852.8 1474.2 852.6 1475.5 852.4C1476.9 852.1 1478.2 851.8 1479.5 851.5C1480.9 851.1 1482.2 850.7 1483.6 850.3C1484.9 849.9 1486.2 849.5 1487.6 849.1C1488.9 848.7 1490.2 848.3 1491.6 848C1492.9 847.7 1494.2 847.4 1495.6 847.2C1496.9 847.1 1498.2 847 1499.6 846.9C1500.9 846.9 1502.3 846.9 1503.6 847C1504.9 847.1 1506.3 847.3 1507.6 847.4C1508.9 847.6 1510.3 847.8 1511.6 848C1512.9 848.2 1514.3 848.5 1515.6 848.7C1516.9 849 1518.3 849.2 1519.6 849.5C1520.9 849.7 1522.3 850 1523.6 850.2C1525 850.4 1526.3 850.5 1527.6 850.7C1529 850.8 1530.3 850.9 1531.6 851C1533 851 1534.3 851 1535.6 850.9C1537 850.8 1538.3 850.7 1539.6 850.5C1541 850.3 1542.3 850 1543.7 849.7C1545 849.4 1546.3 849.1 1547.7 848.7C1549 848.3 1550.3 847.9 1551.7 847.5C1553 847 1554.3 846.5 1555.7 846.1C1557 845.6 1558.3 845.1 1559.7 844.6C1561 844.1 1562.3 843.6 1563.7 843.1C1565 842.6 1566.4 842.1 1567.7 841.6C1569 841 1570.4 840.5 1571.7 839.9C1573 839.3 1574.4 838.8 1575.7 838.2C1577 837.5 1578.4 836.9 1579.7 836.3C1581 835.7 1582.4 835 1583.7 834.4C1585 833.8 1586.4 833.1 1587.7 832.5C1589.1 831.9 1590.4 831.3 1591.7 830.7C1593.1 830.1 1594.4 829.5 1595.7 829C1597.1 828.5 1598.4 828 1599.7 827.5C1601.1 827 1602.4 826.6 1603.7 826.2C1605.1 825.8 1606.4 825.5 1607.8 825.2C1609.1 824.9 1610.4 824.7 1611.8 824.6C1613.1 824.4 1614.4 824.3 1615.8 824.3C1617.1 824.3 1618.4 824.3 1619.8 824.5C1621.1 824.6 1622.4 824.9 1623.8 825.2C1625.1 825.5 1626.4 825.9 1627.8 826.3C1629.1 826.6 1630.5 827.1 1631.8 827.4C1633.1 827.7 1634.5 828.1 1635.8 828.2C1637.1 828.4 1638.5 828.5 1639.8 828.4C1641.1 828.3 1642.5 828 1643.8 827.6C1645.1 827.1 1646.5 826.4 1647.8 825.6C1649.1 824.9 1650.5 823.9 1651.8 822.9C1653.2 821.8 1654.5 820.6 1655.8 819.4C1657.2 818.2 1658.5 816.8 1659.8 815.4C1661.2 814 1662.5 812.5 1663.8 811.1C1665.2 809.7 1666.5 808.2 1667.8 806.8C1669.2 805.4 1670.5 804.1 1671.9 802.9C1673.2 801.7 1674.5 800.6 1675.9 799.7C1677.2 798.8 1678.5 798.1 1679.9 797.6C1681.2 797.1 1682.5 796.9 1683.9 796.7C1685.2 796.5 1686.5 796.6 1687.9 796.6C1689.2 796.6 1690.5 796.8 1691.9 796.9C1693.2 797 1694.6 797.1 1695.9 797.2C1697.2 797.2 1698.6 797.3 1699.9 797.3C1701.2 797.2 1702.6 797.2 1703.9 797C1705.2 796.7 1706.6 796.5 1707.9 796C1709.2 795.6 1710.6 795 1711.9 794.3C1713.3 793.6 1714.6 792.7 1715.9 791.7C1717.3 790.7 1718.6 789.6 1719.9 788.4C1721.3 787.3 1722.6 786 1723.9 784.6C1725.3 783.3 1726.6 781.8 1727.9 780.4C1729.3 778.9 1730.6 777.4 1731.9 775.9C1733.3 774.3 1734.6 772.7 1736 771C1737.3 769.4 1738.6 767.7 1740 765.9C1741.3 764.1 1742.6 762.3 1744 760.4C1745.3 758.5 1746.6 756.6 1748 754.5C1749.3 752.5 1750.6 750.5 1752 748.2C1753.3 745.8 1754.6 743.6 1756 740.5C1757.3 737.4 1758.7 733.6 1760 729.5C1761.3 725.3 1762.7 720.3 1764 715.7C1765.3 711.1 1766.7 706.2 1768 701.9C1769.3 697.5 1770.7 693.2 1772 689.5C1773.3 685.8 1774.7 682.5 1776 679.7C1777.4 676.9 1778.7 674.6 1780 672.6C1781.4 670.6 1782.7 668.9 1784 667.6C1785.4 666.2 1786.7 665.2 1788 664.7C1789.4 664.1 1790.7 663.9 1792 664.1C1793.4 664.4 1794.7 665 1796 666.2C1797.4 667.4 1798.7 669.1 1800.1 671.1C1801.4 673.1 1802.7 675.7 1804.1 678.5C1805.4 681.3 1806.7 684.4 1808.1 687.7C1809.4 691 1810.7 694.5 1812.1 698.1C1813.4 701.7 1814.7 705.4 1816.1 709.1C1817.4 712.8 1818.8 716.6 1820.1 720.3C1821.4 724.1 1822.8 727.9 1824.1 731.7C1825.4 735.5 1826.8 739.2 1828.1 743C1829.4 746.7 1830.8 750.4 1832.1 754C1833.4 757.6 1834.8 761.2 1836.1 764.6C1837.4 768.1 1838.8 771.5 1840.1 774.8C1841.5 778.1 1842.8 781.3 1844.1 784.3C1845.5 787.4 1846.8 790.3 1848.1 793.1C1849.5 795.9 1850.8 798.5 1852.1 801C1853.5 803.4 1854.8 805.7 1856.1 807.8C1857.5 809.9 1858.8 811.8 1860.1 813.5C1861.5 815.2 1862.8 816.6 1864.2 817.9C1865.5 819.1 1866.8 820.1 1868.2 821.1C1869.5 822 1870.8 822.7 1872.2 823.4C1873.5 824.1 1874.8 824.7 1876.2 825.3C1877.5 825.9 1878.8 826.5 1880.2 827.2C1881.5 827.8 1882.9 828.6 1884.2 829.3C1885.5 830.1 1886.9 831 1888.2 831.9C1889.5 832.8 1890.9 833.8 1892.2 834.7C1893.5 835.7 1894.9 836.7 1896.2 837.7C1897.5 838.7 1898.9 839.7 1900.2 840.7C1901.5 841.6 1902.9 842.6 1904.2 843.5C1905.6 844.5 1906.9 845.4 1908.2 846.2C1909.6 847 1910.9 847.8 1912.2 848.5C1913.6 849.2 1914.9 849.8 1916.2 850.4C1917.6 850.9 1918.9 851.4 1920.2 851.8C1921.6 852.3 1922.9 852.6 1924.2 852.9C1925.6 853.3 1926.9 853.5 1928.3 853.8C1929.6 854 1930.9 854.2 1932.3 854.4C1933.6 854.5 1934.9 854.7 1936.3 854.8C1937.6 854.9 1938.9 855 1940.3 855C1941.6 855.1 1942.9 855.2 1944.3 855.2C1945.6 855.2 1947 855.2 1948.3 855.2C1949.6 855.2 1951 855.2 1952.3 855.2C1953.6 855.2 1955.6 855.2 1956.3 855.2Z" fill="#4f8c3e" stroke="none"/>
<path d="M1131 855.2C1131.7 855.2 1133.7 855.1 1135 855C1136.3 854.9 1137.7 854.8 1139 854.6C1140.3 854.5 1141.7 854.3 1143 854.2C1144.4 854 1145.7 853.8 1147 853.6C1148.4 853.4 1149.7 853.2 1151 853C1152.4 852.8 1153.7 852.5 1155 852.3C1156.4 852.1 1157.7 851.8 1159 851.6C1160.4 851.4 1161.7 851.1 1163.1 850.9C1164.4 850.6 1165.7 850.4 1167.1 850.2C1168.4 849.9 1169.7 849.7 1171.1 849.5C1172.4 849.2 1173.7 849 1175.1 848.8C1176.4 848.6 1177.7 848.4 1179.1 848.2C1180.4 848 1181.7 847.8 1183.1 847.7C1184.4 847.5 1185.8 847.4 1187.1 847.3C1188.4 847.2 1189.8 847.2 1191.1 847.2C1192.4 847.2 1193.8 847.2 1195.1 847.3C1196.4 847.3 1197.8 847.5 1199.1 847.7C1200.4 847.9 1201.8 848.1 1203.1 848.5C1204.4 848.8 1205.8 849.2 1207.1 849.6C1208.5 850 1209.8 850.5 1211.1 850.9C1212.5 851.3 1213.8 851.8 1215.1 852.1C1216.5 852.5 1217.8 852.9 1219.1 853.1C1220.5 853.4 1221.8 853.7 1223.1 853.9C1224.5 854.1 1225.8 854.3 1227.2 854.5C1228.5 854.6 1229.8 854.7 1231.2 854.8C1232.5 854.9 1233.8 855 1235.2 855.1C1236.5 855.1 1237.8 855.1 1239.2 855.2C1240.5 855.2 1241.8 855.2 1243.2 855.2C1244.5 855.2 1245.8 855.2 1247.2 855.2C1248.5 855.2 1249.9 855.2 1251.2 855.2C1252.5 855.2 1253.9 855.2 1255.2 855.1C1256.5 855.1 1257.9 855.1 1259.2 855.1C1260.5 855.1 1261.9 855.1 1263.2 855.1C1264.5 855.1 1265.9 855.1 1267.2 855.1C1268.5 855.1 1269.9 855.1 1271.2 855.1C1272.6 855.1 1273.9 855.1 1275.2 855.1C1276.6 855.1 1277.9 855.1 1279.2 855.1C1280.6 855.1 1281.9 855.2 1283.2 855.2C1284.6 855.2 1285.9 855.2 1287.2 855.2C1288.6 855.2 1289.9 855.2 1291.3 855.2C1292.6 855.2 1293.9 855.2 1295.3 855.2C1296.6 855.2 1297.9 855.2 1299.3 855.2C1300.6 855.2 1301.9 855.2 1303.3 855.2C1304.6 855.2 1305.9 855.2 1307.3 855.2C1308.6 855.2 1309.9 855.2 1311.3 855.2C1312.6 855.2 1314 855.2 1315.3 855.2C1316.6 855.2 1318 855.2 1319.3 855.2C1320.6 855.2 1322 855.2 1323.3 855.2C1324.6 855.2 1326 855.2 1327.3 855.2C1328.6 855.2 1330 855.2 1331.3 855.2C1332.7 855.2 1334 855.2 1335.3 855.2C1336.7 855.2 1338 855.2 1339.3 855.2C1340.7 855.2 1342 855.2 1343.3 855.2C1344.7 855.2 1346 855.2 1347.3 855.2C1348.7 855.2 1350 855.2 1351.3 855.2C1352.7 855.2 1354 855.2 1355.4 855.2C1356.7 855.2 1358 855.2 1359.4 855.2C1360.7 855.2 1362 855.2 1363.4 855.2C1364.7 855.2 1366 855.2 1367.4 855.2C1368.7 855.2 1370 855.2 1371.4 855.2C1372.7 855.2 1374 855.2 1375.4 855.2C1376.7 855.2 1378.1 855.2 1379.4 855.2C1380.7 855.2 1382.1 855.2 1383.4 855.1C1384.7 855.1 1386.1 855 1387.4 855C1388.7 854.9 1390.1 854.8 1391.4 854.7C1392.7 854.6 1394.1 854.4 1395.4 854.2C1396.8 854 1398.1 853.8 1399.4 853.5C1400.8 853.3 1402.1 853 1403.4 852.7C1404.8 852.4 1406.1 852.1 1407.4 851.7C1408.8 851.4 1410.1 851.1 1411.4 850.7C1412.8 850.4 1414.1 850.1 1415.4 849.8C1416.8 849.4 1418.1 849.1 1419.5 848.8C1420.8 848.6 1422.1 848.3 1423.5 848.1C1424.8 847.8 1426.1 847.6 1427.5 847.5C1428.8 847.3 1430.1 847.2 1431.5 847.1C1432.8 847 1434.1 847 1435.5 847.1C1436.8 847.1 1438.2 847.2 1439.5 847.3C1440.8 847.5 1442.2 847.7 1443.5 847.9C1444.8 848.1 1446.2 848.4 1447.5 848.7C1448.8 848.9 1450.2 849.3 1451.5 849.6C1452.8 849.9 1454.2 850.2 1455.5 850.5C1456.8 850.8 1458.2 851.1 1459.5 851.4C1460.9 851.7 1462.2 852 1463.5 852.3C1464.9 852.5 1466.2 852.7 1467.5 852.8C1468.9 852.9 1470.2 853 1471.5 852.9C1472.9 852.8 1474.2 852.6 1475.5 852.4C1476.9 852.1 1478.2 851.8 1479.5 851.5C1480.9 851.1 1482.2 850.7 1483.6 850.3C1484.9 849.9 1486.2 849.5 1487.6 849.1C1488.9 848.7 1490.2 848.3 1491.6 848C1492.9 847.7 1494.2 847.4 1495.6 847.2C1496.9 847.1 1498.2 847 1499.6 846.9C1500.9 846.9 1502.3 846.9 1503.6 847C1504.9 847.1 1506.3 847.3 1507.6 847.4C1508.9 847.6 1510.3 847.8 1511.6 848C1512.9 848.2 1514.3 848.5 1515.6 848.7C1516.9 849 1518.3 849.2 1519.6 849.5C1520.9 849.7 1522.3 850 1523.6 850.2C1525 850.4 1526.3 850.5 1527.6 850.7C1529 850.8 1530.3 850.9 1531.6 851C1533 851 1534.3 851 1535.6 850.9C1537 850.8 1538.3 850.7 1539.6 850.5C1541 850.3 1542.3 850 1543.7 849.7C1545 849.4 1546.3 849.1 1547.7 848.7C1549 848.3 1550.3 847.9 1551.7 847.5C1553 847 1554.3 846.5 1555.7 846.1C1557 845.6 1558.3 845.1 1559.7 844.6C1561 844.1 1562.3 843.6 1563.7 843.1C1565 842.6 1566.4 842.1 1567.7 841.6C1569 841 1570.4 840.5 1571.7 839.9C1573 839.3 1574.4 838.8 1575.7 838.2C1577 837.5 1578.4 836.9 1579.7 836.3C1581 835.7 1582.4 835 1583.7 834.4C1585 833.8 1586.4 833.1 1587.7 832.5C1589.1 831.9 1590.4 831.3 1591.7 830.7C1593.1 830.1 1594.4 829.5 1595.7 829C1597.1 828.5 1598.4 828 1599.7 827.5C1601.1 827 1602.4 826.6 1603.7 826.2C1605.1 825.8 1606.4 825.5 1607.8 825.2C1609.1 824.9 1610.4 824.7 1611.8 824.6C1613.1 824.4 1614.4 824.3 1615.8 824.3C1617.1 824.3 1618.4 824.3 1619.8 824.5C1621.1 824.6 1622.4 824.9 1623.8 825.2C1625.1 825.5 1626.4 825.9 1627.8 826.3C1629.1 826.6 1630.5 827.1 1631.8 827.4C1633.1 827.7 1634.5 828.1 1635.8 828.2C1637.1 828.4 1638.5 828.5 1639.8 828.4C1641.1 828.3 1642.5 828 1643.8 827.6C1645.1 827.1 1646.5 826.4 1647.8 825.6C1649.1 824.9 1650.5 823.9 1651.8 822.9C1653.2 821.8 1654.5 820.6 1655.8 819.4C1657.2 818.2 1658.5 816.8 1659.8 815.4C1661.2 814 1662.5 812.5 1663.8 811.1C1665.2 809.7 1666.5 808.2 1667.8 806.8C1669.2 805.4 1670.5 804.1 1671.9 802.9C1673.2 801.7 1674.5 800.6 1675.9 799.7C1677.2 798.8 1678.5 798.1 1679.9 797.6C1681.2 797.1 1682.5 796.9 1683.9 796.7C1685.2 796.5 1686.5 796.6 1687.9 796.6C1689.2 796.6 1690.5 796.8 1691.9 796.9C1693.2 797 1694.6 797.1 1695.9 797.2C1697.2 797.2 1698.6 797.3 1699.9 797.3C1701.2 797.2 1702.6 797.2 1703.9 797C1705.2 796.7 1706.6 796.5 1707.9 796C1709.2 795.6 1710.6 795 1711.9 794.3C1713.3 793.6 1714.6 792.7 1715.9 791.7C1717.3 790.7 1718.6 789.6 1719.9 788.4C1721.3 787.3 1722.6 786 1723.9 784.6C1725.3 783.3 1726.6 781.8 1727.9 780.4C1729.3 778.9 1730.6 777.4 1731.9 775.9C1733.3 774.3 1734.6 772.7 1736 771C1737.3 769.4 1738.6 767.7 1740 765.9C1741.3 764.1 1742.6 762.3 1744 760.4C1745.3 758.5 1746.6 756.6 1748 754.5C1749.3 752.5 1750.6 750.5 1752 748.2C1753.3 745.8 1754.6 743.6 1756 740.5C1757.3 737.4 1758.7 733.6 1760 729.5C1761.3 725.3 1762.7 720.3 1764 715.7C1765.3 711.1 1766.7 706.2 1768 701.9C1769.3 697.5 1770.7 693.2 1772 689.5C1773.3 685.8 1774.7 682.5 1776 679.7C1777.4 676.9 1778.7 674.6 1780 672.6C1781.4 670.6 1782.7 668.9 1784 667.6C1785.4 666.2 1786.7 665.2 1788 664.7C1789.4 664.1 1790.7 663.9 1792 664.1C1793.4 664.4 1794.7 665 1796 666.2C1797.4 667.4 1798.7 669.1 1800.1 671.1C1801.4 673.1 1802.7 675.7 1804.1 678.5C1805.4 681.3 1806.7 684.4 1808.1 687.7C1809.4 691 1810.7 694.5 1812.1 698.1C1813.4 701.7 1814.7 705.4 1816.1 709.1C1817.4 712.8 1818.8 716.6 1820.1 720.3C1821.4 724.1 1822.8 727.9 1824.1 731.7C1825.4 735.5 1826.8 739.2 1828.1 743C1829.4 746.7 1830.8 750.4 1832.1 754C1833.4 757.6 1834.8 761.2 1836.1 764.6C1837.4 768.1 1838.8 771.5 1840.1 774.8C1841.5 778.1 1842.8 781.3 1844.1 784.3C1845.5 787.4 1846.8 790.3 1848.1 793.1C1849.5 795.9 1850.8 798.5 1852.1 801C1853.5 803.4 1854.8 805.7 1856.1 807.8C1857.5 809.9 1858.8 811.8 1860.1 813.5C1861.5 815.2 1862.8 816.6 1864.2 817.9C1865.5 819.1 1866.8 820.1 1868.2 821.1C1869.5 822 1870.8 822.7 1872.2 823.4C1873.5 824.1 1874.8 824.7 1876.2 825.3C1877.5 825.9 1878.8 826.5 1880.2 827.2C1881.5 827.8 1882.9 828.6 1884.2 829.3C1885.5 830.1 1886.9 831 1888.2 831.9C1889.5 832.8 1890.9 833.8 1892.2 834.7C1893.5 835.7 1894.9 836.7 1896.2 837.7C1897.5 838.7 1898.9 839.7 1900.2 840.7C1901.5 841.6 1902.9 842.6 1904.2 843.5C1905.6 844.5 1906.9 845.4 1908.2 846.2C1909.6 847 1910.9 847.8 1912.2 848.5C1913.6 849.2 1914.9 849.8 1916.2 850.4C1917.6 850.9 1918.9 851.4 1920.2 851.8C1921.6 852.3 1922.9 852.6 1924.2 852.9C1925.6 853.3 1926.9 853.5 1928.3 853.8C1929.6 854 1930.9 854.2 1932.3 854.4C1933.6 854.5 1934.9 854.7 1936.3 854.8C1937.6 854.9 1938.9 855 1940.3 855C1941.6 855.1 1942.9 855.2 1944.3 855.2C1945.6 855.2 1947 855.2 1948.3 855.2C1949.6 855.2 1951 855.2 1952.3 855.2C1953.6 855.2 1955.6 855.2 1956.3 855.2L2047.5 855.2" fill="none" stroke="#000" stroke-width="3.0"/>
<path d="M1620 953.5C1620.7 953.5 1622.7 953.5 1624 953.5C1625.3 953.5 1626.7 953.5 1628 953.5C1629.3 953.5 1630.7 953.5 1632 953.4C1633.3 953.4 1634.6 953.3 1636 953.1C1637.3 953 1638.6 952.8 1640 952.6C1641.3 952.4 1642.6 952.2 1644 951.9C1645.3 951.6 1646.6 951.3 1648 951C1649.3 950.6 1650.6 950.3 1652 949.8C1653.3 949.4 1654.6 948.9 1656 948.3C1657.3 947.7 1658.6 947.1 1660 946.3C1661.3 945.5 1662.6 944.7 1663.9 943.7C1665.3 942.7 1666.6 941.6 1667.9 940.3C1669.3 939 1670.6 937.6 1671.9 936C1673.3 934.3 1674.6 932.6 1675.9 930.6C1677.3 928.6 1678.6 926.4 1679.9 924.1C1681.3 921.7 1682.6 919.2 1683.9 916.5C1685.3 913.8 1686.6 910.9 1687.9 907.9C1689.3 904.9 1690.6 901.8 1691.9 898.5C1693.2 895.2 1694.6 891.8 1695.9 888.2C1697.2 884.7 1698.6 881 1699.9 877.3C1701.2 873.5 1702.6 869.7 1703.9 865.7C1705.2 861.8 1706.6 857.7 1707.9 853.6C1709.2 849.5 1710.6 845.3 1711.9 841C1713.2 836.7 1714.6 832.4 1715.9 827.9C1717.2 823.5 1718.6 818.9 1719.9 814.4C1721.2 809.9 1722.5 805.3 1723.9 800.8C1725.2 796.3 1726.5 791.8 1727.9 787.6C1729.2 783.4 1730.5 779.2 1731.9 775.4C1733.2 771.6 1734.5 767.9 1735.9 764.7C1737.2 761.4 1738.5 758.5 1739.9 756C1741.2 753.5 1742.5 751.4 1743.9 749.6C1745.2 747.8 1746.5 746.5 1747.9 745.5C1749.2 744.4 1750.5 743.8 1751.8 743.5C1753.2 743.1 1754.5 743.2 1755.8 743.5C1757.2 743.9 1758.5 744.5 1759.8 745.5C1761.2 746.6 1762.5 747.9 1763.8 749.6C1765.2 751.3 1766.5 753.4 1767.8 755.8C1769.2 758.1 1770.5 760.9 1771.8 763.7C1773.2 766.6 1774.5 769.8 1775.8 773C1777.1 776.2 1778.5 779.6 1779.8 782.9C1781.1 786.3 1782.5 789.8 1783.8 793.2C1785.1 796.6 1786.5 800.1 1787.8 803.5C1789.1 806.9 1790.5 810.3 1791.8 813.6C1793.1 816.9 1794.5 820.2 1795.8 823.3C1797.1 826.5 1798.5 829.5 1799.8 832.4C1801.1 835.3 1802.5 838.1 1803.8 840.7C1805.1 843.3 1806.4 845.8 1807.8 848C1809.1 850.2 1810.4 852.1 1811.8 853.9C1813.1 855.7 1814.4 857.3 1815.8 858.7C1817.1 860.2 1818.4 861.4 1819.8 862.6C1821.1 863.9 1822.4 864.9 1823.8 866C1825.1 867.1 1826.4 868 1827.8 869.1C1829.1 870.1 1830.4 871.1 1831.8 872.2C1833.1 873.3 1834.4 874.4 1835.7 875.6C1837.1 876.9 1838.4 878.2 1839.7 879.5C1841.1 880.9 1842.4 882.3 1843.7 883.8C1845.1 885.2 1846.4 886.8 1847.7 888.4C1849.1 889.9 1850.4 891.6 1851.7 893.3C1853.1 894.9 1854.4 896.7 1855.7 898.4C1857.1 900.2 1858.4 902 1859.7 903.8C1861.1 905.6 1862.4 907.5 1863.7 909.4C1865 911.2 1866.4 913.1 1867.7 915C1869 916.9 1870.4 918.8 1871.7 920.6C1873 922.5 1874.4 924.3 1875.7 926C1877 927.7 1878.4 929.4 1879.7 931C1881 932.6 1882.4 934.1 1883.7 935.5C1885 936.8 1886.4 938.1 1887.7 939.2C1889 940.3 1890.4 941.3 1891.7 942.1C1893 942.9 1894.3 943.6 1895.7 944.1C1897 944.7 1898.3 945.1 1899.7 945.3C1901 945.6 1902.3 945.7 1903.7 945.7C1905 945.6 1906.3 945.5 1907.7 945.2C1909 944.9 1910.3 944.5 1911.7 944C1913 943.5 1914.3 942.8 1915.7 942.2C1917 941.5 1918.3 940.8 1919.6 940.1C1921 939.4 1922.3 938.6 1923.6 937.9C1925 937.3 1926.3 936.6 1927.6 936C1929 935.4 1930.3 934.9 1931.6 934.5C1933 934.2 1934.3 934 1935.6 933.8C1937 933.7 1938.3 933.7 1939.6 933.7C1941 933.8 1942.3 934 1943.6 934.2C1945 934.4 1946.3 934.7 1947.6 935C1948.9 935.3 1950.3 935.7 1951.6 936C1952.9 936.3 1954.3 936.6 1955.6 936.9C1956.9 937.1 1958.3 937.4 1959.6 937.5C1960.9 937.7 1962.3 937.7 1963.6 937.7C1964.9 937.6 1966.3 937.5 1967.6 937.2C1968.9 937 1970.3 936.7 1971.6 936.4C1972.9 936.1 1974.3 935.7 1975.6 935.4C1976.9 935 1978.2 934.6 1979.6 934.3C1980.9 934 1982.2 933.7 1983.6 933.6C1984.9 933.4 1986.2 933.3 1987.6 933.3C1988.9 933.4 1990.2 933.5 1991.6 933.8C1992.9 934.1 1994.2 934.5 1995.6 935C1996.9 935.5 1998.2 936.2 1999.6 936.8C2000.9 937.5 2002.2 938.4 2003.6 939.2C2004.9 940 2006.2 940.9 2007.5 941.8C2008.9 942.7 2010.2 943.6 2011.5 944.5C2012.9 945.4 2014.2 946.2 2015.5 947C2016.9 947.8 2018.2 948.5 2019.5 949C2020.9 949.6 2022.2 950.1 2023.5 950.5C2024.9 950.9 2026.2 951.3 2027.5 951.5C2028.9 951.8 2030.2 952 2031.5 952.2C2032.9 952.4 2034.2 952.6 2035.5 952.8C2036.8 952.9 2038.2 953 2039.5 953.1C2040.8 953.2 2042.2 953.3 2043.5 953.4C2044.8 953.4 2046.8 953.5 2047.5 953.5Z" fill="#284212" stroke="none"/>
<path d="M1131 953.5L1620 953.5C1620.7 953.5 1622.7 953.5 1624 953.5C1625.3 953.5 1626.7 953.5 1628 953.5C1629.3 953.5 1630.7 953.5 1632 953.4C1633.3 953.4 1634.6 953.3 1636 953.1C1637.3 953 1638.6 952.8 1640 952.6C1641.3 952.4 1642.6 952.2 1644 951.9C1645.3 951.6 1646.6 951.3 1648 951C1649.3 950.6 1650.6 950.3 1652 949.8C1653.3 949.4 1654.6 948.9 1656 948.3C1657.3 947.7 1658.6 947.1 1660 946.3C1661.3 945.5 1662.6 944.7 1663.9 943.7C1665.3 942.7 1666.6 941.6 1667.9 940.3C1669.3 939 1670.6 937.6 1671.9 936C1673.3 934.3 1674.6 932.6 1675.9 930.6C1677.3 928.6 1678.6 926.4 1679.9 924.1C1681.3 921.7 1682.6 919.2 1683.9 916.5C1685.3 913.8 1686.6 910.9 1687.9 907.9C1689.3 904.9 1690.6 901.8 1691.9 898.5C1693.2 895.2 1694.6 891.8 1695.9 888.2C1697.2 884.7 1698.6 881 1699.9 877.3C1701.2 873.5 1702.6 869.7 1703.9 865.7C1705.2 861.8 1706.6 857.7 1707.9 853.6C1709.2 849.5 1710.6 845.3 1711.9 841C1713.2 836.7 1714.6 832.4 1715.9 827.9C1717.2 823.5 1718.6 818.9 1719.9 814.4C1721.2 809.9 1722.5 805.3 1723.9 800.8C1725.2 796.3 1726.5 791.8 1727.9 787.6C1729.2 783.4 1730.5 779.2 1731.9 775.4C1733.2 771.6 1734.5 767.9 1735.9 764.7C1737.2 761.4 1738.5 758.5 1739.9 756C1741.2 753.5 1742.5 751.4 1743.9 749.6C1745.2 747.8 1746.5 746.5 1747.9 745.5C1749.2 744.4 1750.5 743.8 1751.8 743.5C1753.2 743.1 1754.5 743.2 1755.8 743.5C1757.2 743.9 1758.5 744.5 1759.8 745.5C1761.2 746.6 1762.5 747.9 1763.8 749.6C1765.2 751.3 1766.5 753.4 1767.8 755.8C1769.2 758.1 1770.5 760.9 1771.8 763.7C1773.2 766.6 1774.5 769.8 1775.8 773C1777.1 776.2 1778.5 779.6 1779.8 782.9C1781.1 786.3 1782.5 789.8 1783.8 793.2C1785.1 796.6 1786.5 800.1 1787.8 803.5C1789.1 806.9 1790.5 810.3 1791.8 813.6C1793.1 816.9 1794.5 820.2 1795.8 823.3C1797.1 826.5 1798.5 829.5 1799.8 832.4C1801.1 835.3 1802.5 838.1 1803.8 840.7C1805.1 843.3 1806.4 845.8 1807.8 848C1809.1 850.2 1810.4 852.1 1811.8 853.9C1813.1 855.7 1814.4 857.3 1815.8 858.7C1817.1 860.2 1818.4 861.4 1819.8 862.6C1821.1 863.9 1822.4 864.9 1823.8 866C1825.1 867.1 1826.4 868 1827.8 869.1C1829.1 870.1 1830.4 871.1 1831.8 872.2C1833.1 873.3 1834.4 874.4 1835.7 875.6C1837.1 876.9 1838.4 878.2 1839.7 879.5C1841.1 880.9 1842.4 882.3 1843.7 883.8C1845.1 885.2 1846.4 886.8 1847.7 888.4C1849.1 889.9 1850.4 891.6 1851.7 893.3C1853.1 894.9 1854.4 896.7 1855.7 898.4C1857.1 900.2 1858.4 902 1859.7 903.8C1861.1 905.6 1862.4 907.5 1863.7 909.4C1865 911.2 1866.4 913.1 1867.7 915C1869 916.9 1870.4 918.8 1871.7 920.6C1873 922.5 1874.4 924.3 1875.7 926C1877 927.7 1878.4 929.4 1879.7 931C1881 932.6 1882.4 934.1 1883.7 935.5C1885 936.8 1886.4 938.1 1887.7 939.2C1889 940.3 1890.4 941.3 1891.7 942.1C1893 942.9 1894.3 943.6 1895.7 944.1C1897 944.7 1898.3 945.1 1899.7 945.3C1901 945.6 1902.3 945.7 1903.7 945.7C1905 945.6 1906.3 945.5 1907.7 945.2C1909 944.9 1910.3 944.5 1911.7 944C1913 943.5 1914.3 942.8 1915.7 942.2C1917 941.5 1918.3 940.8 1919.6 940.1C1921 939.4 1922.3 938.6 1923.6 937.9C1925 937.3 1926.3 936.6 1927.6 936C1929 935.4 1930.3 934.9 1931.6 934.5C1933 934.2 1934.3 934 1935.6 933.8C1937 933.7 1938.3 933.7 1939.6 933.7C1941 933.8 1942.3 934 1943.6 934.2C1945 934.4 1946.3 934.7 1947.6 935C1948.9 935.3 1950.3 935.7 1951.6 936C1952.9 936.3 1954.3 936.6 1955.6 936.9C1956.9 937.1 1958.3 937.4 1959.6 937.5C1960.9 937.7 1962.3 937.7 1963.6 937.7C1964.9 937.6 1966.3 937.5 1967.6 937.2C1968.9 937 1970.3 936.7 1971.6 936.4C1972.9 936.1 1974.3 935.7 1975.6 935.4C1976.9 935 1978.2 934.6 1979.6 934.3C1980.9 934 1982.2 933.7 1983.6 933.6C1984.9 933.4 1986.2 933.3 1987.6 933.3C1988.9 933.4 1990.2 933.5 1991.6 933.8C1992.9 934.1 1994.2 934.5 1995.6 935C1996.9 935.5 1998.2 936.2 1999.6 936.8C2000.9 937.5 2002.2 938.4 2003.6 939.2C2004.9 940 2006.2 940.9 2007.5 941.8C2008.9 942.7 2010.2 943.6 2011.5 944.5C2012.9 945.4 2014.2 946.2 2015.5 947C2016.9 947.8 2018.2 948.5 2019.5 949C2020.9 949.6 2022.2 950.1 2023.5 950.5C2024.9 950.9 2026.2 951.3 2027.5 951.5C2028.9 951.8 2030.2 952 2031.5 952.2C2032.9 952.4 2034.2 952.6 2035.5 952.8C2036.8 952.9 2038.2 953 2039.5 953.1C2040.8 953.2 2042.2 953.3 2043.5 953.4C2044.8 953.4 2046.8 953.5 2047.5 953.5" fill="none" stroke="#000" stroke-width="3.0"/>
</g>
<g stroke="#000" stroke-width="3.2" fill="none" stroke-linecap="butt">
<path d="M136.7 981.8H1051"/>
<path d="M138.3 981.8V1013"/>
<path d="M406.4 981.8V1013"/>
<path d="M667.9 981.8V1013"/>
<path d="M942.2 981.8V1013"/>
<path d="M1132 983.2H2050"/>
<path d="M1270.2 983.2V1013.7"/>
<path d="M1512.6 983.2V1013.7"/>
<path d="M1754.5 983.2V1013.7"/>
<path d="M1997 983.2V1013.7"/>
</g>
<g stroke="#000" stroke-width="5.6" fill="none" stroke-linejoin="miter">
<path d="M71.2 139.6H47V379.5H70.7"/>
<path d="M70.4 433.5H47V668.5H69.9"/>
<path d="M69.7 728.2H46.1V974.4H69.2"/>
</g>
<g font-family="'Liberation Serif','Times New Roman',Times,serif" font-weight="bold">
<text transform="translate(83.7 167.9) scale(0.9550 1)" font-size="45.6" fill="#231f20">PF</text>
<text transform="translate(83.3 266) scale(0.9336 1)" font-size="45.6" fill="#231f20">FT</text>
<text transform="translate(81.5 363.8) scale(0.9640 1)" font-size="45.6" fill="#231f20">CF</text>
<text transform="translate(86 461.8) scale(0.9613 1)" font-size="45.6" fill="#231f20">JB</text>
<text transform="translate(83.2 560.6) scale(0.9516 1)" font-size="45.6" fill="#231f20">RF</text>
<text transform="translate(74 658.4) scale(0.9397 1)" font-size="45.6" fill="#231f20">CH</text>
<text transform="translate(71.9 756.8) scale(0.9825 1)" font-size="45.6" fill="#231f20">OC</text>
<text transform="translate(83.2 855.6) scale(0.9516 1)" font-size="45.6" fill="#231f20">RF</text>
<text transform="translate(75.9 953.9) scale(0.9719 1)" font-size="45.6" fill="#231f20">CC</text>
<text transform="translate(27.2 353.1) rotate(-90) scale(0.9341 1)" font-size="41.6" fill="#000">Quaternary</text>
<text transform="translate(30.2 617.3) rotate(-90) scale(0.9359 1)" font-size="41.6" fill="#000">Neogene</text>
<text transform="translate(30 987.3) rotate(-90) scale(0.9254 1)" font-size="41.8" fill="#000">Late Cretaceous</text>
<text transform="translate(81.4 1041) scale(1.0048 1)" font-size="44.8" fill="#000">−0.1</text>
<text transform="translate(380.9 1041) scale(1.0144 1)" font-size="44.8" fill="#000">0.0</text>
<text transform="translate(644 1041) scale(0.9871 1)" font-size="44.8" fill="#000">0.1</text>
<text transform="translate(915 1041) scale(0.9882 1)" font-size="44.8" fill="#000">0.2</text>
<text transform="translate(1235.6 1055.1) scale(1.0184 1)" font-size="44.8" fill="#000">−0.2</text>
<text transform="translate(1477.6 1055.1) scale(1.0087 1)" font-size="44.8" fill="#000">−0.1</text>
<text transform="translate(1731.3 1055.1) scale(1.0106 1)" font-size="44.8" fill="#000">0.0</text>
<text transform="translate(1973.2 1055.1) scale(0.9891 1)" font-size="44.8" fill="#000">0.1</text>
<text transform="translate(560.7 1109.5) scale(0.9566 1)" font-size="57" fill="#000">PC1</text>
<text transform="translate(1551.7 1109.4) scale(0.9670 1)" font-size="57" fill="#000">PC2</text>
<text transform="translate(375.6 1199.8) scale(0.9329 1)" font-size="40" fill="#000">Late Cretaceous-<tspan font-style="italic">Nucula percrassus</tspan></text>
<text transform="translate(374.5 1250.4) scale(0.9395 1)" font-size="40" fill="#7fe868">Owl Creek Fm (OC)</text>
<text transform="translate(376.5 1295.8) scale(0.9339 1)" font-size="40" fill="#4f8c3e">Ripley Fm (RF)</text>
<text transform="translate(375.4 1338.6) scale(0.9359 1)" font-size="40" fill="#284212">Coon Creek Fm (CC)</text>
<text transform="translate(366.6 1403.6) scale(0.9339 1)" font-size="40" fill="#000">Neogene-<tspan font-style="italic">Nucula chipolana</tspan></text>
<text transform="translate(364.8 1444.3) scale(0.9332 1)" font-size="40" fill="#de7c1c">Chipola Fm (CH)</text>
<text transform="translate(1056.9 1199.8) scale(0.9335 1)" font-size="40" fill="#000">Neogene–Quaternary-<tspan font-style="italic">Nucula proxima</tspan></text>
<text transform="translate(1061 1249.4) scale(0.9380 1)" font-size="40" fill="#6a1b92">Pamlico Fm (PF)</text>
<text transform="translate(1060.3 1295.6) scale(0.9346 1)" font-size="40" fill="#f5d431">Fort Thompson Fm (FT)</text>
<text transform="translate(1055.8 1339) scale(0.9341 1)" font-size="40" fill="#1c2b44">Caloosahatchee Fm/Bermont Fm (CF)</text>
<text transform="translate(1058.6 1384.6) scale(0.9356 1)" font-size="40" fill="#d485ea">Jackson Bluff Fm (JB)</text>
<text transform="translate(1060.3 1426.1) scale(0.9350 1)" font-size="40" fill="#c8143b">Raysor Fm (RF)</text>
</g>
<rect x="355.4" y="1156" width="1363" height="318.5" fill="none" stroke="#000" stroke-width="2.7"/>
</svg>
</body></html>
